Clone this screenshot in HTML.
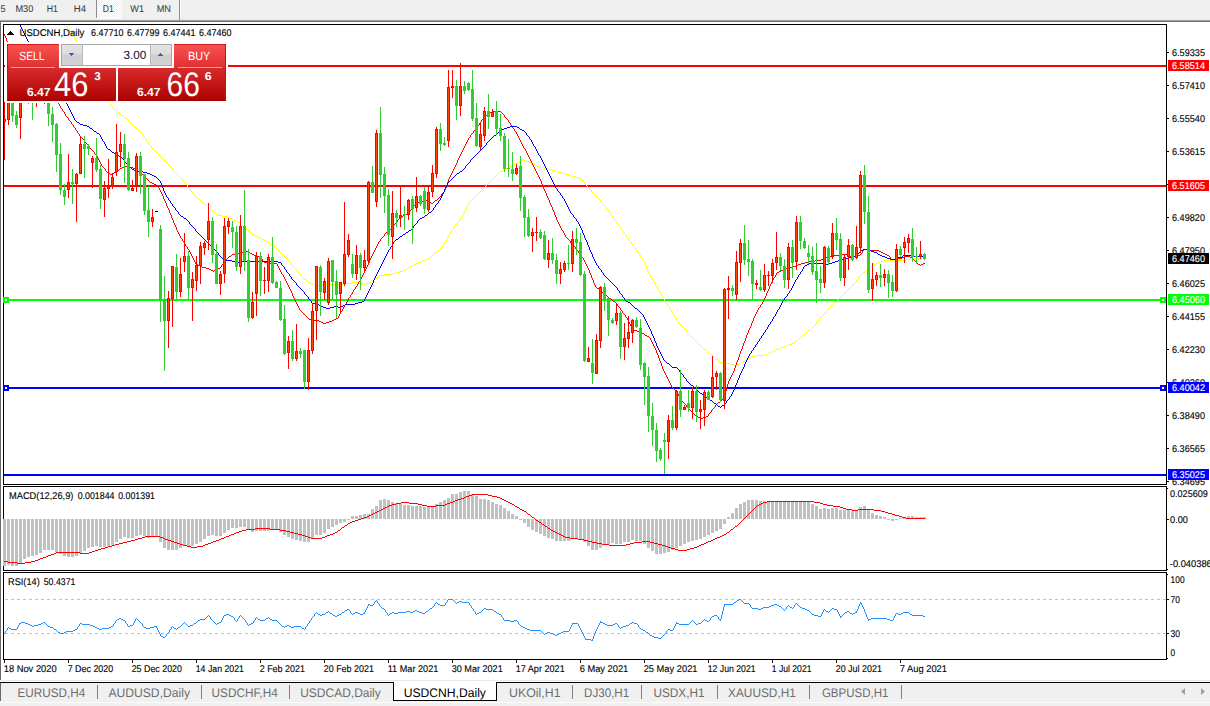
<!DOCTYPE html>
<html><head><meta charset="utf-8"><title>USDCNH,Daily</title>
<style>html,body{margin:0;padding:0;background:#fff;overflow:hidden}svg{display:block}text{font-family:"Liberation Sans",sans-serif}</style>
</head><body>
<svg width="1210" height="706" viewBox="0 0 1210 706">
<rect x="0" y="0" width="1210" height="706" fill="#ffffff"/>
<rect x="0" y="0" width="1210" height="19" fill="#f0f0f0"/>
<rect x="0" y="19" width="1210" height="1" fill="#e6e6e6"/>
<rect x="0" y="20" width="1210" height="1" fill="#a6a6a6"/>
<rect x="0" y="21" width="1210" height="1" fill="#6a6a6a"/>
<pattern id="ck" width="2" height="2" patternUnits="userSpaceOnUse"><rect width="2" height="2" fill="#f0f0f0"/><rect width="1" height="1" fill="#fff"/><rect x="1" y="1" width="1" height="1" fill="#fff"/></pattern>
<rect x="96" y="0" width="1" height="18" fill="#8c8c8c" shape-rendering="crispEdges"/>
<rect x="97" y="0" width="24" height="18" fill="url(#ck)" shape-rendering="crispEdges"/>
<rect x="96" y="18" width="26" height="1" fill="#fcfcfc"/>
<rect x="121" y="0" width="1" height="18" fill="#fcfcfc"/>
<rect x="179" y="0" width="1" height="20" fill="#8c8c8c"/>
<rect x="180" y="0" width="1" height="19" fill="#fcfcfc"/>
<text x="0.5" y="12" font-size="9.8" fill="#3a3a3a" textLength="5.0" lengthAdjust="spacingAndGlyphs" text-rendering="geometricPrecision" stroke="#3a3a3a" stroke-width="0.05">5</text>
<text x="15.4" y="12" font-size="9.8" fill="#3a3a3a" textLength="17.9" lengthAdjust="spacingAndGlyphs" text-rendering="geometricPrecision" stroke="#3a3a3a" stroke-width="0.05">M30</text>
<text x="46.8" y="12" font-size="9.8" fill="#3a3a3a" textLength="11.2" lengthAdjust="spacingAndGlyphs" text-rendering="geometricPrecision" stroke="#3a3a3a" stroke-width="0.05">H1</text>
<text x="73.8" y="12" font-size="9.8" fill="#3a3a3a" textLength="12.2" lengthAdjust="spacingAndGlyphs" text-rendering="geometricPrecision" stroke="#3a3a3a" stroke-width="0.05">H4</text>
<text x="102.8" y="12" font-size="9.8" fill="#3a3a3a" textLength="11.0" lengthAdjust="spacingAndGlyphs" text-rendering="geometricPrecision" stroke="#3a3a3a" stroke-width="0.05">D1</text>
<text x="130.3" y="12" font-size="9.8" fill="#3a3a3a" textLength="13.7" lengthAdjust="spacingAndGlyphs" text-rendering="geometricPrecision" stroke="#3a3a3a" stroke-width="0.05">W1</text>
<text x="156.7" y="12" font-size="9.8" fill="#3a3a3a" textLength="14.3" lengthAdjust="spacingAndGlyphs" text-rendering="geometricPrecision" stroke="#3a3a3a" stroke-width="0.05">MN</text>
<rect x="0" y="22" width="1" height="658" fill="#696969"/>
<clipPath id="cm"><rect x="4" y="25" width="1162" height="459"/></clipPath>
<g clip-path="url(#cm)" shape-rendering="crispEdges">
<rect x="4" y="65" width="1163" height="2" fill="#ff0000"/>
<rect x="4" y="185" width="1163" height="2" fill="#ff0000"/>
<rect x="4" y="299" width="1163" height="2" fill="#00ff00"/>
<rect x="4" y="387" width="1163" height="2" fill="#0000ff"/>
<rect x="4" y="474" width="1163" height="2" fill="#0000ff"/>
<path d="M66 25h1v1h-1zM67 26h1v2h-1zM68 28h1v1h-1zM69 29h1v2h-1zM70 31h1v1h-1zM71 32h1v2h-1zM72 34h1v2h-1zM73 36h1v1h-1zM74 37h1v2h-1zM75 39h1v1h-1zM76 40h1v2h-1zM77 42h1v2h-1zM78 44h1v2h-1zM79 46h1v2h-1zM80 48h1v2h-1zM81 50h1v2h-1zM82 52h1v2h-1zM83 54h1v2h-1zM84 56h1v3h-1zM85 59h1v2h-1zM86 61h1v2h-1zM87 63h1v2h-1zM88 65h1v2h-1zM89 67h1v2h-1zM90 69h1v2h-1zM91 71h1v2h-1zM92 73h1v2h-1zM93 75h1v2h-1zM94 77h1v2h-1zM95 79h1v1h-1zM96 80h1v2h-1zM97 82h1v2h-1zM98 84h1v2h-1zM99 86h1v2h-1zM100 88h1v1h-1zM101 89h1v2h-1zM102 91h1v2h-1zM103 93h1v1h-1zM104 94h1v2h-1zM105 96h1v2h-1zM106 98h1v1h-1zM107 99h1v2h-1zM108 101h1v2h-1zM109 103h1v1h-1zM110 104h1v1h-1zM111 105h1v1h-1zM112 106h1v1h-1zM113 107h1v2h-1zM114 109h1v1h-1zM115 110h1v1h-1zM116 111h1v1h-1zM117 112h1v1h-1zM118 112h1v1h-1zM119 113h1v1h-1zM120 114h1v1h-1zM121 115h1v1h-1zM122 115h1v1h-1zM123 116h1v1h-1zM124 117h1v1h-1zM125 118h1v1h-1zM126 118h1v1h-1zM127 119h1v1h-1zM128 120h1v1h-1zM129 121h1v1h-1zM130 122h1v1h-1zM131 123h1v1h-1zM132 124h1v1h-1zM133 125h1v1h-1zM134 126h1v1h-1zM135 127h1v1h-1zM136 128h1v1h-1zM137 129h1v1h-1zM138 130h1v1h-1zM139 131h1v1h-1zM140 132h1v1h-1zM141 133h1v1h-1zM142 134h1v2h-1zM143 136h1v1h-1zM144 137h1v1h-1zM145 138h1v2h-1zM146 140h1v1h-1zM147 141h1v1h-1zM148 142h1v2h-1zM149 144h1v1h-1zM150 145h1v1h-1zM151 146h1v2h-1zM152 148h1v1h-1zM153 149h1v1h-1zM154 150h1v1h-1zM155 151h1v1h-1zM156 152h1v1h-1zM157 153h1v1h-1zM158 154h1v1h-1zM159 155h1v1h-1zM160 156h1v1h-1zM161 157h1v1h-1zM162 158h1v1h-1zM163 159h1v1h-1zM164 160h1v1h-1zM165 161h1v1h-1zM166 162h1v1h-1zM167 163h1v1h-1zM168 164h1v1h-1zM169 165h1v1h-1zM170 166h1v1h-1zM171 167h1v1h-1zM172 168h1v2h-1zM173 170h1v1h-1zM174 171h1v1h-1zM175 172h1v1h-1zM176 173h1v1h-1zM177 174h1v1h-1zM178 175h1v1h-1zM179 176h1v1h-1zM180 177h1v1h-1zM181 178h1v1h-1zM182 179h1v2h-1zM183 181h1v1h-1zM184 182h1v1h-1zM185 183h1v1h-1zM186 184h1v1h-1zM187 185h1v2h-1zM188 187h1v1h-1zM189 188h1v1h-1zM190 189h1v1h-1zM191 190h1v2h-1zM192 192h1v1h-1zM193 193h1v2h-1zM194 195h1v1h-1zM195 196h1v1h-1zM196 197h1v1h-1zM197 198h1v1h-1zM198 198h1v1h-1zM199 199h1v1h-1zM200 200h1v1h-1zM201 201h1v1h-1zM202 202h1v1h-1zM203 203h1v1h-1zM204 203h1v1h-1zM205 204h1v1h-1zM206 205h1v1h-1zM207 206h1v1h-1zM208 207h1v1h-1zM209 208h1v1h-1zM210 209h1v1h-1zM211 210h1v1h-1zM212 210h1v1h-1zM213 211h1v1h-1zM214 212h1v1h-1zM215 213h1v1h-1zM216 214h1v1h-1zM217 215h1v1h-1zM218 215h1v1h-1zM219 215h1v1h-1zM220 215h1v1h-1zM221 215h1v1h-1zM222 216h1v1h-1zM223 216h1v1h-1zM224 216h1v1h-1zM225 216h1v1h-1zM226 216h1v1h-1zM227 216h1v1h-1zM228 217h1v1h-1zM229 217h1v1h-1zM230 218h1v1h-1zM231 218h1v1h-1zM232 219h1v1h-1zM233 219h1v1h-1zM234 220h1v1h-1zM235 220h1v1h-1zM236 221h1v1h-1zM237 221h1v1h-1zM238 222h1v1h-1zM239 222h1v1h-1zM240 223h1v1h-1zM241 224h1v1h-1zM242 225h1v1h-1zM243 226h1v1h-1zM244 227h1v1h-1zM245 228h1v1h-1zM246 228h1v1h-1zM247 229h1v1h-1zM248 230h1v1h-1zM249 231h1v1h-1zM250 232h1v1h-1zM251 233h1v1h-1zM252 234h1v1h-1zM253 234h1v1h-1zM254 235h1v1h-1zM255 235h1v1h-1zM256 236h1v1h-1zM257 236h1v1h-1zM258 237h1v1h-1zM259 237h1v1h-1zM260 238h1v1h-1zM261 238h1v1h-1zM262 239h1v1h-1zM263 239h1v1h-1zM264 240h1v1h-1zM265 240h1v1h-1zM266 241h1v1h-1zM267 241h1v1h-1zM268 242h1v1h-1zM269 243h1v1h-1zM270 244h1v1h-1zM271 244h1v1h-1zM272 245h1v1h-1zM273 246h1v1h-1zM274 246h1v1h-1zM275 247h1v1h-1zM276 248h1v1h-1zM277 249h1v1h-1zM278 250h1v1h-1zM279 251h1v1h-1zM280 252h1v1h-1zM281 253h1v1h-1zM282 254h1v1h-1zM283 255h1v1h-1zM284 256h1v1h-1zM285 257h1v1h-1zM286 258h1v1h-1zM287 259h1v1h-1zM288 260h1v1h-1zM289 261h1v1h-1zM290 262h1v1h-1zM291 263h1v2h-1zM292 265h1v1h-1zM293 266h1v1h-1zM294 267h1v1h-1zM295 268h1v1h-1zM296 269h1v2h-1zM297 271h1v1h-1zM298 272h1v1h-1zM299 273h1v1h-1zM300 274h1v2h-1zM301 276h1v1h-1zM302 277h1v1h-1zM303 278h1v1h-1zM304 279h1v1h-1zM305 279h1v1h-1zM306 280h1v1h-1zM307 281h1v1h-1zM308 282h1v1h-1zM309 282h1v1h-1zM310 283h1v1h-1zM311 283h1v1h-1zM312 284h1v1h-1zM313 284h1v1h-1zM314 285h1v1h-1zM315 285h1v1h-1zM316 285h1v1h-1zM317 285h1v1h-1zM318 285h1v1h-1zM319 285h1v1h-1zM320 285h1v1h-1zM321 285h1v1h-1zM322 285h1v1h-1zM323 285h1v1h-1zM324 285h1v1h-1zM325 285h1v1h-1zM326 284h1v1h-1zM327 284h1v1h-1zM328 284h1v1h-1zM329 284h1v1h-1zM330 284h1v1h-1zM331 284h1v1h-1zM332 284h1v1h-1zM333 284h1v1h-1zM334 284h1v1h-1zM335 284h1v1h-1zM336 284h1v1h-1zM337 284h1v1h-1zM338 284h1v1h-1zM339 284h1v1h-1zM340 284h1v1h-1zM341 284h1v1h-1zM342 284h1v1h-1zM343 284h1v1h-1zM344 283h1v1h-1zM345 283h1v1h-1zM346 283h1v1h-1zM347 283h1v1h-1zM348 283h1v1h-1zM349 283h1v1h-1zM350 283h1v1h-1zM351 283h1v1h-1zM352 282h1v1h-1zM353 282h1v1h-1zM354 282h1v1h-1zM355 282h1v1h-1zM356 282h1v1h-1zM357 282h1v1h-1zM358 283h1v1h-1zM359 283h1v1h-1zM360 283h1v1h-1zM361 283h1v1h-1zM362 284h1v1h-1zM363 284h1v1h-1zM364 284h1v1h-1zM365 283h1v1h-1zM366 283h1v1h-1zM367 283h1v1h-1zM368 283h1v1h-1zM369 282h1v1h-1zM370 282h1v1h-1zM371 282h1v1h-1zM372 281h1v1h-1zM373 280h1v1h-1zM374 279h1v1h-1zM375 278h1v1h-1zM376 278h1v1h-1zM377 277h1v1h-1zM378 276h1v1h-1zM379 275h1v1h-1zM380 275h1v1h-1zM381 275h1v1h-1zM382 275h1v1h-1zM383 275h1v1h-1zM384 274h1v1h-1zM385 274h1v1h-1zM386 274h1v1h-1zM387 274h1v1h-1zM388 274h1v1h-1zM389 274h1v1h-1zM390 274h1v1h-1zM391 274h1v1h-1zM392 273h1v1h-1zM393 273h1v1h-1zM394 273h1v1h-1zM395 273h1v1h-1zM396 272h1v1h-1zM397 272h1v1h-1zM398 272h1v1h-1zM399 272h1v1h-1zM400 271h1v1h-1zM401 271h1v1h-1zM402 271h1v1h-1zM403 270h1v1h-1zM404 270h1v1h-1zM405 269h1v1h-1zM406 269h1v1h-1zM407 268h1v1h-1zM408 267h1v1h-1zM409 267h1v1h-1zM410 266h1v1h-1zM411 266h1v1h-1zM412 265h1v1h-1zM413 265h1v1h-1zM414 264h1v1h-1zM415 264h1v1h-1zM416 263h1v1h-1zM417 263h1v1h-1zM418 262h1v1h-1zM419 262h1v1h-1zM420 262h1v1h-1zM421 261h1v1h-1zM422 261h1v1h-1zM423 260h1v1h-1zM424 260h1v1h-1zM425 260h1v1h-1zM426 259h1v1h-1zM427 259h1v1h-1zM428 258h1v1h-1zM429 258h1v1h-1zM430 257h1v1h-1zM431 256h1v1h-1zM432 255h1v1h-1zM433 254h1v1h-1zM434 253h1v1h-1zM435 252h1v1h-1zM436 252h1v1h-1zM437 251h1v1h-1zM438 250h1v1h-1zM439 249h1v1h-1zM440 248h1v1h-1zM441 247h1v1h-1zM442 246h1v1h-1zM443 244h1v2h-1zM444 242h1v2h-1zM445 241h1v1h-1zM446 239h1v2h-1zM447 237h1v2h-1zM448 235h1v2h-1zM449 234h1v1h-1zM450 232h1v2h-1zM451 230h1v2h-1zM452 229h1v1h-1zM453 228h1v1h-1zM454 226h1v2h-1zM455 225h1v1h-1zM456 224h1v1h-1zM457 222h1v2h-1zM458 221h1v1h-1zM459 220h1v1h-1zM460 218h1v2h-1zM461 217h1v1h-1zM462 215h1v2h-1zM463 213h1v2h-1zM464 211h1v2h-1zM465 209h1v2h-1zM466 207h1v2h-1zM467 205h1v2h-1zM468 203h1v2h-1zM469 202h1v1h-1zM470 201h1v1h-1zM471 200h1v1h-1zM472 199h1v1h-1zM473 198h1v1h-1zM474 197h1v1h-1zM475 196h1v1h-1zM476 195h1v1h-1zM477 194h1v1h-1zM478 193h1v1h-1zM479 192h1v1h-1zM480 191h1v1h-1zM481 190h1v1h-1zM482 189h1v1h-1zM483 188h1v1h-1zM484 187h1v1h-1zM485 186h1v1h-1zM486 185h1v1h-1zM487 184h1v1h-1zM488 183h1v1h-1zM489 182h1v1h-1zM490 181h1v1h-1zM491 180h1v1h-1zM492 179h1v1h-1zM493 178h1v1h-1zM494 177h1v1h-1zM495 176h1v1h-1zM496 175h1v1h-1zM497 174h1v1h-1zM498 173h1v1h-1zM499 172h1v1h-1zM500 171h1v1h-1zM501 171h1v1h-1zM502 170h1v1h-1zM503 170h1v1h-1zM504 169h1v1h-1zM505 169h1v1h-1zM506 168h1v1h-1zM507 168h1v1h-1zM508 167h1v1h-1zM509 167h1v1h-1zM510 166h1v1h-1zM511 166h1v1h-1zM512 165h1v1h-1zM513 165h1v1h-1zM514 164h1v1h-1zM515 163h1v1h-1zM516 163h1v1h-1zM517 162h1v1h-1zM518 162h1v1h-1zM519 161h1v1h-1zM520 161h1v1h-1zM521 161h1v1h-1zM522 160h1v1h-1zM523 160h1v1h-1zM524 160h1v1h-1zM525 160h1v1h-1zM526 161h1v1h-1zM527 161h1v1h-1zM528 161h1v1h-1zM529 162h1v1h-1zM530 162h1v1h-1zM531 163h1v1h-1zM532 163h1v1h-1zM533 164h1v1h-1zM534 164h1v1h-1zM535 165h1v1h-1zM536 165h1v1h-1zM537 166h1v1h-1zM538 166h1v1h-1zM539 166h1v1h-1zM540 167h1v1h-1zM541 167h1v1h-1zM542 167h1v1h-1zM543 167h1v1h-1zM544 168h1v1h-1zM545 168h1v1h-1zM546 168h1v1h-1zM547 168h1v1h-1zM548 169h1v1h-1zM549 169h1v1h-1zM550 169h1v1h-1zM551 169h1v1h-1zM552 170h1v1h-1zM553 170h1v1h-1zM554 170h1v1h-1zM555 171h1v1h-1zM556 171h1v1h-1zM557 171h1v1h-1zM558 172h1v1h-1zM559 172h1v1h-1zM560 172h1v1h-1zM561 172h1v1h-1zM562 173h1v1h-1zM563 173h1v1h-1zM564 173h1v1h-1zM565 174h1v1h-1zM566 174h1v1h-1zM567 174h1v1h-1zM568 174h1v1h-1zM569 175h1v1h-1zM570 175h1v1h-1zM571 175h1v1h-1zM572 176h1v1h-1zM573 176h1v1h-1zM574 176h1v1h-1zM575 176h1v1h-1zM576 177h1v1h-1zM577 177h1v1h-1zM578 177h1v1h-1zM579 178h1v1h-1zM580 178h1v1h-1zM581 179h1v1h-1zM582 180h1v1h-1zM583 181h1v1h-1zM584 182h1v2h-1zM585 184h1v1h-1zM586 185h1v1h-1zM587 186h1v1h-1zM588 187h1v1h-1zM589 188h1v1h-1zM590 189h1v1h-1zM591 190h1v2h-1zM592 192h1v1h-1zM593 193h1v1h-1zM594 194h1v1h-1zM595 195h1v1h-1zM596 196h1v1h-1zM597 197h1v1h-1zM598 198h1v1h-1zM599 199h1v1h-1zM600 200h1v2h-1zM601 202h1v1h-1zM602 203h1v1h-1zM603 204h1v1h-1zM604 205h1v1h-1zM605 206h1v1h-1zM606 207h1v2h-1zM607 209h1v1h-1zM608 210h1v1h-1zM609 211h1v2h-1zM610 213h1v1h-1zM611 214h1v2h-1zM612 216h1v1h-1zM613 217h1v2h-1zM614 219h1v1h-1zM615 220h1v1h-1zM616 221h1v2h-1zM617 223h1v1h-1zM618 224h1v2h-1zM619 226h1v1h-1zM620 227h1v2h-1zM621 229h1v1h-1zM622 230h1v1h-1zM623 231h1v2h-1zM624 233h1v1h-1zM625 234h1v1h-1zM626 235h1v2h-1zM627 237h1v1h-1zM628 238h1v2h-1zM629 240h1v1h-1zM630 241h1v1h-1zM631 242h1v2h-1zM632 244h1v1h-1zM633 245h1v2h-1zM634 247h1v1h-1zM635 248h1v1h-1zM636 249h1v2h-1zM637 251h1v1h-1zM638 252h1v2h-1zM639 254h1v1h-1zM640 255h1v2h-1zM641 257h1v1h-1zM642 258h1v1h-1zM643 259h1v2h-1zM644 261h1v2h-1zM645 263h1v3h-1zM646 266h1v3h-1zM647 269h1v2h-1zM648 271h1v2h-1zM649 273h1v2h-1zM650 275h1v2h-1zM651 277h1v1h-1zM652 278h1v2h-1zM653 280h1v2h-1zM654 282h1v2h-1zM655 284h1v2h-1zM656 286h1v1h-1zM657 287h1v2h-1zM658 289h1v2h-1zM659 291h1v1h-1zM660 292h1v2h-1zM661 294h1v2h-1zM662 296h1v2h-1zM663 298h1v1h-1zM664 299h1v2h-1zM665 301h1v2h-1zM666 303h1v1h-1zM667 304h1v2h-1zM668 306h1v1h-1zM669 307h1v2h-1zM670 309h1v1h-1zM671 310h1v2h-1zM672 312h1v1h-1zM673 313h1v2h-1zM674 315h1v2h-1zM675 317h1v1h-1zM676 318h1v2h-1zM677 320h1v1h-1zM678 321h1v2h-1zM679 323h1v1h-1zM680 324h1v1h-1zM681 325h1v1h-1zM682 326h1v1h-1zM683 327h1v1h-1zM684 328h1v1h-1zM685 329h1v1h-1zM686 330h1v2h-1zM687 332h1v1h-1zM688 333h1v1h-1zM689 334h1v1h-1zM690 335h1v1h-1zM691 336h1v1h-1zM692 337h1v1h-1zM693 338h1v1h-1zM694 339h1v1h-1zM695 340h1v1h-1zM696 341h1v1h-1zM697 342h1v1h-1zM698 343h1v1h-1zM699 344h1v1h-1zM700 345h1v1h-1zM701 346h1v1h-1zM702 347h1v1h-1zM703 348h1v1h-1zM704 349h1v1h-1zM705 349h1v1h-1zM706 350h1v1h-1zM707 351h1v1h-1zM708 352h1v1h-1zM709 353h1v1h-1zM710 353h1v1h-1zM711 354h1v1h-1zM712 355h1v1h-1zM713 356h1v1h-1zM714 357h1v1h-1zM715 358h1v1h-1zM716 359h1v1h-1zM717 359h1v1h-1zM718 360h1v1h-1zM719 361h1v1h-1zM720 362h1v1h-1zM721 362h1v1h-1zM722 362h1v1h-1zM723 362h1v1h-1zM724 362h1v1h-1zM725 363h1v1h-1zM726 363h1v1h-1zM727 363h1v1h-1zM728 363h1v1h-1zM729 363h1v1h-1zM730 363h1v1h-1zM731 364h1v1h-1zM732 364h1v1h-1zM733 364h1v1h-1zM734 365h1v1h-1zM735 365h1v1h-1zM736 365h1v1h-1zM737 364h1v1h-1zM738 364h1v1h-1zM739 363h1v1h-1zM740 363h1v1h-1zM741 362h1v1h-1zM742 362h1v1h-1zM743 361h1v1h-1zM744 361h1v1h-1zM745 360h1v1h-1zM746 359h1v1h-1zM747 359h1v1h-1zM748 358h1v1h-1zM749 358h1v1h-1zM750 357h1v1h-1zM751 357h1v1h-1zM752 356h1v1h-1zM753 356h1v1h-1zM754 356h1v1h-1zM755 355h1v1h-1zM756 355h1v1h-1zM757 355h1v1h-1zM758 355h1v1h-1zM759 355h1v1h-1zM760 355h1v1h-1zM761 355h1v1h-1zM762 355h1v1h-1zM763 355h1v1h-1zM764 355h1v1h-1zM765 355h1v1h-1zM766 354h1v1h-1zM767 354h1v1h-1zM768 353h1v1h-1zM769 353h1v1h-1zM770 352h1v1h-1zM771 352h1v1h-1zM772 351h1v1h-1zM773 351h1v1h-1zM774 350h1v1h-1zM775 350h1v1h-1zM776 349h1v1h-1zM777 349h1v1h-1zM778 349h1v1h-1zM779 348h1v1h-1zM780 348h1v1h-1zM781 347h1v1h-1zM782 347h1v1h-1zM783 347h1v1h-1zM784 346h1v1h-1zM785 346h1v1h-1zM786 345h1v1h-1zM787 345h1v1h-1zM788 345h1v1h-1zM789 344h1v1h-1zM790 344h1v1h-1zM791 344h1v1h-1zM792 343h1v1h-1zM793 343h1v1h-1zM794 342h1v1h-1zM795 341h1v1h-1zM796 341h1v1h-1zM797 340h1v1h-1zM798 339h1v1h-1zM799 338h1v1h-1zM800 337h1v1h-1zM801 337h1v1h-1zM802 336h1v1h-1zM803 335h1v1h-1zM804 334h1v1h-1zM805 333h1v1h-1zM806 332h1v1h-1zM807 331h1v1h-1zM808 330h1v1h-1zM809 330h1v1h-1zM810 329h1v1h-1zM811 328h1v1h-1zM812 327h1v1h-1zM813 326h1v1h-1zM814 325h1v1h-1zM815 324h1v1h-1zM816 322h1v2h-1zM817 321h1v1h-1zM818 320h1v1h-1zM819 319h1v1h-1zM820 317h1v2h-1zM821 316h1v1h-1zM822 315h1v1h-1zM823 314h1v1h-1zM824 313h1v1h-1zM825 312h1v1h-1zM826 311h1v1h-1zM827 310h1v1h-1zM828 308h1v2h-1zM829 307h1v1h-1zM830 306h1v1h-1zM831 305h1v1h-1zM832 304h1v1h-1zM833 303h1v1h-1zM834 302h1v1h-1zM835 301h1v1h-1zM836 301h1v1h-1zM837 300h1v1h-1zM838 299h1v1h-1zM839 298h1v1h-1zM840 297h1v1h-1zM841 296h1v1h-1zM842 295h1v1h-1zM843 294h1v1h-1zM844 293h1v1h-1zM845 292h1v1h-1zM846 291h1v1h-1zM847 290h1v1h-1zM848 289h1v1h-1zM849 288h1v1h-1zM850 287h1v1h-1zM851 286h1v1h-1zM852 285h1v1h-1zM853 284h1v1h-1zM854 283h1v1h-1zM855 282h1v1h-1zM856 280h1v2h-1zM857 279h1v1h-1zM858 278h1v1h-1zM859 276h1v2h-1zM860 275h1v1h-1zM861 274h1v1h-1zM862 273h1v1h-1zM863 272h1v1h-1zM864 272h1v1h-1zM865 271h1v1h-1zM866 270h1v1h-1zM867 269h1v1h-1zM868 269h1v1h-1zM869 268h1v1h-1zM870 267h1v1h-1zM871 266h1v1h-1zM872 266h1v1h-1zM873 265h1v1h-1zM874 264h1v1h-1zM875 264h1v1h-1zM876 263h1v1h-1zM877 262h1v1h-1zM878 262h1v1h-1zM879 261h1v1h-1zM880 261h1v1h-1zM881 261h1v1h-1zM882 261h1v1h-1zM883 260h1v1h-1zM884 260h1v1h-1zM885 260h1v1h-1zM886 260h1v1h-1zM887 260h1v1h-1zM888 260h1v1h-1zM889 260h1v1h-1zM890 260h1v1h-1zM891 260h1v1h-1zM892 260h1v1h-1zM893 260h1v1h-1zM894 260h1v1h-1zM895 260h1v1h-1zM896 260h1v1h-1zM897 260h1v1h-1zM898 260h1v1h-1zM899 260h1v1h-1zM900 260h1v1h-1zM901 260h1v1h-1zM902 260h1v1h-1zM903 260h1v1h-1zM904 260h1v1h-1zM905 260h1v1h-1zM906 259h1v1h-1zM907 259h1v1h-1zM908 259h1v1h-1zM909 259h1v1h-1zM910 259h1v1h-1zM911 259h1v1h-1zM912 258h1v1h-1zM913 258h1v1h-1zM914 258h1v1h-1zM915 258h1v1h-1zM916 258h1v1h-1zM917 258h1v1h-1zM918 258h1v1h-1zM919 258h1v1h-1zM920 257h1v1h-1zM921 257h1v1h-1zM922 257h1v1h-1zM923 257h1v1h-1z" fill="#ffff00"/>
<path d="M4 34h1v2h-1zM5 36h1v2h-1zM6 38h1v3h-1zM7 41h1v2h-1zM8 43h1v2h-1zM9 45h1v1h-1zM10 46h1v1h-1zM11 47h1v2h-1zM12 49h1v1h-1zM13 50h1v1h-1zM14 51h1v2h-1zM15 53h1v1h-1zM16 54h1v2h-1zM17 56h1v1h-1zM18 57h1v1h-1zM19 58h1v2h-1zM20 60h1v1h-1zM21 61h1v1h-1zM22 62h1v2h-1zM23 64h1v1h-1zM24 65h1v1h-1zM25 66h1v1h-1zM26 67h1v2h-1zM27 69h1v1h-1zM28 70h1v1h-1zM29 71h1v1h-1zM30 72h1v2h-1zM31 74h1v1h-1zM32 75h1v1h-1zM33 76h1v1h-1zM34 77h1v2h-1zM35 79h1v1h-1zM36 80h1v1h-1zM37 81h1v1h-1zM38 82h1v2h-1zM39 84h1v1h-1zM40 85h1v1h-1zM41 86h1v1h-1zM42 87h1v1h-1zM43 88h1v1h-1zM44 89h1v1h-1zM45 90h1v1h-1zM46 91h1v1h-1zM47 92h1v1h-1zM48 93h1v1h-1zM49 94h1v1h-1zM50 95h1v1h-1zM51 96h1v1h-1zM52 97h1v1h-1zM53 98h1v1h-1zM54 99h1v1h-1zM55 100h1v1h-1zM56 101h1v1h-1zM57 102h1v1h-1zM58 103h1v1h-1zM59 104h1v2h-1zM60 106h1v2h-1zM61 108h1v1h-1zM62 109h1v2h-1zM63 111h1v1h-1zM64 112h1v2h-1zM65 114h1v2h-1zM66 116h1v1h-1zM67 117h1v1h-1zM68 118h1v2h-1zM69 120h1v1h-1zM70 121h1v1h-1zM71 122h1v2h-1zM72 124h1v1h-1zM73 125h1v2h-1zM74 127h1v1h-1zM75 128h1v2h-1zM76 130h1v1h-1zM77 131h1v2h-1zM78 133h1v1h-1zM79 134h1v2h-1zM80 136h1v1h-1zM81 137h1v1h-1zM82 138h1v1h-1zM83 139h1v1h-1zM84 140h1v2h-1zM85 142h1v1h-1zM86 143h1v1h-1zM87 144h1v1h-1zM88 145h1v1h-1zM89 146h1v2h-1zM90 148h1v1h-1zM91 149h1v1h-1zM92 150h1v1h-1zM93 151h1v1h-1zM94 152h1v2h-1zM95 154h1v1h-1zM96 155h1v1h-1zM97 156h1v2h-1zM98 158h1v2h-1zM99 160h1v2h-1zM100 162h1v2h-1zM101 164h1v2h-1zM102 166h1v1h-1zM103 167h1v1h-1zM104 168h1v1h-1zM105 169h1v2h-1zM106 171h1v1h-1zM107 172h1v1h-1zM108 173h1v1h-1zM109 173h1v1h-1zM110 174h1v1h-1zM111 174h1v1h-1zM112 173h1v1h-1zM113 173h1v1h-1zM114 172h1v1h-1zM115 172h1v1h-1zM116 171h1v1h-1zM117 170h1v1h-1zM118 170h1v1h-1zM119 169h1v1h-1zM120 168h1v1h-1zM121 168h1v1h-1zM122 167h1v1h-1zM123 167h1v1h-1zM124 166h1v1h-1zM125 166h1v1h-1zM126 166h1v1h-1zM127 166h1v1h-1zM128 167h1v1h-1zM129 167h1v1h-1zM130 167h1v1h-1zM131 167h1v1h-1zM132 167h1v1h-1zM133 168h1v1h-1zM134 168h1v1h-1zM135 169h1v1h-1zM136 170h1v1h-1zM137 170h1v1h-1zM138 171h1v1h-1zM139 171h1v1h-1zM140 172h1v1h-1zM141 173h1v1h-1zM142 174h1v1h-1zM143 175h1v1h-1zM144 176h1v1h-1zM145 177h1v1h-1zM146 178h1v1h-1zM147 179h1v1h-1zM148 180h1v1h-1zM149 181h1v1h-1zM150 182h1v1h-1zM151 182h1v1h-1zM152 183h1v1h-1zM153 183h1v1h-1zM154 184h1v1h-1zM155 184h1v1h-1zM156 185h1v1h-1zM157 185h1v1h-1zM158 186h1v2h-1zM159 188h1v2h-1zM160 190h1v2h-1zM161 192h1v2h-1zM162 194h1v2h-1zM163 196h1v3h-1zM164 199h1v2h-1zM165 201h1v2h-1zM166 203h1v3h-1zM167 206h1v2h-1zM168 208h1v2h-1zM169 210h1v3h-1zM170 213h1v2h-1zM171 215h1v3h-1zM172 218h1v2h-1zM173 220h1v3h-1zM174 223h1v2h-1zM175 225h1v2h-1zM176 227h1v3h-1zM177 230h1v2h-1zM178 232h1v2h-1zM179 234h1v2h-1zM180 236h1v2h-1zM181 238h1v1h-1zM182 239h1v2h-1zM183 241h1v1h-1zM184 242h1v2h-1zM185 244h1v2h-1zM186 246h1v1h-1zM187 247h1v2h-1zM188 249h1v1h-1zM189 250h1v2h-1zM190 252h1v2h-1zM191 254h1v2h-1zM192 256h1v2h-1zM193 258h1v2h-1zM194 260h1v2h-1zM195 262h1v2h-1zM196 264h1v1h-1zM197 264h1v1h-1zM198 265h1v1h-1zM199 265h1v1h-1zM200 266h1v1h-1zM201 266h1v1h-1zM202 267h1v1h-1zM203 267h1v1h-1zM204 267h1v1h-1zM205 267h1v1h-1zM206 268h1v1h-1zM207 268h1v1h-1zM208 268h1v1h-1zM209 269h1v1h-1zM210 269h1v1h-1zM211 270h1v1h-1zM212 270h1v1h-1zM213 271h1v1h-1zM214 270h1v1h-1zM215 270h1v1h-1zM216 269h1v1h-1zM217 269h1v1h-1zM218 268h1v1h-1zM219 268h1v1h-1zM220 267h1v1h-1zM221 265h1v2h-1zM222 264h1v1h-1zM223 263h1v1h-1zM224 261h1v2h-1zM225 260h1v1h-1zM226 259h1v1h-1zM227 258h1v1h-1zM228 257h1v1h-1zM229 256h1v1h-1zM230 256h1v1h-1zM231 255h1v1h-1zM232 254h1v1h-1zM233 254h1v1h-1zM234 254h1v1h-1zM235 254h1v1h-1zM236 253h1v1h-1zM237 253h1v1h-1zM238 253h1v1h-1zM239 253h1v1h-1zM240 253h1v1h-1zM241 252h1v1h-1zM242 252h1v1h-1zM243 252h1v1h-1zM244 252h1v1h-1zM245 251h1v1h-1zM246 251h1v1h-1zM247 251h1v1h-1zM248 252h1v1h-1zM249 252h1v1h-1zM250 253h1v1h-1zM251 253h1v1h-1zM252 254h1v1h-1zM253 254h1v1h-1zM254 255h1v1h-1zM255 255h1v1h-1zM256 255h1v1h-1zM257 256h1v1h-1zM258 256h1v1h-1zM259 256h1v1h-1zM260 257h1v1h-1zM261 258h1v1h-1zM262 259h1v2h-1zM263 261h1v1h-1zM264 262h1v1h-1zM265 262h1v1h-1zM266 262h1v1h-1zM267 263h1v1h-1zM268 263h1v1h-1zM269 263h1v1h-1zM270 263h1v1h-1zM271 263h1v1h-1zM272 263h1v1h-1zM273 263h1v1h-1zM274 263h1v1h-1zM275 263h1v1h-1zM276 263h1v1h-1zM277 264h1v2h-1zM278 266h1v2h-1zM279 268h1v2h-1zM280 270h1v2h-1zM281 272h1v2h-1zM282 274h1v1h-1zM283 275h1v2h-1zM284 277h1v2h-1zM285 279h1v2h-1zM286 281h1v2h-1zM287 283h1v2h-1zM288 285h1v2h-1zM289 287h1v2h-1zM290 289h1v2h-1zM291 291h1v2h-1zM292 293h1v3h-1zM293 296h1v2h-1zM294 298h1v2h-1zM295 300h1v2h-1zM296 302h1v2h-1zM297 304h1v2h-1zM298 306h1v2h-1zM299 308h1v2h-1zM300 310h1v1h-1zM301 311h1v1h-1zM302 312h1v1h-1zM303 313h1v1h-1zM304 314h1v1h-1zM305 315h1v1h-1zM306 316h1v1h-1zM307 317h1v1h-1zM308 318h1v1h-1zM309 319h1v1h-1zM310 319h1v1h-1zM311 319h1v1h-1zM312 319h1v1h-1zM313 319h1v1h-1zM314 320h1v1h-1zM315 320h1v1h-1zM316 320h1v1h-1zM317 320h1v1h-1zM318 320h1v1h-1zM319 321h1v1h-1zM320 321h1v1h-1zM321 322h1v1h-1zM322 322h1v1h-1zM323 323h1v1h-1zM324 323h1v1h-1zM325 323h1v1h-1zM326 322h1v1h-1zM327 322h1v1h-1zM328 322h1v1h-1zM329 321h1v1h-1zM330 321h1v1h-1zM331 321h1v1h-1zM332 320h1v1h-1zM333 320h1v1h-1zM334 319h1v1h-1zM335 319h1v1h-1zM336 318h1v1h-1zM337 318h1v1h-1zM338 316h1v2h-1zM339 314h1v2h-1zM340 312h1v2h-1zM341 311h1v1h-1zM342 309h1v2h-1zM343 307h1v2h-1zM344 305h1v2h-1zM345 304h1v1h-1zM346 302h1v2h-1zM347 300h1v2h-1zM348 298h1v2h-1zM349 297h1v1h-1zM350 295h1v2h-1zM351 294h1v1h-1zM352 292h1v2h-1zM353 290h1v2h-1zM354 289h1v1h-1zM355 287h1v2h-1zM356 286h1v1h-1zM357 284h1v2h-1zM358 282h1v2h-1zM359 281h1v1h-1zM360 279h1v2h-1zM361 277h1v2h-1zM362 275h1v2h-1zM363 273h1v2h-1zM364 271h1v2h-1zM365 269h1v2h-1zM366 267h1v2h-1zM367 265h1v2h-1zM368 263h1v2h-1zM369 260h1v3h-1zM370 258h1v2h-1zM371 256h1v2h-1zM372 254h1v2h-1zM373 252h1v2h-1zM374 250h1v2h-1zM375 248h1v2h-1zM376 246h1v2h-1zM377 244h1v2h-1zM378 242h1v2h-1zM379 241h1v1h-1zM380 239h1v2h-1zM381 238h1v1h-1zM382 237h1v1h-1zM383 236h1v1h-1zM384 234h1v2h-1zM385 233h1v1h-1zM386 232h1v1h-1zM387 231h1v1h-1zM388 230h1v1h-1zM389 230h1v1h-1zM390 229h1v1h-1zM391 228h1v1h-1zM392 227h1v1h-1zM393 225h1v2h-1zM394 224h1v1h-1zM395 223h1v1h-1zM396 222h1v1h-1zM397 220h1v2h-1zM398 219h1v1h-1zM399 218h1v1h-1zM400 217h1v1h-1zM401 217h1v1h-1zM402 216h1v1h-1zM403 215h1v1h-1zM404 215h1v1h-1zM405 214h1v1h-1zM406 214h1v1h-1zM407 213h1v1h-1zM408 212h1v1h-1zM409 211h1v1h-1zM410 210h1v1h-1zM411 209h1v1h-1zM412 207h1v2h-1zM413 206h1v1h-1zM414 205h1v1h-1zM415 204h1v1h-1zM416 203h1v1h-1zM417 203h1v1h-1zM418 202h1v1h-1zM419 202h1v1h-1zM420 202h1v1h-1zM421 201h1v1h-1zM422 201h1v1h-1zM423 201h1v1h-1zM424 200h1v1h-1zM425 200h1v1h-1zM426 200h1v1h-1zM427 201h1v1h-1zM428 201h1v1h-1zM429 202h1v1h-1zM430 202h1v1h-1zM431 203h1v1h-1zM432 203h1v1h-1zM433 202h1v1h-1zM434 201h1v1h-1zM435 200h1v1h-1zM436 200h1v1h-1zM437 199h1v1h-1zM438 198h1v1h-1zM439 197h1v1h-1zM440 196h1v1h-1zM441 194h1v2h-1zM442 193h1v1h-1zM443 192h1v1h-1zM444 190h1v2h-1zM445 188h1v2h-1zM446 185h1v3h-1zM447 182h1v3h-1zM448 179h1v3h-1zM449 177h1v2h-1zM450 175h1v2h-1zM451 173h1v2h-1zM452 171h1v2h-1zM453 169h1v2h-1zM454 167h1v2h-1zM455 165h1v2h-1zM456 163h1v2h-1zM457 160h1v3h-1zM458 158h1v2h-1zM459 156h1v2h-1zM460 154h1v2h-1zM461 152h1v2h-1zM462 150h1v2h-1zM463 148h1v2h-1zM464 146h1v2h-1zM465 144h1v2h-1zM466 142h1v2h-1zM467 140h1v2h-1zM468 138h1v2h-1zM469 137h1v1h-1zM470 135h1v2h-1zM471 134h1v1h-1zM472 133h1v1h-1zM473 131h1v2h-1zM474 130h1v1h-1zM475 129h1v1h-1zM476 127h1v2h-1zM477 126h1v1h-1zM478 125h1v1h-1zM479 123h1v2h-1zM480 122h1v1h-1zM481 120h1v2h-1zM482 119h1v1h-1zM483 118h1v1h-1zM484 117h1v1h-1zM485 116h1v1h-1zM486 115h1v1h-1zM487 114h1v1h-1zM488 113h1v1h-1zM489 112h1v1h-1zM490 112h1v1h-1zM491 112h1v1h-1zM492 111h1v1h-1zM493 111h1v1h-1zM494 111h1v1h-1zM495 111h1v1h-1zM496 111h1v1h-1zM497 111h1v1h-1zM498 111h1v1h-1zM499 111h1v1h-1zM500 111h1v1h-1zM501 112h1v1h-1zM502 113h1v1h-1zM503 114h1v1h-1zM504 115h1v2h-1zM505 117h1v1h-1zM506 118h1v1h-1zM507 119h1v1h-1zM508 120h1v2h-1zM509 122h1v1h-1zM510 123h1v2h-1zM511 125h1v1h-1zM512 126h1v2h-1zM513 128h1v1h-1zM514 129h1v2h-1zM515 131h1v1h-1zM516 132h1v2h-1zM517 134h1v2h-1zM518 136h1v2h-1zM519 138h1v2h-1zM520 140h1v2h-1zM521 142h1v2h-1zM522 144h1v2h-1zM523 146h1v2h-1zM524 148h1v1h-1zM525 149h1v2h-1zM526 151h1v2h-1zM527 153h1v2h-1zM528 155h1v2h-1zM529 157h1v2h-1zM530 159h1v2h-1zM531 161h1v2h-1zM532 163h1v2h-1zM533 165h1v2h-1zM534 167h1v2h-1zM535 169h1v2h-1zM536 171h1v2h-1zM537 173h1v2h-1zM538 175h1v2h-1zM539 177h1v2h-1zM540 179h1v2h-1zM541 181h1v3h-1zM542 184h1v2h-1zM543 186h1v3h-1zM544 189h1v2h-1zM545 191h1v2h-1zM546 193h1v3h-1zM547 196h1v2h-1zM548 198h1v2h-1zM549 200h1v3h-1zM550 203h1v2h-1zM551 205h1v2h-1zM552 207h1v3h-1zM553 210h1v2h-1zM554 212h1v3h-1zM555 215h1v2h-1zM556 217h1v3h-1zM557 220h1v2h-1zM558 222h1v2h-1zM559 224h1v2h-1zM560 226h1v2h-1zM561 228h1v2h-1zM562 230h1v1h-1zM563 231h1v2h-1zM564 233h1v2h-1zM565 235h1v2h-1zM566 237h1v1h-1zM567 238h1v1h-1zM568 239h1v1h-1zM569 240h1v1h-1zM570 241h1v2h-1zM571 243h1v1h-1zM572 244h1v1h-1zM573 245h1v1h-1zM574 246h1v1h-1zM575 247h1v2h-1zM576 249h1v1h-1zM577 250h1v1h-1zM578 251h1v2h-1zM579 253h1v1h-1zM580 254h1v1h-1zM581 255h1v2h-1zM582 257h1v1h-1zM583 258h1v2h-1zM584 260h1v2h-1zM585 262h1v2h-1zM586 264h1v2h-1zM587 266h1v2h-1zM588 268h1v2h-1zM589 270h1v3h-1zM590 273h1v2h-1zM591 275h1v3h-1zM592 278h1v2h-1zM593 280h1v3h-1zM594 283h1v2h-1zM595 285h1v2h-1zM596 287h1v1h-1zM597 288h1v1h-1zM598 288h1v1h-1zM599 289h1v1h-1zM600 290h1v1h-1zM601 291h1v1h-1zM602 292h1v1h-1zM603 293h1v1h-1zM604 293h1v1h-1zM605 294h1v1h-1zM606 295h1v1h-1zM607 296h1v1h-1zM608 297h1v1h-1zM609 298h1v1h-1zM610 298h1v1h-1zM611 299h1v1h-1zM612 300h1v1h-1zM613 301h1v1h-1zM614 301h1v1h-1zM615 302h1v1h-1zM616 303h1v1h-1zM617 304h1v2h-1zM618 306h1v1h-1zM619 307h1v1h-1zM620 308h1v2h-1zM621 310h1v1h-1zM622 311h1v2h-1zM623 313h1v1h-1zM624 314h1v1h-1zM625 315h1v2h-1zM626 317h1v1h-1zM627 318h1v2h-1zM628 320h1v2h-1zM629 322h1v2h-1zM630 324h1v2h-1zM631 326h1v2h-1zM632 328h1v2h-1zM633 329h1v1h-1zM634 330h1v1h-1zM635 330h1v1h-1zM636 330h1v1h-1zM637 331h1v1h-1zM638 331h1v1h-1zM639 331h1v1h-1zM640 332h1v1h-1zM641 332h1v1h-1zM642 333h1v1h-1zM643 333h1v1h-1zM644 334h1v1h-1zM645 335h1v1h-1zM646 335h1v1h-1zM647 336h1v1h-1zM648 336h1v1h-1zM649 337h1v1h-1zM650 338h1v2h-1zM651 340h1v2h-1zM652 342h1v2h-1zM653 344h1v2h-1zM654 346h1v2h-1zM655 348h1v2h-1zM656 350h1v3h-1zM657 353h1v2h-1zM658 355h1v3h-1zM659 358h1v3h-1zM660 361h1v2h-1zM661 363h1v3h-1zM662 366h1v3h-1zM663 369h1v2h-1zM664 371h1v2h-1zM665 373h1v2h-1zM666 375h1v2h-1zM667 377h1v2h-1zM668 379h1v2h-1zM669 381h1v2h-1zM670 383h1v2h-1zM671 385h1v2h-1zM672 387h1v1h-1zM673 388h1v1h-1zM674 389h1v1h-1zM675 390h1v1h-1zM676 391h1v1h-1zM677 392h1v2h-1zM678 394h1v2h-1zM679 396h1v1h-1zM680 397h1v2h-1zM681 399h1v2h-1zM682 401h1v1h-1zM683 402h1v1h-1zM684 403h1v1h-1zM685 404h1v1h-1zM686 405h1v2h-1zM687 407h1v1h-1zM688 408h1v1h-1zM689 409h1v1h-1zM690 410h1v1h-1zM691 411h1v1h-1zM692 412h1v1h-1zM693 413h1v1h-1zM694 414h1v1h-1zM695 415h1v1h-1zM696 416h1v1h-1zM697 416h1v1h-1zM698 417h1v1h-1zM699 417h1v1h-1zM700 418h1v1h-1zM701 418h1v1h-1zM702 418h1v1h-1zM703 417h1v1h-1zM704 417h1v1h-1zM705 417h1v1h-1zM706 416h1v1h-1zM707 416h1v1h-1zM708 414h1v2h-1zM709 413h1v1h-1zM710 412h1v1h-1zM711 410h1v2h-1zM712 409h1v1h-1zM713 408h1v1h-1zM714 407h1v1h-1zM715 405h1v2h-1zM716 404h1v1h-1zM717 403h1v1h-1zM718 402h1v1h-1zM719 402h1v1h-1zM720 401h1v1h-1zM721 400h1v1h-1zM722 399h1v1h-1zM723 399h1v1h-1zM724 396h1v3h-1zM725 391h1v5h-1zM726 387h1v4h-1zM727 384h1v3h-1zM728 381h1v3h-1zM729 379h1v2h-1zM730 377h1v2h-1zM731 375h1v2h-1zM732 373h1v2h-1zM733 371h1v2h-1zM734 368h1v3h-1zM735 365h1v3h-1zM736 362h1v3h-1zM737 360h1v2h-1zM738 357h1v3h-1zM739 354h1v3h-1zM740 351h1v3h-1zM741 349h1v2h-1zM742 346h1v3h-1zM743 343h1v3h-1zM744 341h1v2h-1zM745 338h1v3h-1zM746 335h1v3h-1zM747 333h1v2h-1zM748 330h1v3h-1zM749 328h1v2h-1zM750 326h1v2h-1zM751 323h1v3h-1zM752 321h1v2h-1zM753 318h1v3h-1zM754 316h1v2h-1zM755 314h1v2h-1zM756 312h1v2h-1zM757 310h1v2h-1zM758 308h1v2h-1zM759 307h1v1h-1zM760 305h1v2h-1zM761 304h1v1h-1zM762 302h1v2h-1zM763 300h1v2h-1zM764 298h1v2h-1zM765 296h1v2h-1zM766 293h1v3h-1zM767 291h1v2h-1zM768 289h1v2h-1zM769 286h1v3h-1zM770 284h1v2h-1zM771 282h1v2h-1zM772 280h1v2h-1zM773 278h1v2h-1zM774 277h1v1h-1zM775 275h1v2h-1zM776 273h1v2h-1zM777 272h1v1h-1zM778 272h1v1h-1zM779 271h1v1h-1zM780 271h1v1h-1zM781 270h1v1h-1zM782 270h1v1h-1zM783 269h1v1h-1zM784 269h1v1h-1zM785 268h1v1h-1zM786 268h1v1h-1zM787 268h1v1h-1zM788 267h1v1h-1zM789 267h1v1h-1zM790 267h1v1h-1zM791 267h1v1h-1zM792 266h1v1h-1zM793 266h1v1h-1zM794 266h1v1h-1zM795 266h1v1h-1zM796 265h1v1h-1zM797 265h1v1h-1zM798 264h1v1h-1zM799 264h1v1h-1zM800 264h1v1h-1zM801 263h1v1h-1zM802 263h1v1h-1zM803 263h1v1h-1zM804 263h1v1h-1zM805 262h1v1h-1zM806 262h1v1h-1zM807 262h1v1h-1zM808 262h1v1h-1zM809 261h1v1h-1zM810 261h1v1h-1zM811 261h1v1h-1zM812 261h1v1h-1zM813 261h1v1h-1zM814 261h1v1h-1zM815 260h1v1h-1zM816 260h1v1h-1zM817 260h1v1h-1zM818 260h1v1h-1zM819 260h1v1h-1zM820 260h1v1h-1zM821 259h1v1h-1zM822 259h1v1h-1zM823 258h1v1h-1zM824 258h1v1h-1zM825 258h1v1h-1zM826 257h1v1h-1zM827 257h1v1h-1zM828 257h1v1h-1zM829 257h1v1h-1zM830 256h1v1h-1zM831 256h1v1h-1zM832 256h1v1h-1zM833 256h1v1h-1zM834 255h1v1h-1zM835 255h1v1h-1zM836 255h1v1h-1zM837 255h1v1h-1zM838 255h1v1h-1zM839 255h1v1h-1zM840 255h1v1h-1zM841 254h1v1h-1zM842 254h1v1h-1zM843 254h1v1h-1zM844 254h1v1h-1zM845 254h1v1h-1zM846 254h1v1h-1zM847 255h1v1h-1zM848 255h1v1h-1zM849 256h1v1h-1zM850 256h1v1h-1zM851 257h1v1h-1zM852 257h1v1h-1zM853 257h1v1h-1zM854 256h1v1h-1zM855 256h1v1h-1zM856 256h1v1h-1zM857 256h1v1h-1zM858 255h1v1h-1zM859 255h1v1h-1zM860 254h1v1h-1zM861 253h1v1h-1zM862 251h1v2h-1zM863 250h1v1h-1zM864 249h1v1h-1zM865 249h1v1h-1zM866 249h1v1h-1zM867 250h1v1h-1zM868 250h1v1h-1zM869 250h1v1h-1zM870 250h1v1h-1zM871 250h1v1h-1zM872 250h1v1h-1zM873 250h1v1h-1zM874 250h1v1h-1zM875 250h1v1h-1zM876 250h1v1h-1zM877 250h1v1h-1zM878 250h1v1h-1zM879 251h1v1h-1zM880 251h1v1h-1zM881 252h1v1h-1zM882 252h1v1h-1zM883 253h1v1h-1zM884 253h1v1h-1zM885 254h1v1h-1zM886 254h1v1h-1zM887 255h1v1h-1zM888 255h1v1h-1zM889 256h1v1h-1zM890 257h1v2h-1zM891 259h1v1h-1zM892 259h1v1h-1zM893 259h1v1h-1zM894 259h1v1h-1zM895 258h1v1h-1zM896 258h1v1h-1zM897 258h1v1h-1zM898 258h1v1h-1zM899 258h1v1h-1zM900 258h1v1h-1zM901 258h1v1h-1zM902 257h1v1h-1zM903 257h1v1h-1zM904 256h1v1h-1zM905 256h1v1h-1zM906 256h1v1h-1zM907 256h1v1h-1zM908 256h1v1h-1zM909 256h1v1h-1zM910 257h1v1h-1zM911 257h1v1h-1zM912 258h1v1h-1zM913 259h1v1h-1zM914 260h1v1h-1zM915 261h1v1h-1zM916 262h1v1h-1zM917 263h1v1h-1zM918 264h1v1h-1zM919 264h1v1h-1zM920 265h1v1h-1zM921 264h1v1h-1zM922 264h1v1h-1zM923 263h1v1h-1zM924 263h1v1h-1z" fill="#ff0000"/>
<path d="M20 25h1v2h-1zM21 27h1v2h-1zM22 29h1v2h-1zM23 31h1v2h-1zM24 33h1v2h-1zM25 35h1v2h-1zM26 37h1v2h-1zM27 39h1v2h-1zM28 41h1v2h-1zM29 43h1v2h-1zM30 45h1v2h-1zM31 47h1v2h-1zM32 49h1v2h-1zM33 51h1v2h-1zM34 53h1v2h-1zM35 55h1v2h-1zM36 57h1v2h-1zM37 59h1v2h-1zM38 61h1v2h-1zM39 63h1v2h-1zM40 65h1v1h-1zM41 66h1v2h-1zM42 68h1v1h-1zM43 69h1v2h-1zM44 71h1v1h-1zM45 72h1v2h-1zM46 74h1v1h-1zM47 75h1v2h-1zM48 77h1v2h-1zM49 79h1v1h-1zM50 80h1v2h-1zM51 82h1v1h-1zM52 83h1v2h-1zM53 85h1v1h-1zM54 86h1v2h-1zM55 88h1v1h-1zM56 89h1v2h-1zM57 91h1v1h-1zM58 92h1v1h-1zM59 93h1v2h-1zM60 95h1v1h-1zM61 96h1v1h-1zM62 97h1v2h-1zM63 99h1v1h-1zM64 100h1v1h-1zM65 101h1v2h-1zM66 103h1v1h-1zM67 104h1v2h-1zM68 106h1v2h-1zM69 108h1v2h-1zM70 110h1v2h-1zM71 112h1v2h-1zM72 114h1v2h-1zM73 116h1v2h-1zM74 118h1v2h-1zM75 120h1v1h-1zM76 121h1v1h-1zM77 122h1v1h-1zM78 122h1v1h-1zM79 123h1v1h-1zM80 124h1v1h-1zM81 124h1v1h-1zM82 124h1v1h-1zM83 125h1v1h-1zM84 125h1v1h-1zM85 125h1v1h-1zM86 125h1v1h-1zM87 126h1v1h-1zM88 126h1v1h-1zM89 127h1v1h-1zM90 128h1v1h-1zM91 128h1v1h-1zM92 129h1v1h-1zM93 130h1v1h-1zM94 131h1v1h-1zM95 131h1v1h-1zM96 132h1v1h-1zM97 133h1v1h-1zM98 133h1v1h-1zM99 134h1v1h-1zM100 135h1v2h-1zM101 137h1v2h-1zM102 139h1v2h-1zM103 141h1v1h-1zM104 142h1v2h-1zM105 144h1v2h-1zM106 146h1v2h-1zM107 148h1v1h-1zM108 149h1v1h-1zM109 149h1v1h-1zM110 150h1v1h-1zM111 151h1v1h-1zM112 152h1v1h-1zM113 152h1v1h-1zM114 153h1v1h-1zM115 154h1v1h-1zM116 154h1v1h-1zM117 155h1v1h-1zM118 155h1v1h-1zM119 156h1v1h-1zM120 156h1v1h-1zM121 157h1v1h-1zM122 158h1v1h-1zM123 159h1v1h-1zM124 160h1v2h-1zM125 162h1v1h-1zM126 163h1v1h-1zM127 164h1v1h-1zM128 165h1v1h-1zM129 166h1v1h-1zM130 167h1v1h-1zM131 168h1v1h-1zM132 169h1v1h-1zM133 169h1v1h-1zM134 170h1v1h-1zM135 170h1v1h-1zM136 170h1v1h-1zM137 170h1v1h-1zM138 171h1v1h-1zM139 171h1v1h-1zM140 171h1v1h-1zM141 171h1v1h-1zM142 171h1v1h-1zM143 172h1v1h-1zM144 172h1v1h-1zM145 172h1v1h-1zM146 172h1v1h-1zM147 173h1v1h-1zM148 173h1v1h-1zM149 173h1v1h-1zM150 174h1v1h-1zM151 174h1v1h-1zM152 175h1v1h-1zM153 175h1v1h-1zM154 176h1v1h-1zM155 176h1v1h-1zM156 177h1v1h-1zM157 178h1v1h-1zM158 179h1v1h-1zM159 180h1v1h-1zM160 181h1v2h-1zM161 183h1v2h-1zM162 185h1v3h-1zM163 188h1v3h-1zM164 191h1v2h-1zM165 193h1v2h-1zM166 195h1v2h-1zM167 197h1v1h-1zM168 198h1v2h-1zM169 200h1v1h-1zM170 201h1v2h-1zM171 203h1v1h-1zM172 204h1v2h-1zM173 206h1v1h-1zM174 207h1v1h-1zM175 208h1v2h-1zM176 210h1v1h-1zM177 211h1v1h-1zM178 212h1v2h-1zM179 214h1v1h-1zM180 215h1v1h-1zM181 216h1v1h-1zM182 216h1v1h-1zM183 217h1v1h-1zM184 218h1v1h-1zM185 218h1v1h-1zM186 219h1v1h-1zM187 220h1v1h-1zM188 221h1v1h-1zM189 222h1v2h-1zM190 224h1v1h-1zM191 225h1v1h-1zM192 226h1v1h-1zM193 227h1v1h-1zM194 228h1v1h-1zM195 229h1v2h-1zM196 231h1v1h-1zM197 232h1v1h-1zM198 233h1v1h-1zM199 234h1v1h-1zM200 235h1v1h-1zM201 236h1v1h-1zM202 237h1v1h-1zM203 238h1v1h-1zM204 239h1v1h-1zM205 240h1v1h-1zM206 241h1v1h-1zM207 242h1v1h-1zM208 243h1v1h-1zM209 244h1v1h-1zM210 245h1v1h-1zM211 246h1v1h-1zM212 247h1v1h-1zM213 248h1v1h-1zM214 249h1v1h-1zM215 250h1v1h-1zM216 251h1v1h-1zM217 252h1v1h-1zM218 253h1v2h-1zM219 255h1v1h-1zM220 256h1v1h-1zM221 257h1v1h-1zM222 258h1v1h-1zM223 258h1v1h-1zM224 259h1v1h-1zM225 259h1v1h-1zM226 260h1v1h-1zM227 260h1v1h-1zM228 260h1v1h-1zM229 260h1v1h-1zM230 260h1v1h-1zM231 260h1v1h-1zM232 261h1v1h-1zM233 261h1v1h-1zM234 261h1v1h-1zM235 261h1v1h-1zM236 261h1v1h-1zM237 261h1v1h-1zM238 262h1v1h-1zM239 262h1v1h-1zM240 262h1v1h-1zM241 262h1v1h-1zM242 261h1v1h-1zM243 261h1v1h-1zM244 261h1v1h-1zM245 261h1v1h-1zM246 261h1v1h-1zM247 261h1v1h-1zM248 261h1v1h-1zM249 261h1v1h-1zM250 261h1v1h-1zM251 261h1v1h-1zM252 261h1v1h-1zM253 261h1v1h-1zM254 261h1v1h-1zM255 261h1v1h-1zM256 261h1v1h-1zM257 261h1v1h-1zM258 261h1v1h-1zM259 261h1v1h-1zM260 261h1v1h-1zM261 261h1v1h-1zM262 261h1v1h-1zM263 261h1v1h-1zM264 261h1v1h-1zM265 261h1v1h-1zM266 261h1v1h-1zM267 261h1v1h-1zM268 261h1v1h-1zM269 261h1v1h-1zM270 261h1v1h-1zM271 261h1v1h-1zM272 261h1v1h-1zM273 261h1v1h-1zM274 261h1v1h-1zM275 261h1v1h-1zM276 261h1v1h-1zM277 261h1v1h-1zM278 262h1v1h-1zM279 262h1v1h-1zM280 262h1v1h-1zM281 263h1v2h-1zM282 265h1v1h-1zM283 266h1v1h-1zM284 267h1v2h-1zM285 269h1v1h-1zM286 270h1v2h-1zM287 272h1v1h-1zM288 273h1v1h-1zM289 274h1v2h-1zM290 276h1v1h-1zM291 277h1v2h-1zM292 279h1v1h-1zM293 280h1v1h-1zM294 281h1v1h-1zM295 282h1v1h-1zM296 283h1v2h-1zM297 285h1v1h-1zM298 286h1v1h-1zM299 287h1v1h-1zM300 288h1v1h-1zM301 289h1v1h-1zM302 290h1v1h-1zM303 291h1v1h-1zM304 292h1v2h-1zM305 294h1v1h-1zM306 295h1v1h-1zM307 296h1v1h-1zM308 297h1v2h-1zM309 299h1v1h-1zM310 300h1v1h-1zM311 301h1v2h-1zM312 303h1v1h-1zM313 303h1v1h-1zM314 303h1v1h-1zM315 304h1v1h-1zM316 304h1v1h-1zM317 304h1v1h-1zM318 304h1v1h-1zM319 305h1v1h-1zM320 305h1v1h-1zM321 306h1v1h-1zM322 306h1v1h-1zM323 307h1v1h-1zM324 307h1v1h-1zM325 307h1v1h-1zM326 308h1v1h-1zM327 308h1v1h-1zM328 308h1v1h-1zM329 308h1v1h-1zM330 307h1v1h-1zM331 307h1v1h-1zM332 307h1v1h-1zM333 307h1v1h-1zM334 306h1v1h-1zM335 306h1v1h-1zM336 306h1v1h-1zM337 306h1v1h-1zM338 307h1v1h-1zM339 307h1v1h-1zM340 307h1v1h-1zM341 306h1v1h-1zM342 306h1v1h-1zM343 305h1v1h-1zM344 305h1v1h-1zM345 304h1v1h-1zM346 304h1v1h-1zM347 304h1v1h-1zM348 304h1v1h-1zM349 304h1v1h-1zM350 304h1v1h-1zM351 304h1v1h-1zM352 304h1v1h-1zM353 304h1v1h-1zM354 304h1v1h-1zM355 303h1v1h-1zM356 303h1v1h-1zM357 303h1v1h-1zM358 302h1v1h-1zM359 302h1v1h-1zM360 302h1v1h-1zM361 302h1v1h-1zM362 301h1v1h-1zM363 301h1v1h-1zM364 299h1v2h-1zM365 297h1v2h-1zM366 295h1v2h-1zM367 293h1v2h-1zM368 291h1v2h-1zM369 289h1v2h-1zM370 287h1v2h-1zM371 285h1v2h-1zM372 283h1v2h-1zM373 280h1v3h-1zM374 278h1v2h-1zM375 276h1v2h-1zM376 274h1v2h-1zM377 272h1v2h-1zM378 270h1v2h-1zM379 268h1v2h-1zM380 266h1v2h-1zM381 264h1v2h-1zM382 262h1v2h-1zM383 260h1v2h-1zM384 258h1v2h-1zM385 256h1v2h-1zM386 254h1v2h-1zM387 252h1v2h-1zM388 250h1v2h-1zM389 249h1v1h-1zM390 247h1v2h-1zM391 246h1v1h-1zM392 244h1v2h-1zM393 242h1v2h-1zM394 241h1v1h-1zM395 240h1v1h-1zM396 239h1v1h-1zM397 239h1v1h-1zM398 238h1v1h-1zM399 237h1v1h-1zM400 236h1v1h-1zM401 236h1v1h-1zM402 235h1v1h-1zM403 234h1v1h-1zM404 234h1v1h-1zM405 233h1v1h-1zM406 232h1v1h-1zM407 232h1v1h-1zM408 231h1v1h-1zM409 230h1v1h-1zM410 230h1v1h-1zM411 229h1v1h-1zM412 228h1v1h-1zM413 226h1v2h-1zM414 225h1v1h-1zM415 224h1v1h-1zM416 223h1v1h-1zM417 221h1v2h-1zM418 220h1v1h-1zM419 219h1v1h-1zM420 218h1v1h-1zM421 218h1v1h-1zM422 217h1v1h-1zM423 217h1v1h-1zM424 216h1v1h-1zM425 215h1v1h-1zM426 215h1v1h-1zM427 214h1v1h-1zM428 213h1v1h-1zM429 212h1v1h-1zM430 212h1v1h-1zM431 211h1v1h-1zM432 210h1v1h-1zM433 208h1v2h-1zM434 207h1v1h-1zM435 205h1v2h-1zM436 204h1v1h-1zM437 203h1v1h-1zM438 201h1v2h-1zM439 200h1v1h-1zM440 198h1v2h-1zM441 196h1v2h-1zM442 194h1v2h-1zM443 192h1v2h-1zM444 189h1v3h-1zM445 187h1v2h-1zM446 185h1v2h-1zM447 183h1v2h-1zM448 182h1v1h-1zM449 181h1v1h-1zM450 180h1v1h-1zM451 179h1v1h-1zM452 178h1v1h-1zM453 177h1v1h-1zM454 176h1v1h-1zM455 175h1v1h-1zM456 174h1v1h-1zM457 173h1v1h-1zM458 173h1v1h-1zM459 172h1v1h-1zM460 171h1v1h-1zM461 171h1v1h-1zM462 170h1v1h-1zM463 169h1v1h-1zM464 168h1v1h-1zM465 166h1v2h-1zM466 165h1v1h-1zM467 164h1v1h-1zM468 163h1v1h-1zM469 162h1v1h-1zM470 160h1v2h-1zM471 159h1v1h-1zM472 158h1v1h-1zM473 157h1v1h-1zM474 156h1v1h-1zM475 155h1v1h-1zM476 154h1v1h-1zM477 153h1v1h-1zM478 152h1v1h-1zM479 151h1v1h-1zM480 150h1v1h-1zM481 149h1v1h-1zM482 148h1v1h-1zM483 147h1v1h-1zM484 146h1v1h-1zM485 145h1v1h-1zM486 143h1v2h-1zM487 142h1v1h-1zM488 141h1v1h-1zM489 140h1v1h-1zM490 139h1v1h-1zM491 138h1v1h-1zM492 137h1v1h-1zM493 136h1v1h-1zM494 135h1v1h-1zM495 135h1v1h-1zM496 134h1v1h-1zM497 133h1v1h-1zM498 132h1v1h-1zM499 131h1v1h-1zM500 130h1v1h-1zM501 130h1v1h-1zM502 129h1v1h-1zM503 129h1v1h-1zM504 128h1v1h-1zM505 128h1v1h-1zM506 128h1v1h-1zM507 127h1v1h-1zM508 127h1v1h-1zM509 127h1v1h-1zM510 126h1v1h-1zM511 126h1v1h-1zM512 126h1v1h-1zM513 126h1v1h-1zM514 126h1v1h-1zM515 126h1v1h-1zM516 126h1v1h-1zM517 127h1v1h-1zM518 127h1v1h-1zM519 128h1v1h-1zM520 129h1v1h-1zM521 129h1v1h-1zM522 130h1v1h-1zM523 130h1v1h-1zM524 131h1v1h-1zM525 132h1v1h-1zM526 133h1v2h-1zM527 135h1v1h-1zM528 136h1v1h-1zM529 137h1v2h-1zM530 139h1v1h-1zM531 140h1v2h-1zM532 142h1v2h-1zM533 144h1v2h-1zM534 146h1v1h-1zM535 147h1v2h-1zM536 149h1v2h-1zM537 151h1v2h-1zM538 153h1v2h-1zM539 155h1v1h-1zM540 156h1v2h-1zM541 158h1v2h-1zM542 160h1v2h-1zM543 162h1v2h-1zM544 164h1v2h-1zM545 166h1v2h-1zM546 168h1v2h-1zM547 170h1v2h-1zM548 172h1v2h-1zM549 174h1v2h-1zM550 176h1v2h-1zM551 178h1v2h-1zM552 180h1v2h-1zM553 182h1v2h-1zM554 184h1v2h-1zM555 186h1v2h-1zM556 188h1v1h-1zM557 189h1v2h-1zM558 191h1v1h-1zM559 192h1v1h-1zM560 193h1v2h-1zM561 195h1v1h-1zM562 196h1v2h-1zM563 198h1v1h-1zM564 199h1v2h-1zM565 201h1v2h-1zM566 203h1v2h-1zM567 205h1v2h-1zM568 207h1v2h-1zM569 209h1v2h-1zM570 211h1v2h-1zM571 213h1v1h-1zM572 214h1v1h-1zM573 215h1v2h-1zM574 217h1v1h-1zM575 218h1v1h-1zM576 219h1v2h-1zM577 221h1v1h-1zM578 222h1v2h-1zM579 224h1v2h-1zM580 226h1v2h-1zM581 228h1v2h-1zM582 230h1v3h-1zM583 233h1v2h-1zM584 235h1v3h-1zM585 238h1v2h-1zM586 240h1v2h-1zM587 242h1v3h-1zM588 245h1v2h-1zM589 247h1v3h-1zM590 250h1v2h-1zM591 252h1v2h-1zM592 254h1v3h-1zM593 257h1v2h-1zM594 259h1v2h-1zM595 261h1v2h-1zM596 263h1v2h-1zM597 265h1v1h-1zM598 266h1v2h-1zM599 268h1v1h-1zM600 269h1v1h-1zM601 270h1v2h-1zM602 272h1v1h-1zM603 273h1v2h-1zM604 275h1v1h-1zM605 276h1v1h-1zM606 277h1v1h-1zM607 278h1v1h-1zM608 279h1v1h-1zM609 280h1v1h-1zM610 281h1v1h-1zM611 282h1v1h-1zM612 283h1v1h-1zM613 284h1v1h-1zM614 285h1v1h-1zM615 286h1v1h-1zM616 287h1v1h-1zM617 288h1v2h-1zM618 290h1v1h-1zM619 291h1v2h-1zM620 293h1v1h-1zM621 294h1v1h-1zM622 295h1v2h-1zM623 297h1v1h-1zM624 298h1v2h-1zM625 300h1v1h-1zM626 301h1v1h-1zM627 301h1v1h-1zM628 302h1v1h-1zM629 302h1v1h-1zM630 303h1v1h-1zM631 304h1v1h-1zM632 305h1v1h-1zM633 306h1v1h-1zM634 307h1v1h-1zM635 308h1v1h-1zM636 308h1v1h-1zM637 309h1v1h-1zM638 310h1v1h-1zM639 311h1v1h-1zM640 312h1v1h-1zM641 313h1v1h-1zM642 314h1v1h-1zM643 315h1v2h-1zM644 317h1v2h-1zM645 319h1v2h-1zM646 321h1v2h-1zM647 323h1v2h-1zM648 325h1v2h-1zM649 327h1v2h-1zM650 329h1v2h-1zM651 331h1v3h-1zM652 334h1v2h-1zM653 336h1v2h-1zM654 338h1v3h-1zM655 341h1v2h-1zM656 343h1v3h-1zM657 346h1v2h-1zM658 348h1v2h-1zM659 350h1v2h-1zM660 352h1v2h-1zM661 354h1v2h-1zM662 356h1v2h-1zM663 358h1v2h-1zM664 360h1v1h-1zM665 361h1v1h-1zM666 362h1v1h-1zM667 363h1v1h-1zM668 363h1v1h-1zM669 364h1v1h-1zM670 365h1v1h-1zM671 366h1v1h-1zM672 367h1v1h-1zM673 367h1v1h-1zM674 367h1v1h-1zM675 367h1v1h-1zM676 367h1v1h-1zM677 368h1v1h-1zM678 369h1v1h-1zM679 370h1v2h-1zM680 372h1v1h-1zM681 373h1v1h-1zM682 374h1v1h-1zM683 375h1v2h-1zM684 377h1v1h-1zM685 378h1v1h-1zM686 379h1v2h-1zM687 381h1v1h-1zM688 382h1v1h-1zM689 383h1v1h-1zM690 384h1v1h-1zM691 385h1v1h-1zM692 385h1v1h-1zM693 386h1v1h-1zM694 387h1v1h-1zM695 388h1v1h-1zM696 389h1v1h-1zM697 390h1v1h-1zM698 391h1v1h-1zM699 392h1v1h-1zM700 393h1v1h-1zM701 393h1v1h-1zM702 394h1v1h-1zM703 395h1v1h-1zM704 396h1v1h-1zM705 397h1v1h-1zM706 397h1v1h-1zM707 398h1v1h-1zM708 399h1v1h-1zM709 399h1v1h-1zM710 400h1v1h-1zM711 400h1v1h-1zM712 401h1v1h-1zM713 402h1v1h-1zM714 403h1v1h-1zM715 403h1v1h-1zM716 404h1v1h-1zM717 405h1v1h-1zM718 406h1v1h-1zM719 406h1v1h-1zM720 407h1v1h-1zM721 406h1v1h-1zM722 405h1v1h-1zM723 405h1v1h-1zM724 404h1v1h-1zM725 403h1v1h-1zM726 401h1v2h-1zM727 400h1v1h-1zM728 399h1v1h-1zM729 397h1v2h-1zM730 396h1v1h-1zM731 394h1v2h-1zM732 392h1v2h-1zM733 390h1v2h-1zM734 387h1v3h-1zM735 385h1v2h-1zM736 383h1v2h-1zM737 380h1v3h-1zM738 378h1v2h-1zM739 375h1v3h-1zM740 373h1v2h-1zM741 371h1v2h-1zM742 369h1v2h-1zM743 367h1v2h-1zM744 364h1v3h-1zM745 362h1v2h-1zM746 360h1v2h-1zM747 358h1v2h-1zM748 356h1v2h-1zM749 354h1v2h-1zM750 353h1v1h-1zM751 351h1v2h-1zM752 350h1v1h-1zM753 348h1v2h-1zM754 347h1v1h-1zM755 345h1v2h-1zM756 344h1v1h-1zM757 342h1v2h-1zM758 341h1v1h-1zM759 339h1v2h-1zM760 338h1v1h-1zM761 336h1v2h-1zM762 335h1v1h-1zM763 333h1v2h-1zM764 332h1v1h-1zM765 330h1v2h-1zM766 329h1v1h-1zM767 327h1v2h-1zM768 325h1v2h-1zM769 324h1v1h-1zM770 322h1v2h-1zM771 321h1v1h-1zM772 319h1v2h-1zM773 317h1v2h-1zM774 316h1v1h-1zM775 314h1v2h-1zM776 312h1v2h-1zM777 310h1v2h-1zM778 309h1v1h-1zM779 307h1v2h-1zM780 305h1v2h-1zM781 303h1v2h-1zM782 301h1v2h-1zM783 300h1v1h-1zM784 298h1v2h-1zM785 297h1v1h-1zM786 296h1v1h-1zM787 294h1v2h-1zM788 293h1v1h-1zM789 291h1v2h-1zM790 290h1v1h-1zM791 288h1v2h-1zM792 286h1v2h-1zM793 284h1v2h-1zM794 282h1v2h-1zM795 280h1v2h-1zM796 279h1v1h-1zM797 277h1v2h-1zM798 275h1v2h-1zM799 274h1v1h-1zM800 272h1v2h-1zM801 271h1v1h-1zM802 269h1v2h-1zM803 267h1v2h-1zM804 266h1v1h-1zM805 265h1v1h-1zM806 265h1v1h-1zM807 264h1v1h-1zM808 264h1v1h-1zM809 263h1v1h-1zM810 263h1v1h-1zM811 263h1v1h-1zM812 263h1v1h-1zM813 263h1v1h-1zM814 263h1v1h-1zM815 263h1v1h-1zM816 263h1v1h-1zM817 263h1v1h-1zM818 263h1v1h-1zM819 263h1v1h-1zM820 263h1v1h-1zM821 263h1v1h-1zM822 263h1v1h-1zM823 264h1v1h-1zM824 264h1v1h-1zM825 264h1v1h-1zM826 264h1v1h-1zM827 264h1v1h-1zM828 264h1v1h-1zM829 263h1v1h-1zM830 263h1v1h-1zM831 263h1v1h-1zM832 262h1v1h-1zM833 262h1v1h-1zM834 262h1v1h-1zM835 261h1v1h-1zM836 261h1v1h-1zM837 261h1v1h-1zM838 260h1v1h-1zM839 260h1v1h-1zM840 260h1v1h-1zM841 259h1v1h-1zM842 259h1v1h-1zM843 259h1v1h-1zM844 258h1v1h-1zM845 258h1v1h-1zM846 258h1v1h-1zM847 258h1v1h-1zM848 257h1v1h-1zM849 257h1v1h-1zM850 257h1v1h-1zM851 257h1v1h-1zM852 257h1v1h-1zM853 256h1v1h-1zM854 256h1v1h-1zM855 256h1v1h-1zM856 255h1v1h-1zM857 254h1v1h-1zM858 253h1v1h-1zM859 252h1v1h-1zM860 251h1v1h-1zM861 250h1v1h-1zM862 250h1v1h-1zM863 249h1v1h-1zM864 249h1v1h-1zM865 249h1v1h-1zM866 249h1v1h-1zM867 249h1v1h-1zM868 249h1v1h-1zM869 250h1v1h-1zM870 250h1v1h-1zM871 251h1v1h-1zM872 251h1v1h-1zM873 251h1v1h-1zM874 252h1v1h-1zM875 252h1v1h-1zM876 252h1v1h-1zM877 253h1v1h-1zM878 254h1v1h-1zM879 254h1v1h-1zM880 255h1v1h-1zM881 255h1v1h-1zM882 256h1v1h-1zM883 256h1v1h-1zM884 256h1v1h-1zM885 257h1v1h-1zM886 257h1v1h-1zM887 258h1v1h-1zM888 258h1v1h-1zM889 258h1v1h-1zM890 259h1v1h-1zM891 259h1v1h-1zM892 259h1v1h-1zM893 259h1v1h-1zM894 259h1v1h-1zM895 258h1v1h-1zM896 258h1v1h-1zM897 257h1v1h-1zM898 257h1v1h-1zM899 257h1v1h-1zM900 257h1v1h-1zM901 257h1v1h-1zM902 256h1v1h-1zM903 255h1v1h-1zM904 255h1v1h-1zM905 255h1v1h-1zM906 255h1v1h-1zM907 255h1v1h-1zM908 255h1v1h-1zM909 255h1v1h-1zM910 255h1v1h-1zM911 255h1v1h-1zM912 255h1v1h-1zM913 256h1v1h-1zM914 256h1v1h-1zM915 256h1v1h-1zM916 256h1v1h-1zM917 256h1v1h-1zM918 256h1v1h-1zM919 256h1v1h-1zM920 256h1v1h-1zM921 256h1v1h-1zM922 256h1v1h-1z" fill="#0000ff"/>
<rect x="4" y="102" width="1" height="58" fill="#ff0000"/>
<rect x="3" y="119" width="3" height="3" fill="#ff0000"/>
<rect x="4" y="120" width="1" height="1" fill="#ff4500"/>
<rect x="8" y="95" width="1" height="30" fill="#ff0000"/>
<rect x="7" y="100" width="3" height="20" fill="#ff0000"/>
<rect x="8" y="101" width="1" height="18" fill="#ff4500"/>
<rect x="12" y="95" width="1" height="27" fill="#32cd32"/>
<rect x="11" y="100" width="3" height="16" fill="#32cd32"/>
<rect x="16" y="111" width="1" height="17" fill="#32cd32"/>
<rect x="15" y="115" width="3" height="10" fill="#32cd32"/>
<rect x="20" y="95" width="1" height="44" fill="#ff0000"/>
<rect x="19" y="100" width="3" height="18" fill="#ff0000"/>
<rect x="20" y="101" width="1" height="16" fill="#ff4500"/>
<rect x="24" y="85" width="1" height="15" fill="#32cd32"/>
<rect x="23" y="90" width="3" height="8" fill="#32cd32"/>
<rect x="28" y="90" width="1" height="14" fill="#32cd32"/>
<rect x="27" y="92" width="3" height="6" fill="#32cd32"/>
<rect x="32" y="90" width="1" height="30" fill="#32cd32"/>
<rect x="31" y="95" width="3" height="5" fill="#32cd32"/>
<rect x="36" y="90" width="1" height="17" fill="#ff0000"/>
<rect x="35" y="92" width="3" height="8" fill="#ff0000"/>
<rect x="36" y="93" width="1" height="6" fill="#ff4500"/>
<rect x="40" y="85" width="1" height="14" fill="#ff0000"/>
<rect x="39" y="88" width="3" height="8" fill="#ff0000"/>
<rect x="40" y="89" width="1" height="6" fill="#ff4500"/>
<rect x="44" y="88" width="1" height="16" fill="#ff0000"/>
<rect x="43" y="90" width="3" height="8" fill="#ff0000"/>
<rect x="44" y="91" width="1" height="6" fill="#ff4500"/>
<rect x="48" y="92" width="1" height="34" fill="#32cd32"/>
<rect x="47" y="96" width="3" height="18" fill="#32cd32"/>
<rect x="52" y="107" width="1" height="35" fill="#32cd32"/>
<rect x="51" y="114" width="3" height="11" fill="#32cd32"/>
<rect x="56" y="123" width="1" height="49" fill="#32cd32"/>
<rect x="55" y="124" width="3" height="31" fill="#32cd32"/>
<rect x="60" y="143" width="1" height="52" fill="#32cd32"/>
<rect x="59" y="154" width="3" height="36" fill="#32cd32"/>
<rect x="64" y="184" width="1" height="21" fill="#32cd32"/>
<rect x="63" y="190" width="3" height="7" fill="#32cd32"/>
<rect x="68" y="154" width="1" height="44" fill="#ff0000"/>
<rect x="67" y="182" width="3" height="8" fill="#ff0000"/>
<rect x="68" y="183" width="1" height="6" fill="#ff4500"/>
<rect x="72" y="169" width="1" height="35" fill="#32cd32"/>
<rect x="71" y="182" width="3" height="2" fill="#32cd32"/>
<rect x="76" y="173" width="1" height="49" fill="#ff0000"/>
<rect x="75" y="174" width="3" height="10" fill="#ff0000"/>
<rect x="76" y="175" width="1" height="8" fill="#ff4500"/>
<rect x="80" y="136" width="1" height="38" fill="#ff0000"/>
<rect x="79" y="144" width="3" height="30" fill="#ff0000"/>
<rect x="80" y="145" width="1" height="28" fill="#ff4500"/>
<rect x="84" y="136" width="1" height="42" fill="#32cd32"/>
<rect x="83" y="144" width="3" height="5" fill="#32cd32"/>
<rect x="88" y="144" width="1" height="11" fill="#32cd32"/>
<rect x="87" y="146" width="3" height="3" fill="#32cd32"/>
<rect x="92" y="156" width="1" height="32" fill="#ff0000"/>
<rect x="91" y="158" width="3" height="5" fill="#ff0000"/>
<rect x="92" y="159" width="1" height="3" fill="#ff4500"/>
<rect x="96" y="138" width="1" height="34" fill="#32cd32"/>
<rect x="95" y="158" width="3" height="12" fill="#32cd32"/>
<rect x="100" y="165" width="1" height="44" fill="#32cd32"/>
<rect x="99" y="169" width="3" height="30" fill="#32cd32"/>
<rect x="104" y="181" width="1" height="36" fill="#ff0000"/>
<rect x="103" y="188" width="3" height="12" fill="#ff0000"/>
<rect x="104" y="189" width="1" height="10" fill="#ff4500"/>
<rect x="108" y="159" width="1" height="39" fill="#ff0000"/>
<rect x="107" y="186" width="3" height="3" fill="#ff0000"/>
<rect x="108" y="187" width="1" height="1" fill="#ff4500"/>
<rect x="112" y="174" width="1" height="15" fill="#ff0000"/>
<rect x="111" y="177" width="3" height="9" fill="#ff0000"/>
<rect x="112" y="178" width="1" height="7" fill="#ff4500"/>
<rect x="116" y="124" width="1" height="52" fill="#ff0000"/>
<rect x="115" y="152" width="3" height="20" fill="#ff0000"/>
<rect x="116" y="153" width="1" height="18" fill="#ff4500"/>
<rect x="120" y="132" width="1" height="35" fill="#ff0000"/>
<rect x="119" y="144" width="3" height="8" fill="#ff0000"/>
<rect x="120" y="145" width="1" height="6" fill="#ff4500"/>
<rect x="124" y="134" width="1" height="49" fill="#32cd32"/>
<rect x="123" y="144" width="3" height="15" fill="#32cd32"/>
<rect x="128" y="152" width="1" height="39" fill="#32cd32"/>
<rect x="127" y="158" width="3" height="32" fill="#32cd32"/>
<rect x="132" y="180" width="1" height="11" fill="#ff0000"/>
<rect x="131" y="188" width="3" height="3" fill="#ff0000"/>
<rect x="132" y="189" width="1" height="1" fill="#ff4500"/>
<rect x="136" y="153" width="1" height="39" fill="#ff0000"/>
<rect x="135" y="156" width="3" height="30" fill="#ff0000"/>
<rect x="136" y="157" width="1" height="28" fill="#ff4500"/>
<rect x="140" y="152" width="1" height="42" fill="#32cd32"/>
<rect x="139" y="156" width="3" height="20" fill="#32cd32"/>
<rect x="144" y="174" width="1" height="41" fill="#32cd32"/>
<rect x="143" y="174" width="3" height="37" fill="#32cd32"/>
<rect x="148" y="186" width="1" height="51" fill="#32cd32"/>
<rect x="147" y="210" width="3" height="12" fill="#32cd32"/>
<rect x="152" y="209" width="1" height="18" fill="#ff0000"/>
<rect x="151" y="217" width="3" height="5" fill="#ff0000"/>
<rect x="152" y="218" width="1" height="3" fill="#ff4500"/>
<rect x="160" y="225" width="1" height="97" fill="#32cd32"/>
<rect x="159" y="229" width="3" height="72" fill="#32cd32"/>
<rect x="164" y="276" width="1" height="95" fill="#32cd32"/>
<rect x="163" y="299" width="3" height="22" fill="#32cd32"/>
<rect x="168" y="291" width="1" height="57" fill="#ff0000"/>
<rect x="167" y="298" width="3" height="23" fill="#ff0000"/>
<rect x="168" y="299" width="1" height="21" fill="#ff4500"/>
<rect x="172" y="266" width="1" height="61" fill="#ff0000"/>
<rect x="171" y="266" width="3" height="33" fill="#ff0000"/>
<rect x="172" y="267" width="1" height="31" fill="#ff4500"/>
<rect x="176" y="254" width="1" height="45" fill="#32cd32"/>
<rect x="175" y="267" width="3" height="25" fill="#32cd32"/>
<rect x="180" y="258" width="1" height="39" fill="#ff0000"/>
<rect x="179" y="274" width="3" height="18" fill="#ff0000"/>
<rect x="180" y="275" width="1" height="16" fill="#ff4500"/>
<rect x="184" y="233" width="1" height="39" fill="#ff0000"/>
<rect x="183" y="256" width="3" height="6" fill="#ff0000"/>
<rect x="184" y="257" width="1" height="4" fill="#ff4500"/>
<rect x="188" y="251" width="1" height="49" fill="#32cd32"/>
<rect x="187" y="256" width="3" height="32" fill="#32cd32"/>
<rect x="192" y="272" width="1" height="49" fill="#ff0000"/>
<rect x="191" y="279" width="3" height="9" fill="#ff0000"/>
<rect x="192" y="280" width="1" height="7" fill="#ff4500"/>
<rect x="196" y="256" width="1" height="35" fill="#ff0000"/>
<rect x="195" y="265" width="3" height="16" fill="#ff0000"/>
<rect x="196" y="266" width="1" height="14" fill="#ff4500"/>
<rect x="200" y="242" width="1" height="42" fill="#ff0000"/>
<rect x="199" y="246" width="3" height="20" fill="#ff0000"/>
<rect x="200" y="247" width="1" height="18" fill="#ff4500"/>
<rect x="204" y="241" width="1" height="14" fill="#ff0000"/>
<rect x="203" y="243" width="3" height="5" fill="#ff0000"/>
<rect x="204" y="244" width="1" height="3" fill="#ff4500"/>
<rect x="208" y="203" width="1" height="47" fill="#ff0000"/>
<rect x="207" y="221" width="3" height="19" fill="#ff0000"/>
<rect x="208" y="222" width="1" height="17" fill="#ff4500"/>
<rect x="212" y="217" width="1" height="46" fill="#32cd32"/>
<rect x="211" y="221" width="3" height="34" fill="#32cd32"/>
<rect x="216" y="244" width="1" height="40" fill="#32cd32"/>
<rect x="215" y="254" width="3" height="30" fill="#32cd32"/>
<rect x="220" y="271" width="1" height="24" fill="#ff0000"/>
<rect x="219" y="274" width="3" height="10" fill="#ff0000"/>
<rect x="220" y="275" width="1" height="8" fill="#ff4500"/>
<rect x="224" y="218" width="1" height="65" fill="#ff0000"/>
<rect x="223" y="226" width="3" height="48" fill="#ff0000"/>
<rect x="224" y="227" width="1" height="46" fill="#ff4500"/>
<rect x="228" y="218" width="1" height="16" fill="#ff0000"/>
<rect x="227" y="221" width="3" height="6" fill="#ff0000"/>
<rect x="228" y="222" width="1" height="4" fill="#ff4500"/>
<rect x="232" y="221" width="1" height="27" fill="#32cd32"/>
<rect x="231" y="227" width="3" height="5" fill="#32cd32"/>
<rect x="236" y="226" width="1" height="45" fill="#32cd32"/>
<rect x="235" y="232" width="3" height="35" fill="#32cd32"/>
<rect x="240" y="215" width="1" height="59" fill="#ff0000"/>
<rect x="239" y="226" width="3" height="41" fill="#ff0000"/>
<rect x="240" y="227" width="1" height="39" fill="#ff4500"/>
<rect x="244" y="190" width="1" height="81" fill="#32cd32"/>
<rect x="243" y="226" width="3" height="35" fill="#32cd32"/>
<rect x="248" y="249" width="1" height="73" fill="#32cd32"/>
<rect x="247" y="260" width="3" height="58" fill="#32cd32"/>
<rect x="252" y="292" width="1" height="27" fill="#ff0000"/>
<rect x="251" y="302" width="3" height="16" fill="#ff0000"/>
<rect x="252" y="303" width="1" height="14" fill="#ff4500"/>
<rect x="256" y="252" width="1" height="64" fill="#ff0000"/>
<rect x="255" y="256" width="3" height="38" fill="#ff0000"/>
<rect x="256" y="257" width="1" height="36" fill="#ff4500"/>
<rect x="260" y="252" width="1" height="44" fill="#32cd32"/>
<rect x="259" y="256" width="3" height="25" fill="#32cd32"/>
<rect x="264" y="267" width="1" height="27" fill="#ff0000"/>
<rect x="263" y="280" width="3" height="1" fill="#ff0000"/>
<rect x="268" y="254" width="1" height="38" fill="#ff0000"/>
<rect x="267" y="257" width="3" height="24" fill="#ff0000"/>
<rect x="268" y="258" width="1" height="22" fill="#ff4500"/>
<rect x="272" y="237" width="1" height="47" fill="#32cd32"/>
<rect x="271" y="257" width="3" height="26" fill="#32cd32"/>
<rect x="276" y="281" width="1" height="7" fill="#32cd32"/>
<rect x="275" y="282" width="3" height="6" fill="#32cd32"/>
<rect x="280" y="281" width="1" height="40" fill="#32cd32"/>
<rect x="279" y="288" width="3" height="32" fill="#32cd32"/>
<rect x="284" y="305" width="1" height="50" fill="#32cd32"/>
<rect x="283" y="319" width="3" height="35" fill="#32cd32"/>
<rect x="288" y="336" width="1" height="33" fill="#ff0000"/>
<rect x="287" y="341" width="3" height="12" fill="#ff0000"/>
<rect x="288" y="342" width="1" height="10" fill="#ff4500"/>
<rect x="292" y="330" width="1" height="31" fill="#32cd32"/>
<rect x="291" y="341" width="3" height="18" fill="#32cd32"/>
<rect x="296" y="324" width="1" height="37" fill="#ff0000"/>
<rect x="295" y="351" width="3" height="8" fill="#ff0000"/>
<rect x="296" y="352" width="1" height="6" fill="#ff4500"/>
<rect x="300" y="348" width="1" height="10" fill="#32cd32"/>
<rect x="299" y="351" width="3" height="3" fill="#32cd32"/>
<rect x="304" y="350" width="1" height="39" fill="#32cd32"/>
<rect x="303" y="350" width="3" height="32" fill="#32cd32"/>
<rect x="308" y="338" width="1" height="52" fill="#ff0000"/>
<rect x="307" y="350" width="3" height="32" fill="#ff0000"/>
<rect x="308" y="351" width="1" height="30" fill="#ff4500"/>
<rect x="312" y="303" width="1" height="51" fill="#ff0000"/>
<rect x="311" y="311" width="3" height="40" fill="#ff0000"/>
<rect x="312" y="312" width="1" height="38" fill="#ff4500"/>
<rect x="316" y="266" width="1" height="74" fill="#ff0000"/>
<rect x="315" y="266" width="3" height="45" fill="#ff0000"/>
<rect x="316" y="267" width="1" height="43" fill="#ff4500"/>
<rect x="320" y="265" width="1" height="51" fill="#32cd32"/>
<rect x="319" y="267" width="3" height="25" fill="#32cd32"/>
<rect x="324" y="278" width="1" height="22" fill="#ff0000"/>
<rect x="323" y="281" width="3" height="12" fill="#ff0000"/>
<rect x="324" y="282" width="1" height="10" fill="#ff4500"/>
<rect x="328" y="258" width="1" height="47" fill="#ff0000"/>
<rect x="327" y="261" width="3" height="42" fill="#ff0000"/>
<rect x="328" y="262" width="1" height="40" fill="#ff4500"/>
<rect x="332" y="260" width="1" height="41" fill="#32cd32"/>
<rect x="331" y="260" width="3" height="22" fill="#32cd32"/>
<rect x="336" y="270" width="1" height="48" fill="#32cd32"/>
<rect x="335" y="281" width="3" height="14" fill="#32cd32"/>
<rect x="340" y="282" width="1" height="32" fill="#ff0000"/>
<rect x="339" y="282" width="3" height="12" fill="#ff0000"/>
<rect x="340" y="283" width="1" height="10" fill="#ff4500"/>
<rect x="344" y="202" width="1" height="84" fill="#ff0000"/>
<rect x="343" y="254" width="3" height="30" fill="#ff0000"/>
<rect x="344" y="255" width="1" height="28" fill="#ff4500"/>
<rect x="348" y="234" width="1" height="23" fill="#ff0000"/>
<rect x="347" y="240" width="3" height="15" fill="#ff0000"/>
<rect x="348" y="241" width="1" height="13" fill="#ff4500"/>
<rect x="352" y="254" width="1" height="24" fill="#32cd32"/>
<rect x="351" y="264" width="3" height="10" fill="#32cd32"/>
<rect x="356" y="245" width="1" height="35" fill="#ff0000"/>
<rect x="355" y="255" width="3" height="19" fill="#ff0000"/>
<rect x="356" y="256" width="1" height="17" fill="#ff4500"/>
<rect x="360" y="253" width="1" height="37" fill="#32cd32"/>
<rect x="359" y="255" width="3" height="13" fill="#32cd32"/>
<rect x="364" y="250" width="1" height="22" fill="#ff0000"/>
<rect x="363" y="260" width="3" height="8" fill="#ff0000"/>
<rect x="364" y="261" width="1" height="6" fill="#ff4500"/>
<rect x="368" y="181" width="1" height="82" fill="#ff0000"/>
<rect x="367" y="182" width="3" height="79" fill="#ff0000"/>
<rect x="368" y="183" width="1" height="77" fill="#ff4500"/>
<rect x="372" y="166" width="1" height="27" fill="#32cd32"/>
<rect x="371" y="182" width="3" height="11" fill="#32cd32"/>
<rect x="376" y="130" width="1" height="77" fill="#ff0000"/>
<rect x="375" y="133" width="3" height="69" fill="#ff0000"/>
<rect x="376" y="134" width="1" height="67" fill="#ff4500"/>
<rect x="380" y="107" width="1" height="91" fill="#32cd32"/>
<rect x="379" y="133" width="3" height="42" fill="#32cd32"/>
<rect x="384" y="167" width="1" height="46" fill="#32cd32"/>
<rect x="383" y="174" width="3" height="22" fill="#32cd32"/>
<rect x="388" y="189" width="1" height="57" fill="#32cd32"/>
<rect x="387" y="195" width="3" height="40" fill="#32cd32"/>
<rect x="392" y="191" width="1" height="68" fill="#ff0000"/>
<rect x="391" y="213" width="3" height="24" fill="#ff0000"/>
<rect x="392" y="214" width="1" height="22" fill="#ff4500"/>
<rect x="396" y="210" width="1" height="17" fill="#32cd32"/>
<rect x="395" y="213" width="3" height="5" fill="#32cd32"/>
<rect x="400" y="187" width="1" height="40" fill="#ff0000"/>
<rect x="399" y="215" width="3" height="3" fill="#ff0000"/>
<rect x="400" y="216" width="1" height="1" fill="#ff4500"/>
<rect x="404" y="206" width="1" height="24" fill="#32cd32"/>
<rect x="403" y="214" width="3" height="1" fill="#32cd32"/>
<rect x="408" y="199" width="1" height="21" fill="#ff0000"/>
<rect x="407" y="200" width="3" height="15" fill="#ff0000"/>
<rect x="408" y="201" width="1" height="13" fill="#ff4500"/>
<rect x="412" y="196" width="1" height="48" fill="#32cd32"/>
<rect x="411" y="199" width="3" height="10" fill="#32cd32"/>
<rect x="416" y="177" width="1" height="35" fill="#ff0000"/>
<rect x="415" y="196" width="3" height="12" fill="#ff0000"/>
<rect x="416" y="197" width="1" height="10" fill="#ff4500"/>
<rect x="420" y="195" width="1" height="11" fill="#32cd32"/>
<rect x="419" y="196" width="3" height="8" fill="#32cd32"/>
<rect x="424" y="187" width="1" height="27" fill="#32cd32"/>
<rect x="423" y="191" width="3" height="18" fill="#32cd32"/>
<rect x="428" y="187" width="1" height="25" fill="#ff0000"/>
<rect x="427" y="192" width="3" height="18" fill="#ff0000"/>
<rect x="428" y="193" width="1" height="16" fill="#ff4500"/>
<rect x="432" y="165" width="1" height="32" fill="#ff0000"/>
<rect x="431" y="173" width="3" height="19" fill="#ff0000"/>
<rect x="432" y="174" width="1" height="17" fill="#ff4500"/>
<rect x="436" y="127" width="1" height="51" fill="#ff0000"/>
<rect x="435" y="129" width="3" height="45" fill="#ff0000"/>
<rect x="436" y="130" width="1" height="43" fill="#ff4500"/>
<rect x="440" y="123" width="1" height="28" fill="#32cd32"/>
<rect x="439" y="129" width="3" height="15" fill="#32cd32"/>
<rect x="444" y="137" width="1" height="9" fill="#32cd32"/>
<rect x="443" y="143" width="3" height="2" fill="#32cd32"/>
<rect x="448" y="70" width="1" height="77" fill="#ff0000"/>
<rect x="447" y="87" width="3" height="54" fill="#ff0000"/>
<rect x="448" y="88" width="1" height="52" fill="#ff4500"/>
<rect x="452" y="70" width="1" height="28" fill="#ff0000"/>
<rect x="451" y="86" width="3" height="2" fill="#ff0000"/>
<rect x="456" y="80" width="1" height="40" fill="#32cd32"/>
<rect x="455" y="86" width="3" height="20" fill="#32cd32"/>
<rect x="460" y="63" width="1" height="53" fill="#ff0000"/>
<rect x="459" y="86" width="3" height="20" fill="#ff0000"/>
<rect x="460" y="87" width="1" height="18" fill="#ff4500"/>
<rect x="464" y="81" width="1" height="13" fill="#32cd32"/>
<rect x="463" y="86" width="3" height="5" fill="#32cd32"/>
<rect x="468" y="82" width="1" height="9" fill="#32cd32"/>
<rect x="467" y="83" width="3" height="7" fill="#32cd32"/>
<rect x="472" y="70" width="1" height="51" fill="#32cd32"/>
<rect x="471" y="89" width="3" height="30" fill="#32cd32"/>
<rect x="476" y="103" width="1" height="44" fill="#32cd32"/>
<rect x="475" y="118" width="3" height="28" fill="#32cd32"/>
<rect x="480" y="123" width="1" height="27" fill="#ff0000"/>
<rect x="479" y="134" width="3" height="13" fill="#ff0000"/>
<rect x="480" y="135" width="1" height="11" fill="#ff4500"/>
<rect x="484" y="107" width="1" height="34" fill="#ff0000"/>
<rect x="483" y="111" width="3" height="25" fill="#ff0000"/>
<rect x="484" y="112" width="1" height="23" fill="#ff4500"/>
<rect x="488" y="94" width="1" height="35" fill="#32cd32"/>
<rect x="487" y="111" width="3" height="6" fill="#32cd32"/>
<rect x="492" y="109" width="1" height="8" fill="#ff0000"/>
<rect x="491" y="112" width="3" height="5" fill="#ff0000"/>
<rect x="492" y="113" width="1" height="3" fill="#ff4500"/>
<rect x="496" y="101" width="1" height="34" fill="#32cd32"/>
<rect x="495" y="111" width="3" height="18" fill="#32cd32"/>
<rect x="500" y="114" width="1" height="27" fill="#32cd32"/>
<rect x="499" y="128" width="3" height="8" fill="#32cd32"/>
<rect x="504" y="133" width="1" height="39" fill="#32cd32"/>
<rect x="503" y="136" width="3" height="33" fill="#32cd32"/>
<rect x="508" y="139" width="1" height="38" fill="#32cd32"/>
<rect x="507" y="168" width="3" height="1" fill="#32cd32"/>
<rect x="512" y="152" width="1" height="29" fill="#32cd32"/>
<rect x="511" y="169" width="3" height="5" fill="#32cd32"/>
<rect x="516" y="164" width="1" height="11" fill="#ff0000"/>
<rect x="515" y="168" width="3" height="6" fill="#ff0000"/>
<rect x="516" y="169" width="1" height="4" fill="#ff4500"/>
<rect x="520" y="156" width="1" height="55" fill="#32cd32"/>
<rect x="519" y="166" width="3" height="32" fill="#32cd32"/>
<rect x="524" y="195" width="1" height="42" fill="#32cd32"/>
<rect x="523" y="197" width="3" height="21" fill="#32cd32"/>
<rect x="528" y="209" width="1" height="28" fill="#32cd32"/>
<rect x="527" y="217" width="3" height="19" fill="#32cd32"/>
<rect x="532" y="228" width="1" height="24" fill="#ff0000"/>
<rect x="531" y="232" width="3" height="4" fill="#ff0000"/>
<rect x="532" y="233" width="1" height="2" fill="#ff4500"/>
<rect x="536" y="217" width="1" height="24" fill="#ff0000"/>
<rect x="535" y="232" width="3" height="1" fill="#ff0000"/>
<rect x="540" y="229" width="1" height="10" fill="#32cd32"/>
<rect x="539" y="232" width="3" height="6" fill="#32cd32"/>
<rect x="544" y="231" width="1" height="29" fill="#32cd32"/>
<rect x="543" y="235" width="3" height="24" fill="#32cd32"/>
<rect x="548" y="240" width="1" height="28" fill="#ff0000"/>
<rect x="547" y="253" width="3" height="7" fill="#ff0000"/>
<rect x="548" y="254" width="1" height="5" fill="#ff4500"/>
<rect x="552" y="238" width="1" height="26" fill="#32cd32"/>
<rect x="551" y="253" width="3" height="7" fill="#32cd32"/>
<rect x="556" y="254" width="1" height="30" fill="#32cd32"/>
<rect x="555" y="260" width="3" height="14" fill="#32cd32"/>
<rect x="560" y="262" width="1" height="22" fill="#ff0000"/>
<rect x="559" y="269" width="3" height="5" fill="#ff0000"/>
<rect x="560" y="270" width="1" height="3" fill="#ff4500"/>
<rect x="564" y="261" width="1" height="11" fill="#ff0000"/>
<rect x="563" y="263" width="3" height="7" fill="#ff0000"/>
<rect x="564" y="264" width="1" height="5" fill="#ff4500"/>
<rect x="568" y="245" width="1" height="25" fill="#32cd32"/>
<rect x="567" y="263" width="3" height="1" fill="#32cd32"/>
<rect x="572" y="231" width="1" height="41" fill="#ff0000"/>
<rect x="571" y="239" width="3" height="25" fill="#ff0000"/>
<rect x="572" y="240" width="1" height="23" fill="#ff4500"/>
<rect x="576" y="228" width="1" height="27" fill="#32cd32"/>
<rect x="575" y="239" width="3" height="4" fill="#32cd32"/>
<rect x="580" y="233" width="1" height="43" fill="#32cd32"/>
<rect x="579" y="242" width="3" height="33" fill="#32cd32"/>
<rect x="584" y="271" width="1" height="91" fill="#32cd32"/>
<rect x="583" y="274" width="3" height="87" fill="#32cd32"/>
<rect x="588" y="347" width="1" height="15" fill="#ff0000"/>
<rect x="587" y="358" width="3" height="4" fill="#ff0000"/>
<rect x="588" y="359" width="1" height="2" fill="#ff4500"/>
<rect x="592" y="339" width="1" height="45" fill="#32cd32"/>
<rect x="591" y="363" width="3" height="10" fill="#32cd32"/>
<rect x="596" y="334" width="1" height="40" fill="#ff0000"/>
<rect x="595" y="340" width="3" height="34" fill="#ff0000"/>
<rect x="596" y="341" width="1" height="32" fill="#ff4500"/>
<rect x="600" y="286" width="1" height="62" fill="#ff0000"/>
<rect x="599" y="287" width="3" height="54" fill="#ff0000"/>
<rect x="600" y="288" width="1" height="52" fill="#ff4500"/>
<rect x="604" y="283" width="1" height="28" fill="#32cd32"/>
<rect x="603" y="287" width="3" height="13" fill="#32cd32"/>
<rect x="608" y="298" width="1" height="38" fill="#32cd32"/>
<rect x="607" y="298" width="3" height="22" fill="#32cd32"/>
<rect x="612" y="318" width="1" height="6" fill="#32cd32"/>
<rect x="611" y="320" width="3" height="3" fill="#32cd32"/>
<rect x="616" y="303" width="1" height="22" fill="#ff0000"/>
<rect x="615" y="313" width="3" height="8" fill="#ff0000"/>
<rect x="616" y="314" width="1" height="6" fill="#ff4500"/>
<rect x="620" y="311" width="1" height="48" fill="#32cd32"/>
<rect x="619" y="313" width="3" height="34" fill="#32cd32"/>
<rect x="624" y="323" width="1" height="37" fill="#ff0000"/>
<rect x="623" y="338" width="3" height="9" fill="#ff0000"/>
<rect x="624" y="339" width="1" height="7" fill="#ff4500"/>
<rect x="628" y="316" width="1" height="32" fill="#ff0000"/>
<rect x="627" y="332" width="3" height="7" fill="#ff0000"/>
<rect x="628" y="333" width="1" height="5" fill="#ff4500"/>
<rect x="632" y="319" width="1" height="24" fill="#ff0000"/>
<rect x="631" y="320" width="3" height="13" fill="#ff0000"/>
<rect x="632" y="321" width="1" height="11" fill="#ff4500"/>
<rect x="636" y="317" width="1" height="11" fill="#32cd32"/>
<rect x="635" y="320" width="3" height="7" fill="#32cd32"/>
<rect x="640" y="319" width="1" height="51" fill="#32cd32"/>
<rect x="639" y="328" width="3" height="37" fill="#32cd32"/>
<rect x="644" y="362" width="1" height="43" fill="#32cd32"/>
<rect x="643" y="363" width="3" height="14" fill="#32cd32"/>
<rect x="648" y="367" width="1" height="65" fill="#32cd32"/>
<rect x="647" y="376" width="3" height="40" fill="#32cd32"/>
<rect x="652" y="403" width="1" height="43" fill="#32cd32"/>
<rect x="651" y="416" width="3" height="14" fill="#32cd32"/>
<rect x="656" y="423" width="1" height="39" fill="#32cd32"/>
<rect x="655" y="430" width="3" height="21" fill="#32cd32"/>
<rect x="660" y="448" width="1" height="13" fill="#32cd32"/>
<rect x="659" y="450" width="3" height="9" fill="#32cd32"/>
<rect x="664" y="433" width="1" height="41" fill="#32cd32"/>
<rect x="663" y="440" width="3" height="2" fill="#32cd32"/>
<rect x="668" y="415" width="1" height="44" fill="#ff0000"/>
<rect x="667" y="420" width="3" height="22" fill="#ff0000"/>
<rect x="668" y="421" width="1" height="20" fill="#ff4500"/>
<rect x="672" y="406" width="1" height="24" fill="#32cd32"/>
<rect x="671" y="420" width="3" height="8" fill="#32cd32"/>
<rect x="676" y="390" width="1" height="40" fill="#ff0000"/>
<rect x="675" y="391" width="3" height="37" fill="#ff0000"/>
<rect x="676" y="392" width="1" height="35" fill="#ff4500"/>
<rect x="680" y="370" width="1" height="47" fill="#32cd32"/>
<rect x="679" y="391" width="3" height="19" fill="#32cd32"/>
<rect x="684" y="405" width="1" height="5" fill="#ff0000"/>
<rect x="683" y="407" width="3" height="3" fill="#ff0000"/>
<rect x="684" y="408" width="1" height="1" fill="#ff4500"/>
<rect x="688" y="390" width="1" height="22" fill="#32cd32"/>
<rect x="687" y="403" width="3" height="5" fill="#32cd32"/>
<rect x="692" y="387" width="1" height="32" fill="#ff0000"/>
<rect x="691" y="391" width="3" height="17" fill="#ff0000"/>
<rect x="692" y="392" width="1" height="15" fill="#ff4500"/>
<rect x="696" y="385" width="1" height="37" fill="#32cd32"/>
<rect x="695" y="391" width="3" height="21" fill="#32cd32"/>
<rect x="700" y="400" width="1" height="29" fill="#ff0000"/>
<rect x="699" y="409" width="3" height="3" fill="#ff0000"/>
<rect x="700" y="410" width="1" height="1" fill="#ff4500"/>
<rect x="704" y="390" width="1" height="36" fill="#ff0000"/>
<rect x="703" y="392" width="3" height="18" fill="#ff0000"/>
<rect x="704" y="393" width="1" height="16" fill="#ff4500"/>
<rect x="708" y="390" width="1" height="10" fill="#32cd32"/>
<rect x="707" y="392" width="3" height="8" fill="#32cd32"/>
<rect x="712" y="356" width="1" height="42" fill="#ff0000"/>
<rect x="711" y="377" width="3" height="20" fill="#ff0000"/>
<rect x="712" y="378" width="1" height="18" fill="#ff4500"/>
<rect x="716" y="371" width="1" height="19" fill="#ff0000"/>
<rect x="715" y="373" width="3" height="4" fill="#ff0000"/>
<rect x="716" y="374" width="1" height="2" fill="#ff4500"/>
<rect x="720" y="372" width="1" height="30" fill="#32cd32"/>
<rect x="719" y="373" width="3" height="27" fill="#32cd32"/>
<rect x="724" y="288" width="1" height="121" fill="#ff0000"/>
<rect x="723" y="289" width="3" height="112" fill="#ff0000"/>
<rect x="724" y="290" width="1" height="110" fill="#ff4500"/>
<rect x="728" y="276" width="1" height="43" fill="#ff0000"/>
<rect x="727" y="288" width="3" height="2" fill="#ff0000"/>
<rect x="732" y="285" width="1" height="11" fill="#32cd32"/>
<rect x="731" y="288" width="3" height="3" fill="#32cd32"/>
<rect x="736" y="251" width="1" height="49" fill="#ff0000"/>
<rect x="735" y="262" width="3" height="33" fill="#ff0000"/>
<rect x="736" y="263" width="1" height="31" fill="#ff4500"/>
<rect x="740" y="239" width="1" height="43" fill="#ff0000"/>
<rect x="739" y="243" width="3" height="20" fill="#ff0000"/>
<rect x="740" y="244" width="1" height="18" fill="#ff4500"/>
<rect x="744" y="225" width="1" height="40" fill="#32cd32"/>
<rect x="743" y="243" width="3" height="17" fill="#32cd32"/>
<rect x="748" y="240" width="1" height="36" fill="#32cd32"/>
<rect x="747" y="259" width="3" height="3" fill="#32cd32"/>
<rect x="752" y="259" width="1" height="41" fill="#32cd32"/>
<rect x="751" y="261" width="3" height="23" fill="#32cd32"/>
<rect x="756" y="280" width="1" height="9" fill="#ff0000"/>
<rect x="755" y="283" width="3" height="2" fill="#ff0000"/>
<rect x="760" y="270" width="1" height="21" fill="#32cd32"/>
<rect x="759" y="287" width="3" height="3" fill="#32cd32"/>
<rect x="764" y="264" width="1" height="28" fill="#ff0000"/>
<rect x="763" y="275" width="3" height="15" fill="#ff0000"/>
<rect x="764" y="276" width="1" height="13" fill="#ff4500"/>
<rect x="768" y="271" width="1" height="15" fill="#ff0000"/>
<rect x="767" y="275" width="3" height="1" fill="#ff0000"/>
<rect x="772" y="259" width="1" height="24" fill="#ff0000"/>
<rect x="771" y="263" width="3" height="13" fill="#ff0000"/>
<rect x="772" y="264" width="1" height="11" fill="#ff4500"/>
<rect x="776" y="232" width="1" height="38" fill="#ff0000"/>
<rect x="775" y="257" width="3" height="6" fill="#ff0000"/>
<rect x="776" y="258" width="1" height="4" fill="#ff4500"/>
<rect x="780" y="253" width="1" height="18" fill="#32cd32"/>
<rect x="779" y="257" width="3" height="9" fill="#32cd32"/>
<rect x="784" y="259" width="1" height="29" fill="#32cd32"/>
<rect x="783" y="266" width="3" height="14" fill="#32cd32"/>
<rect x="788" y="243" width="1" height="46" fill="#ff0000"/>
<rect x="787" y="247" width="3" height="33" fill="#ff0000"/>
<rect x="788" y="248" width="1" height="31" fill="#ff4500"/>
<rect x="792" y="240" width="1" height="38" fill="#32cd32"/>
<rect x="791" y="247" width="3" height="16" fill="#32cd32"/>
<rect x="796" y="216" width="1" height="54" fill="#ff0000"/>
<rect x="795" y="222" width="3" height="40" fill="#ff0000"/>
<rect x="796" y="223" width="1" height="38" fill="#ff4500"/>
<rect x="800" y="216" width="1" height="33" fill="#32cd32"/>
<rect x="799" y="222" width="3" height="19" fill="#32cd32"/>
<rect x="804" y="238" width="1" height="11" fill="#32cd32"/>
<rect x="803" y="241" width="3" height="7" fill="#32cd32"/>
<rect x="808" y="245" width="1" height="19" fill="#32cd32"/>
<rect x="807" y="253" width="3" height="4" fill="#32cd32"/>
<rect x="812" y="247" width="1" height="28" fill="#32cd32"/>
<rect x="811" y="256" width="3" height="16" fill="#32cd32"/>
<rect x="816" y="243" width="1" height="60" fill="#32cd32"/>
<rect x="815" y="271" width="3" height="9" fill="#32cd32"/>
<rect x="820" y="266" width="1" height="27" fill="#32cd32"/>
<rect x="819" y="279" width="3" height="4" fill="#32cd32"/>
<rect x="824" y="246" width="1" height="42" fill="#ff0000"/>
<rect x="823" y="247" width="3" height="36" fill="#ff0000"/>
<rect x="824" y="248" width="1" height="34" fill="#ff4500"/>
<rect x="828" y="246" width="1" height="19" fill="#32cd32"/>
<rect x="827" y="248" width="3" height="14" fill="#32cd32"/>
<rect x="832" y="223" width="1" height="36" fill="#ff0000"/>
<rect x="831" y="233" width="3" height="23" fill="#ff0000"/>
<rect x="832" y="234" width="1" height="21" fill="#ff4500"/>
<rect x="836" y="218" width="1" height="32" fill="#32cd32"/>
<rect x="835" y="233" width="3" height="7" fill="#32cd32"/>
<rect x="840" y="233" width="1" height="48" fill="#32cd32"/>
<rect x="839" y="239" width="3" height="39" fill="#32cd32"/>
<rect x="844" y="254" width="1" height="32" fill="#ff0000"/>
<rect x="843" y="257" width="3" height="21" fill="#ff0000"/>
<rect x="844" y="258" width="1" height="19" fill="#ff4500"/>
<rect x="848" y="239" width="1" height="31" fill="#ff0000"/>
<rect x="847" y="245" width="3" height="12" fill="#ff0000"/>
<rect x="848" y="246" width="1" height="10" fill="#ff4500"/>
<rect x="852" y="244" width="1" height="17" fill="#32cd32"/>
<rect x="851" y="245" width="3" height="15" fill="#32cd32"/>
<rect x="856" y="226" width="1" height="33" fill="#ff0000"/>
<rect x="855" y="247" width="3" height="11" fill="#ff0000"/>
<rect x="856" y="248" width="1" height="9" fill="#ff4500"/>
<rect x="860" y="171" width="1" height="82" fill="#ff0000"/>
<rect x="859" y="175" width="3" height="73" fill="#ff0000"/>
<rect x="860" y="176" width="1" height="71" fill="#ff4500"/>
<rect x="864" y="165" width="1" height="59" fill="#32cd32"/>
<rect x="863" y="175" width="3" height="37" fill="#32cd32"/>
<rect x="868" y="196" width="1" height="97" fill="#32cd32"/>
<rect x="867" y="212" width="3" height="78" fill="#32cd32"/>
<rect x="872" y="263" width="1" height="38" fill="#ff0000"/>
<rect x="871" y="279" width="3" height="10" fill="#ff0000"/>
<rect x="872" y="280" width="1" height="8" fill="#ff4500"/>
<rect x="876" y="272" width="1" height="14" fill="#ff0000"/>
<rect x="875" y="275" width="3" height="5" fill="#ff0000"/>
<rect x="876" y="276" width="1" height="3" fill="#ff4500"/>
<rect x="880" y="264" width="1" height="23" fill="#32cd32"/>
<rect x="879" y="275" width="3" height="3" fill="#32cd32"/>
<rect x="884" y="269" width="1" height="17" fill="#ff0000"/>
<rect x="883" y="274" width="3" height="4" fill="#ff0000"/>
<rect x="884" y="275" width="1" height="2" fill="#ff4500"/>
<rect x="888" y="270" width="1" height="28" fill="#32cd32"/>
<rect x="887" y="274" width="3" height="9" fill="#32cd32"/>
<rect x="892" y="275" width="1" height="22" fill="#32cd32"/>
<rect x="891" y="282" width="3" height="9" fill="#32cd32"/>
<rect x="896" y="244" width="1" height="48" fill="#ff0000"/>
<rect x="895" y="249" width="3" height="42" fill="#ff0000"/>
<rect x="896" y="250" width="1" height="40" fill="#ff4500"/>
<rect x="900" y="246" width="1" height="11" fill="#32cd32"/>
<rect x="899" y="249" width="3" height="6" fill="#32cd32"/>
<rect x="904" y="237" width="1" height="26" fill="#ff0000"/>
<rect x="903" y="242" width="3" height="6" fill="#ff0000"/>
<rect x="904" y="243" width="1" height="4" fill="#ff4500"/>
<rect x="908" y="234" width="1" height="19" fill="#ff0000"/>
<rect x="907" y="238" width="3" height="5" fill="#ff0000"/>
<rect x="908" y="239" width="1" height="3" fill="#ff4500"/>
<rect x="912" y="228" width="1" height="34" fill="#32cd32"/>
<rect x="911" y="239" width="3" height="18" fill="#32cd32"/>
<rect x="916" y="247" width="1" height="17" fill="#32cd32"/>
<rect x="915" y="256" width="3" height="1" fill="#32cd32"/>
<rect x="920" y="241" width="1" height="18" fill="#ff0000"/>
<rect x="919" y="254" width="3" height="3" fill="#ff0000"/>
<rect x="920" y="255" width="1" height="1" fill="#ff4500"/>
<rect x="924" y="253" width="1" height="7" fill="#32cd32"/>
<rect x="923" y="254" width="3" height="5" fill="#32cd32"/>
<rect x="155" y="211" width="3" height="1" fill="#000"/>
</g>
<g shape-rendering="crispEdges">
<rect x="3" y="24" width="1164" height="1" fill="#000"/>
<rect x="3" y="24" width="1" height="636" fill="#000"/>
<rect x="1166" y="24" width="1" height="636" fill="#000"/>
<rect x="3" y="484" width="1164" height="1" fill="#000"/>
<rect x="3" y="485" width="1164" height="1" fill="#fff"/>
<rect x="3" y="486" width="1164" height="1" fill="#000"/>
<rect x="3" y="570" width="1164" height="1" fill="#000"/>
<rect x="3" y="571" width="1164" height="1" fill="#fff"/>
<rect x="3" y="572" width="1164" height="1" fill="#000"/>
<rect x="3" y="659" width="1164" height="1" fill="#000"/>
</g>
<g shape-rendering="crispEdges">
<rect x="3" y="297" width="6" height="6" fill="#00ff00"/>
<rect x="5" y="299" width="2" height="2" fill="#fff"/>
<rect x="1160" y="297" width="6" height="6" fill="#00ff00"/>
<rect x="1162" y="299" width="2" height="2" fill="#fff"/>
<rect x="3" y="385" width="6" height="6" fill="#0000ff"/>
<rect x="5" y="387" width="2" height="2" fill="#fff"/>
<rect x="1160" y="385" width="6" height="6" fill="#0000ff"/>
<rect x="1162" y="387" width="2" height="2" fill="#fff"/>
</g>
<g shape-rendering="crispEdges">
<rect x="3" y="519" width="3" height="47" fill="#c0c0c0"/>
<rect x="7" y="519" width="3" height="46" fill="#c0c0c0"/>
<rect x="11" y="519" width="3" height="47" fill="#c0c0c0"/>
<rect x="15" y="519" width="3" height="47" fill="#c0c0c0"/>
<rect x="19" y="519" width="3" height="44" fill="#c0c0c0"/>
<rect x="23" y="519" width="3" height="40" fill="#c0c0c0"/>
<rect x="27" y="519" width="3" height="38" fill="#c0c0c0"/>
<rect x="31" y="519" width="3" height="37" fill="#c0c0c0"/>
<rect x="35" y="519" width="3" height="36" fill="#c0c0c0"/>
<rect x="39" y="519" width="3" height="34" fill="#c0c0c0"/>
<rect x="43" y="519" width="3" height="31" fill="#c0c0c0"/>
<rect x="47" y="519" width="3" height="31" fill="#c0c0c0"/>
<rect x="51" y="519" width="3" height="31" fill="#c0c0c0"/>
<rect x="55" y="519" width="3" height="33" fill="#c0c0c0"/>
<rect x="59" y="519" width="3" height="35" fill="#c0c0c0"/>
<rect x="63" y="519" width="3" height="37" fill="#c0c0c0"/>
<rect x="67" y="519" width="3" height="38" fill="#c0c0c0"/>
<rect x="71" y="519" width="3" height="38" fill="#c0c0c0"/>
<rect x="75" y="519" width="3" height="37" fill="#c0c0c0"/>
<rect x="79" y="519" width="3" height="34" fill="#c0c0c0"/>
<rect x="83" y="519" width="3" height="32" fill="#c0c0c0"/>
<rect x="87" y="519" width="3" height="29" fill="#c0c0c0"/>
<rect x="91" y="519" width="3" height="28" fill="#c0c0c0"/>
<rect x="95" y="519" width="3" height="27" fill="#c0c0c0"/>
<rect x="99" y="519" width="3" height="28" fill="#c0c0c0"/>
<rect x="103" y="519" width="3" height="28" fill="#c0c0c0"/>
<rect x="107" y="519" width="3" height="27" fill="#c0c0c0"/>
<rect x="111" y="519" width="3" height="26" fill="#c0c0c0"/>
<rect x="115" y="519" width="3" height="23" fill="#c0c0c0"/>
<rect x="119" y="519" width="3" height="20" fill="#c0c0c0"/>
<rect x="123" y="519" width="3" height="18" fill="#c0c0c0"/>
<rect x="127" y="519" width="3" height="19" fill="#c0c0c0"/>
<rect x="131" y="519" width="3" height="19" fill="#c0c0c0"/>
<rect x="135" y="519" width="3" height="17" fill="#c0c0c0"/>
<rect x="139" y="519" width="3" height="16" fill="#c0c0c0"/>
<rect x="143" y="519" width="3" height="17" fill="#c0c0c0"/>
<rect x="147" y="519" width="3" height="19" fill="#c0c0c0"/>
<rect x="151" y="519" width="3" height="18" fill="#c0c0c0"/>
<rect x="155" y="519" width="3" height="18" fill="#c0c0c0"/>
<rect x="159" y="519" width="3" height="23" fill="#c0c0c0"/>
<rect x="163" y="519" width="3" height="29" fill="#c0c0c0"/>
<rect x="167" y="519" width="3" height="31" fill="#c0c0c0"/>
<rect x="171" y="519" width="3" height="31" fill="#c0c0c0"/>
<rect x="175" y="519" width="3" height="31" fill="#c0c0c0"/>
<rect x="179" y="519" width="3" height="29" fill="#c0c0c0"/>
<rect x="183" y="519" width="3" height="27" fill="#c0c0c0"/>
<rect x="187" y="519" width="3" height="27" fill="#c0c0c0"/>
<rect x="191" y="519" width="3" height="27" fill="#c0c0c0"/>
<rect x="195" y="519" width="3" height="25" fill="#c0c0c0"/>
<rect x="199" y="519" width="3" height="23" fill="#c0c0c0"/>
<rect x="203" y="519" width="3" height="20" fill="#c0c0c0"/>
<rect x="207" y="519" width="3" height="17" fill="#c0c0c0"/>
<rect x="211" y="519" width="3" height="16" fill="#c0c0c0"/>
<rect x="215" y="519" width="3" height="17" fill="#c0c0c0"/>
<rect x="219" y="519" width="3" height="17" fill="#c0c0c0"/>
<rect x="223" y="519" width="3" height="14" fill="#c0c0c0"/>
<rect x="227" y="519" width="3" height="11" fill="#c0c0c0"/>
<rect x="231" y="519" width="3" height="9" fill="#c0c0c0"/>
<rect x="235" y="519" width="3" height="9" fill="#c0c0c0"/>
<rect x="239" y="519" width="3" height="8" fill="#c0c0c0"/>
<rect x="243" y="519" width="3" height="8" fill="#c0c0c0"/>
<rect x="247" y="519" width="3" height="10" fill="#c0c0c0"/>
<rect x="251" y="519" width="3" height="13" fill="#c0c0c0"/>
<rect x="255" y="519" width="3" height="12" fill="#c0c0c0"/>
<rect x="259" y="519" width="3" height="12" fill="#c0c0c0"/>
<rect x="263" y="519" width="3" height="12" fill="#c0c0c0"/>
<rect x="267" y="519" width="3" height="12" fill="#c0c0c0"/>
<rect x="271" y="519" width="3" height="11" fill="#c0c0c0"/>
<rect x="275" y="519" width="3" height="11" fill="#c0c0c0"/>
<rect x="279" y="519" width="3" height="13" fill="#c0c0c0"/>
<rect x="283" y="519" width="3" height="16" fill="#c0c0c0"/>
<rect x="287" y="519" width="3" height="18" fill="#c0c0c0"/>
<rect x="291" y="519" width="3" height="20" fill="#c0c0c0"/>
<rect x="295" y="519" width="3" height="21" fill="#c0c0c0"/>
<rect x="299" y="519" width="3" height="22" fill="#c0c0c0"/>
<rect x="303" y="519" width="3" height="23" fill="#c0c0c0"/>
<rect x="307" y="519" width="3" height="23" fill="#c0c0c0"/>
<rect x="311" y="519" width="3" height="20" fill="#c0c0c0"/>
<rect x="315" y="519" width="3" height="16" fill="#c0c0c0"/>
<rect x="319" y="519" width="3" height="16" fill="#c0c0c0"/>
<rect x="323" y="519" width="3" height="14" fill="#c0c0c0"/>
<rect x="327" y="519" width="3" height="10" fill="#c0c0c0"/>
<rect x="331" y="519" width="3" height="8" fill="#c0c0c0"/>
<rect x="335" y="519" width="3" height="6" fill="#c0c0c0"/>
<rect x="339" y="519" width="3" height="4" fill="#c0c0c0"/>
<rect x="343" y="519" width="3" height="3" fill="#c0c0c0"/>
<rect x="347" y="519" width="3" height="1" fill="#c0c0c0"/>
<rect x="351" y="516" width="3" height="3" fill="#c0c0c0"/>
<rect x="355" y="516" width="3" height="3" fill="#c0c0c0"/>
<rect x="359" y="515" width="3" height="4" fill="#c0c0c0"/>
<rect x="363" y="514" width="3" height="5" fill="#c0c0c0"/>
<rect x="367" y="514" width="3" height="5" fill="#c0c0c0"/>
<rect x="371" y="509" width="3" height="10" fill="#c0c0c0"/>
<rect x="375" y="506" width="3" height="13" fill="#c0c0c0"/>
<rect x="379" y="500" width="3" height="19" fill="#c0c0c0"/>
<rect x="383" y="499" width="3" height="20" fill="#c0c0c0"/>
<rect x="387" y="500" width="3" height="19" fill="#c0c0c0"/>
<rect x="391" y="502" width="3" height="17" fill="#c0c0c0"/>
<rect x="395" y="503" width="3" height="16" fill="#c0c0c0"/>
<rect x="399" y="504" width="3" height="15" fill="#c0c0c0"/>
<rect x="403" y="505" width="3" height="14" fill="#c0c0c0"/>
<rect x="407" y="505" width="3" height="14" fill="#c0c0c0"/>
<rect x="411" y="506" width="3" height="13" fill="#c0c0c0"/>
<rect x="415" y="506" width="3" height="13" fill="#c0c0c0"/>
<rect x="419" y="506" width="3" height="13" fill="#c0c0c0"/>
<rect x="423" y="507" width="3" height="12" fill="#c0c0c0"/>
<rect x="427" y="507" width="3" height="12" fill="#c0c0c0"/>
<rect x="431" y="506" width="3" height="13" fill="#c0c0c0"/>
<rect x="435" y="504" width="3" height="15" fill="#c0c0c0"/>
<rect x="439" y="502" width="3" height="17" fill="#c0c0c0"/>
<rect x="443" y="500" width="3" height="19" fill="#c0c0c0"/>
<rect x="447" y="498" width="3" height="21" fill="#c0c0c0"/>
<rect x="451" y="494" width="3" height="25" fill="#c0c0c0"/>
<rect x="455" y="494" width="3" height="25" fill="#c0c0c0"/>
<rect x="459" y="492" width="3" height="27" fill="#c0c0c0"/>
<rect x="463" y="491" width="3" height="28" fill="#c0c0c0"/>
<rect x="467" y="491" width="3" height="28" fill="#c0c0c0"/>
<rect x="471" y="494" width="3" height="25" fill="#c0c0c0"/>
<rect x="475" y="496" width="3" height="23" fill="#c0c0c0"/>
<rect x="479" y="499" width="3" height="20" fill="#c0c0c0"/>
<rect x="483" y="499" width="3" height="20" fill="#c0c0c0"/>
<rect x="487" y="500" width="3" height="19" fill="#c0c0c0"/>
<rect x="491" y="502" width="3" height="17" fill="#c0c0c0"/>
<rect x="495" y="504" width="3" height="15" fill="#c0c0c0"/>
<rect x="499" y="505" width="3" height="14" fill="#c0c0c0"/>
<rect x="503" y="508" width="3" height="11" fill="#c0c0c0"/>
<rect x="507" y="511" width="3" height="8" fill="#c0c0c0"/>
<rect x="511" y="514" width="3" height="5" fill="#c0c0c0"/>
<rect x="515" y="516" width="3" height="3" fill="#c0c0c0"/>
<rect x="519" y="519" width="3" height="1" fill="#c0c0c0"/>
<rect x="523" y="519" width="3" height="4" fill="#c0c0c0"/>
<rect x="527" y="519" width="3" height="8" fill="#c0c0c0"/>
<rect x="531" y="519" width="3" height="11" fill="#c0c0c0"/>
<rect x="535" y="519" width="3" height="13" fill="#c0c0c0"/>
<rect x="539" y="519" width="3" height="15" fill="#c0c0c0"/>
<rect x="543" y="519" width="3" height="17" fill="#c0c0c0"/>
<rect x="547" y="519" width="3" height="19" fill="#c0c0c0"/>
<rect x="551" y="519" width="3" height="20" fill="#c0c0c0"/>
<rect x="555" y="519" width="3" height="22" fill="#c0c0c0"/>
<rect x="559" y="519" width="3" height="22" fill="#c0c0c0"/>
<rect x="563" y="519" width="3" height="22" fill="#c0c0c0"/>
<rect x="567" y="519" width="3" height="22" fill="#c0c0c0"/>
<rect x="571" y="519" width="3" height="19" fill="#c0c0c0"/>
<rect x="575" y="519" width="3" height="20" fill="#c0c0c0"/>
<rect x="579" y="519" width="3" height="21" fill="#c0c0c0"/>
<rect x="583" y="519" width="3" height="23" fill="#c0c0c0"/>
<rect x="587" y="519" width="3" height="27" fill="#c0c0c0"/>
<rect x="591" y="519" width="3" height="31" fill="#c0c0c0"/>
<rect x="595" y="519" width="3" height="31" fill="#c0c0c0"/>
<rect x="599" y="519" width="3" height="29" fill="#c0c0c0"/>
<rect x="603" y="519" width="3" height="26" fill="#c0c0c0"/>
<rect x="607" y="519" width="3" height="25" fill="#c0c0c0"/>
<rect x="611" y="519" width="3" height="24" fill="#c0c0c0"/>
<rect x="615" y="519" width="3" height="25" fill="#c0c0c0"/>
<rect x="619" y="519" width="3" height="25" fill="#c0c0c0"/>
<rect x="623" y="519" width="3" height="23" fill="#c0c0c0"/>
<rect x="627" y="519" width="3" height="23" fill="#c0c0c0"/>
<rect x="631" y="519" width="3" height="21" fill="#c0c0c0"/>
<rect x="635" y="519" width="3" height="22" fill="#c0c0c0"/>
<rect x="639" y="519" width="3" height="22" fill="#c0c0c0"/>
<rect x="643" y="519" width="3" height="25" fill="#c0c0c0"/>
<rect x="647" y="519" width="3" height="29" fill="#c0c0c0"/>
<rect x="651" y="519" width="3" height="32" fill="#c0c0c0"/>
<rect x="655" y="519" width="3" height="35" fill="#c0c0c0"/>
<rect x="659" y="519" width="3" height="35" fill="#c0c0c0"/>
<rect x="663" y="519" width="3" height="34" fill="#c0c0c0"/>
<rect x="667" y="519" width="3" height="33" fill="#c0c0c0"/>
<rect x="671" y="519" width="3" height="31" fill="#c0c0c0"/>
<rect x="675" y="519" width="3" height="29" fill="#c0c0c0"/>
<rect x="679" y="519" width="3" height="27" fill="#c0c0c0"/>
<rect x="683" y="519" width="3" height="25" fill="#c0c0c0"/>
<rect x="687" y="519" width="3" height="23" fill="#c0c0c0"/>
<rect x="691" y="519" width="3" height="22" fill="#c0c0c0"/>
<rect x="695" y="519" width="3" height="21" fill="#c0c0c0"/>
<rect x="699" y="519" width="3" height="20" fill="#c0c0c0"/>
<rect x="703" y="519" width="3" height="18" fill="#c0c0c0"/>
<rect x="707" y="519" width="3" height="16" fill="#c0c0c0"/>
<rect x="711" y="519" width="3" height="14" fill="#c0c0c0"/>
<rect x="715" y="519" width="3" height="12" fill="#c0c0c0"/>
<rect x="719" y="519" width="3" height="10" fill="#c0c0c0"/>
<rect x="723" y="519" width="3" height="5" fill="#c0c0c0"/>
<rect x="727" y="517" width="3" height="2" fill="#c0c0c0"/>
<rect x="731" y="513" width="3" height="6" fill="#c0c0c0"/>
<rect x="735" y="508" width="3" height="11" fill="#c0c0c0"/>
<rect x="739" y="504" width="3" height="15" fill="#c0c0c0"/>
<rect x="743" y="502" width="3" height="17" fill="#c0c0c0"/>
<rect x="747" y="500" width="3" height="19" fill="#c0c0c0"/>
<rect x="751" y="500" width="3" height="19" fill="#c0c0c0"/>
<rect x="755" y="500" width="3" height="19" fill="#c0c0c0"/>
<rect x="759" y="501" width="3" height="18" fill="#c0c0c0"/>
<rect x="763" y="501" width="3" height="18" fill="#c0c0c0"/>
<rect x="767" y="502" width="3" height="17" fill="#c0c0c0"/>
<rect x="771" y="502" width="3" height="17" fill="#c0c0c0"/>
<rect x="775" y="502" width="3" height="17" fill="#c0c0c0"/>
<rect x="779" y="502" width="3" height="17" fill="#c0c0c0"/>
<rect x="783" y="502" width="3" height="17" fill="#c0c0c0"/>
<rect x="787" y="502" width="3" height="17" fill="#c0c0c0"/>
<rect x="791" y="502" width="3" height="17" fill="#c0c0c0"/>
<rect x="795" y="502" width="3" height="17" fill="#c0c0c0"/>
<rect x="799" y="502" width="3" height="17" fill="#c0c0c0"/>
<rect x="803" y="502" width="3" height="17" fill="#c0c0c0"/>
<rect x="807" y="502" width="3" height="17" fill="#c0c0c0"/>
<rect x="811" y="504" width="3" height="15" fill="#c0c0c0"/>
<rect x="815" y="506" width="3" height="13" fill="#c0c0c0"/>
<rect x="819" y="509" width="3" height="10" fill="#c0c0c0"/>
<rect x="823" y="508" width="3" height="11" fill="#c0c0c0"/>
<rect x="827" y="509" width="3" height="10" fill="#c0c0c0"/>
<rect x="831" y="508" width="3" height="11" fill="#c0c0c0"/>
<rect x="835" y="508" width="3" height="11" fill="#c0c0c0"/>
<rect x="839" y="510" width="3" height="9" fill="#c0c0c0"/>
<rect x="843" y="510" width="3" height="9" fill="#c0c0c0"/>
<rect x="847" y="509" width="3" height="10" fill="#c0c0c0"/>
<rect x="851" y="511" width="3" height="8" fill="#c0c0c0"/>
<rect x="855" y="510" width="3" height="9" fill="#c0c0c0"/>
<rect x="859" y="507" width="3" height="12" fill="#c0c0c0"/>
<rect x="863" y="506" width="3" height="13" fill="#c0c0c0"/>
<rect x="867" y="509" width="3" height="10" fill="#c0c0c0"/>
<rect x="871" y="513" width="3" height="6" fill="#c0c0c0"/>
<rect x="875" y="515" width="3" height="4" fill="#c0c0c0"/>
<rect x="879" y="516" width="3" height="3" fill="#c0c0c0"/>
<rect x="883" y="517" width="3" height="2" fill="#c0c0c0"/>
<rect x="887" y="519" width="3" height="1" fill="#c0c0c0"/>
<rect x="891" y="519" width="3" height="2" fill="#c0c0c0"/>
<rect x="895" y="519" width="3" height="1" fill="#c0c0c0"/>
<rect x="899" y="518" width="3" height="1" fill="#c0c0c0"/>
<rect x="903" y="517" width="3" height="2" fill="#c0c0c0"/>
<rect x="907" y="516" width="3" height="3" fill="#c0c0c0"/>
<rect x="911" y="516" width="3" height="3" fill="#c0c0c0"/>
<rect x="915" y="517" width="3" height="2" fill="#c0c0c0"/>
<rect x="919" y="517" width="3" height="2" fill="#c0c0c0"/>
<rect x="923" y="517" width="3" height="2" fill="#c0c0c0"/>
<path d="M4 561h1v1h-1zM5 561h1v1h-1zM6 561h1v1h-1zM7 561h1v1h-1zM8 562h1v1h-1zM9 562h1v1h-1zM10 562h1v1h-1zM11 562h1v1h-1zM12 562h1v1h-1zM13 562h1v1h-1zM14 562h1v1h-1zM15 562h1v1h-1zM16 562h1v1h-1zM17 563h1v1h-1zM18 563h1v1h-1zM19 563h1v1h-1zM20 563h1v1h-1zM21 563h1v1h-1zM22 563h1v1h-1zM23 563h1v1h-1zM24 563h1v1h-1zM25 562h1v1h-1zM26 562h1v1h-1zM27 562h1v1h-1zM28 562h1v1h-1zM29 562h1v1h-1zM30 562h1v1h-1zM31 561h1v1h-1zM32 561h1v1h-1zM33 561h1v1h-1zM34 561h1v1h-1zM35 560h1v1h-1zM36 560h1v1h-1zM37 560h1v1h-1zM38 559h1v1h-1zM39 559h1v1h-1zM40 558h1v1h-1zM41 558h1v1h-1zM42 558h1v1h-1zM43 557h1v1h-1zM44 557h1v1h-1zM45 557h1v1h-1zM46 556h1v1h-1zM47 556h1v1h-1zM48 555h1v1h-1zM49 555h1v1h-1zM50 555h1v1h-1zM51 554h1v1h-1zM52 554h1v1h-1zM53 554h1v1h-1zM54 553h1v1h-1zM55 553h1v1h-1zM56 552h1v1h-1zM57 552h1v1h-1zM58 552h1v1h-1zM59 552h1v1h-1zM60 552h1v1h-1zM61 552h1v1h-1zM62 552h1v1h-1zM63 552h1v1h-1zM64 552h1v1h-1zM65 552h1v1h-1zM66 552h1v1h-1zM67 552h1v1h-1zM68 552h1v1h-1zM69 552h1v1h-1zM70 552h1v1h-1zM71 552h1v1h-1zM72 552h1v1h-1zM73 552h1v1h-1zM74 552h1v1h-1zM75 552h1v1h-1zM76 552h1v1h-1zM77 552h1v1h-1zM78 552h1v1h-1zM79 552h1v1h-1zM80 553h1v1h-1zM81 553h1v1h-1zM82 553h1v1h-1zM83 553h1v1h-1zM84 553h1v1h-1zM85 553h1v1h-1zM86 553h1v1h-1zM87 553h1v1h-1zM88 553h1v1h-1zM89 552h1v1h-1zM90 552h1v1h-1zM91 552h1v1h-1zM92 551h1v1h-1zM93 551h1v1h-1zM94 551h1v1h-1zM95 550h1v1h-1zM96 550h1v1h-1zM97 550h1v1h-1zM98 549h1v1h-1zM99 549h1v1h-1zM100 549h1v1h-1zM101 548h1v1h-1zM102 548h1v1h-1zM103 548h1v1h-1zM104 548h1v1h-1zM105 547h1v1h-1zM106 547h1v1h-1zM107 547h1v1h-1zM108 546h1v1h-1zM109 546h1v1h-1zM110 546h1v1h-1zM111 546h1v1h-1zM112 545h1v1h-1zM113 545h1v1h-1zM114 545h1v1h-1zM115 544h1v1h-1zM116 544h1v1h-1zM117 544h1v1h-1zM118 544h1v1h-1zM119 543h1v1h-1zM120 543h1v1h-1zM121 543h1v1h-1zM122 543h1v1h-1zM123 542h1v1h-1zM124 542h1v1h-1zM125 542h1v1h-1zM126 542h1v1h-1zM127 541h1v1h-1zM128 541h1v1h-1zM129 541h1v1h-1zM130 541h1v1h-1zM131 540h1v1h-1zM132 540h1v1h-1zM133 540h1v1h-1zM134 540h1v1h-1zM135 539h1v1h-1zM136 539h1v1h-1zM137 539h1v1h-1zM138 538h1v1h-1zM139 538h1v1h-1zM140 538h1v1h-1zM141 538h1v1h-1zM142 537h1v1h-1zM143 537h1v1h-1zM144 537h1v1h-1zM145 536h1v1h-1zM146 536h1v1h-1zM147 536h1v1h-1zM148 536h1v1h-1zM149 536h1v1h-1zM150 536h1v1h-1zM151 536h1v1h-1zM152 536h1v1h-1zM153 536h1v1h-1zM154 536h1v1h-1zM155 536h1v1h-1zM156 536h1v1h-1zM157 536h1v1h-1zM158 536h1v1h-1zM159 536h1v1h-1zM160 537h1v1h-1zM161 537h1v1h-1zM162 537h1v1h-1zM163 538h1v1h-1zM164 538h1v1h-1zM165 539h1v1h-1zM166 539h1v1h-1zM167 539h1v1h-1zM168 540h1v1h-1zM169 540h1v1h-1zM170 540h1v1h-1zM171 541h1v1h-1zM172 541h1v1h-1zM173 541h1v1h-1zM174 542h1v1h-1zM175 542h1v1h-1zM176 542h1v1h-1zM177 543h1v1h-1zM178 543h1v1h-1zM179 543h1v1h-1zM180 544h1v1h-1zM181 544h1v1h-1zM182 544h1v1h-1zM183 545h1v1h-1zM184 545h1v1h-1zM185 545h1v1h-1zM186 545h1v1h-1zM187 546h1v1h-1zM188 546h1v1h-1zM189 546h1v1h-1zM190 546h1v1h-1zM191 547h1v1h-1zM192 547h1v1h-1zM193 547h1v1h-1zM194 547h1v1h-1zM195 547h1v1h-1zM196 547h1v1h-1zM197 546h1v1h-1zM198 546h1v1h-1zM199 546h1v1h-1zM200 546h1v1h-1zM201 546h1v1h-1zM202 546h1v1h-1zM203 545h1v1h-1zM204 545h1v1h-1zM205 544h1v1h-1zM206 544h1v1h-1zM207 544h1v1h-1zM208 543h1v1h-1zM209 543h1v1h-1zM210 543h1v1h-1zM211 542h1v1h-1zM212 542h1v1h-1zM213 541h1v1h-1zM214 541h1v1h-1zM215 541h1v1h-1zM216 540h1v1h-1zM217 540h1v1h-1zM218 540h1v1h-1zM219 539h1v1h-1zM220 539h1v1h-1zM221 538h1v1h-1zM222 538h1v1h-1zM223 538h1v1h-1zM224 537h1v1h-1zM225 537h1v1h-1zM226 536h1v1h-1zM227 536h1v1h-1zM228 536h1v1h-1zM229 535h1v1h-1zM230 535h1v1h-1zM231 534h1v1h-1zM232 534h1v1h-1zM233 534h1v1h-1zM234 533h1v1h-1zM235 533h1v1h-1zM236 532h1v1h-1zM237 532h1v1h-1zM238 532h1v1h-1zM239 531h1v1h-1zM240 531h1v1h-1zM241 531h1v1h-1zM242 530h1v1h-1zM243 530h1v1h-1zM244 530h1v1h-1zM245 530h1v1h-1zM246 529h1v1h-1zM247 529h1v1h-1zM248 529h1v1h-1zM249 529h1v1h-1zM250 529h1v1h-1zM251 529h1v1h-1zM252 529h1v1h-1zM253 529h1v1h-1zM254 529h1v1h-1zM255 528h1v1h-1zM256 528h1v1h-1zM257 528h1v1h-1zM258 528h1v1h-1zM259 528h1v1h-1zM260 528h1v1h-1zM261 528h1v1h-1zM262 528h1v1h-1zM263 528h1v1h-1zM264 528h1v1h-1zM265 528h1v1h-1zM266 528h1v1h-1zM267 528h1v1h-1zM268 528h1v1h-1zM269 528h1v1h-1zM270 529h1v1h-1zM271 529h1v1h-1zM272 529h1v1h-1zM273 529h1v1h-1zM274 529h1v1h-1zM275 529h1v1h-1zM276 529h1v1h-1zM277 529h1v1h-1zM278 529h1v1h-1zM279 529h1v1h-1zM280 530h1v1h-1zM281 530h1v1h-1zM282 530h1v1h-1zM283 530h1v1h-1zM284 530h1v1h-1zM285 530h1v1h-1zM286 531h1v1h-1zM287 531h1v1h-1zM288 531h1v1h-1zM289 531h1v1h-1zM290 532h1v1h-1zM291 532h1v1h-1zM292 532h1v1h-1zM293 532h1v1h-1zM294 533h1v1h-1zM295 533h1v1h-1zM296 533h1v1h-1zM297 533h1v1h-1zM298 534h1v1h-1zM299 534h1v1h-1zM300 534h1v1h-1zM301 534h1v1h-1zM302 535h1v1h-1zM303 535h1v1h-1zM304 535h1v1h-1zM305 536h1v1h-1zM306 536h1v1h-1zM307 536h1v1h-1zM308 537h1v1h-1zM309 537h1v1h-1zM310 537h1v1h-1zM311 538h1v1h-1zM312 538h1v1h-1zM313 538h1v1h-1zM314 538h1v1h-1zM315 538h1v1h-1zM316 538h1v1h-1zM317 538h1v1h-1zM318 538h1v1h-1zM319 538h1v1h-1zM320 538h1v1h-1zM321 538h1v1h-1zM322 537h1v1h-1zM323 537h1v1h-1zM324 537h1v1h-1zM325 536h1v1h-1zM326 536h1v1h-1zM327 535h1v1h-1zM328 535h1v1h-1zM329 535h1v1h-1zM330 534h1v1h-1zM331 534h1v1h-1zM332 534h1v1h-1zM333 533h1v1h-1zM334 533h1v1h-1zM335 532h1v1h-1zM336 532h1v1h-1zM337 531h1v1h-1zM338 530h1v1h-1zM339 530h1v1h-1zM340 529h1v1h-1zM341 528h1v1h-1zM342 527h1v1h-1zM343 527h1v1h-1zM344 526h1v1h-1zM345 525h1v1h-1zM346 525h1v1h-1zM347 524h1v1h-1zM348 523h1v1h-1zM349 523h1v1h-1zM350 522h1v1h-1zM351 522h1v1h-1zM352 521h1v1h-1zM353 521h1v1h-1zM354 521h1v1h-1zM355 520h1v1h-1zM356 520h1v1h-1zM357 520h1v1h-1zM358 519h1v1h-1zM359 519h1v1h-1zM360 519h1v1h-1zM361 518h1v1h-1zM362 518h1v1h-1zM363 518h1v1h-1zM364 517h1v1h-1zM365 517h1v1h-1zM366 517h1v1h-1zM367 516h1v1h-1zM368 516h1v1h-1zM369 515h1v1h-1zM370 515h1v1h-1zM371 514h1v1h-1zM372 514h1v1h-1zM373 513h1v1h-1zM374 513h1v1h-1zM375 512h1v1h-1zM376 512h1v1h-1zM377 511h1v1h-1zM378 511h1v1h-1zM379 510h1v1h-1zM380 510h1v1h-1zM381 509h1v1h-1zM382 509h1v1h-1zM383 508h1v1h-1zM384 508h1v1h-1zM385 507h1v1h-1zM386 507h1v1h-1zM387 506h1v1h-1zM388 506h1v1h-1zM389 505h1v1h-1zM390 505h1v1h-1zM391 505h1v1h-1zM392 504h1v1h-1zM393 504h1v1h-1zM394 504h1v1h-1zM395 504h1v1h-1zM396 503h1v1h-1zM397 503h1v1h-1zM398 503h1v1h-1zM399 503h1v1h-1zM400 503h1v1h-1zM401 502h1v1h-1zM402 502h1v1h-1zM403 502h1v1h-1zM404 502h1v1h-1zM405 502h1v1h-1zM406 502h1v1h-1zM407 502h1v1h-1zM408 502h1v1h-1zM409 503h1v1h-1zM410 503h1v1h-1zM411 503h1v1h-1zM412 503h1v1h-1zM413 503h1v1h-1zM414 503h1v1h-1zM415 503h1v1h-1zM416 503h1v1h-1zM417 503h1v1h-1zM418 504h1v1h-1zM419 504h1v1h-1zM420 504h1v1h-1zM421 504h1v1h-1zM422 505h1v1h-1zM423 505h1v1h-1zM424 505h1v1h-1zM425 505h1v1h-1zM426 505h1v1h-1zM427 506h1v1h-1zM428 506h1v1h-1zM429 506h1v1h-1zM430 506h1v1h-1zM431 506h1v1h-1zM432 506h1v1h-1zM433 506h1v1h-1zM434 506h1v1h-1zM435 506h1v1h-1zM436 505h1v1h-1zM437 505h1v1h-1zM438 505h1v1h-1zM439 505h1v1h-1zM440 505h1v1h-1zM441 505h1v1h-1zM442 505h1v1h-1zM443 505h1v1h-1zM444 505h1v1h-1zM445 504h1v1h-1zM446 504h1v1h-1zM447 503h1v1h-1zM448 503h1v1h-1zM449 503h1v1h-1zM450 502h1v1h-1zM451 502h1v1h-1zM452 502h1v1h-1zM453 501h1v1h-1zM454 501h1v1h-1zM455 500h1v1h-1zM456 500h1v1h-1zM457 500h1v1h-1zM458 499h1v1h-1zM459 499h1v1h-1zM460 499h1v1h-1zM461 498h1v1h-1zM462 498h1v1h-1zM463 498h1v1h-1zM464 497h1v1h-1zM465 497h1v1h-1zM466 496h1v1h-1zM467 496h1v1h-1zM468 496h1v1h-1zM469 495h1v1h-1zM470 495h1v1h-1zM471 495h1v1h-1zM472 494h1v1h-1zM473 494h1v1h-1zM474 494h1v1h-1zM475 494h1v1h-1zM476 494h1v1h-1zM477 494h1v1h-1zM478 494h1v1h-1zM479 494h1v1h-1zM480 494h1v1h-1zM481 494h1v1h-1zM482 494h1v1h-1zM483 494h1v1h-1zM484 494h1v1h-1zM485 494h1v1h-1zM486 494h1v1h-1zM487 494h1v1h-1zM488 495h1v1h-1zM489 495h1v1h-1zM490 495h1v1h-1zM491 495h1v1h-1zM492 496h1v1h-1zM493 496h1v1h-1zM494 496h1v1h-1zM495 496h1v1h-1zM496 496h1v1h-1zM497 497h1v1h-1zM498 497h1v1h-1zM499 497h1v1h-1zM500 498h1v1h-1zM501 498h1v1h-1zM502 499h1v1h-1zM503 499h1v1h-1zM504 500h1v1h-1zM505 500h1v1h-1zM506 501h1v1h-1zM507 501h1v1h-1zM508 502h1v1h-1zM509 502h1v1h-1zM510 503h1v1h-1zM511 503h1v1h-1zM512 504h1v1h-1zM513 504h1v1h-1zM514 505h1v1h-1zM515 506h1v1h-1zM516 506h1v1h-1zM517 507h1v1h-1zM518 507h1v1h-1zM519 508h1v1h-1zM520 509h1v1h-1zM521 509h1v1h-1zM522 510h1v1h-1zM523 510h1v1h-1zM524 511h1v1h-1zM525 511h1v1h-1zM526 512h1v1h-1zM527 513h1v1h-1zM528 514h1v1h-1zM529 514h1v1h-1zM530 515h1v1h-1zM531 516h1v1h-1zM532 517h1v1h-1zM533 517h1v1h-1zM534 518h1v1h-1zM535 519h1v1h-1zM536 520h1v1h-1zM537 520h1v1h-1zM538 521h1v1h-1zM539 522h1v1h-1zM540 522h1v1h-1zM541 523h1v1h-1zM542 524h1v1h-1zM543 524h1v1h-1zM544 525h1v1h-1zM545 526h1v1h-1zM546 526h1v1h-1zM547 527h1v1h-1zM548 528h1v1h-1zM549 528h1v1h-1zM550 529h1v1h-1zM551 530h1v1h-1zM552 530h1v1h-1zM553 531h1v1h-1zM554 531h1v1h-1zM555 532h1v1h-1zM556 532h1v1h-1zM557 533h1v1h-1zM558 533h1v1h-1zM559 534h1v1h-1zM560 534h1v1h-1zM561 535h1v1h-1zM562 535h1v1h-1zM563 536h1v1h-1zM564 536h1v1h-1zM565 537h1v1h-1zM566 537h1v1h-1zM567 537h1v1h-1zM568 537h1v1h-1zM569 537h1v1h-1zM570 538h1v1h-1zM571 538h1v1h-1zM572 538h1v1h-1zM573 538h1v1h-1zM574 538h1v1h-1zM575 538h1v1h-1zM576 538h1v1h-1zM577 538h1v1h-1zM578 539h1v1h-1zM579 539h1v1h-1zM580 539h1v1h-1zM581 539h1v1h-1zM582 539h1v1h-1zM583 539h1v1h-1zM584 540h1v1h-1zM585 540h1v1h-1zM586 540h1v1h-1zM587 540h1v1h-1zM588 541h1v1h-1zM589 541h1v1h-1zM590 541h1v1h-1zM591 541h1v1h-1zM592 542h1v1h-1zM593 542h1v1h-1zM594 542h1v1h-1zM595 542h1v1h-1zM596 542h1v1h-1zM597 543h1v1h-1zM598 543h1v1h-1zM599 543h1v1h-1zM600 543h1v1h-1zM601 543h1v1h-1zM602 544h1v1h-1zM603 544h1v1h-1zM604 544h1v1h-1zM605 544h1v1h-1zM606 544h1v1h-1zM607 544h1v1h-1zM608 544h1v1h-1zM609 545h1v1h-1zM610 545h1v1h-1zM611 545h1v1h-1zM612 545h1v1h-1zM613 545h1v1h-1zM614 545h1v1h-1zM615 545h1v1h-1zM616 545h1v1h-1zM617 545h1v1h-1zM618 545h1v1h-1zM619 545h1v1h-1zM620 545h1v1h-1zM621 545h1v1h-1zM622 545h1v1h-1zM623 545h1v1h-1zM624 545h1v1h-1zM625 545h1v1h-1zM626 544h1v1h-1zM627 544h1v1h-1zM628 544h1v1h-1zM629 544h1v1h-1zM630 543h1v1h-1zM631 543h1v1h-1zM632 543h1v1h-1zM633 543h1v1h-1zM634 542h1v1h-1zM635 542h1v1h-1zM636 542h1v1h-1zM637 542h1v1h-1zM638 542h1v1h-1zM639 542h1v1h-1zM640 542h1v1h-1zM641 542h1v1h-1zM642 541h1v1h-1zM643 541h1v1h-1zM644 541h1v1h-1zM645 541h1v1h-1zM646 541h1v1h-1zM647 541h1v1h-1zM648 541h1v1h-1zM649 541h1v1h-1zM650 542h1v1h-1zM651 542h1v1h-1zM652 542h1v1h-1zM653 542h1v1h-1zM654 543h1v1h-1zM655 543h1v1h-1zM656 543h1v1h-1zM657 543h1v1h-1zM658 544h1v1h-1zM659 544h1v1h-1zM660 544h1v1h-1zM661 544h1v1h-1zM662 545h1v1h-1zM663 545h1v1h-1zM664 545h1v1h-1zM665 546h1v1h-1zM666 546h1v1h-1zM667 546h1v1h-1zM668 547h1v1h-1zM669 547h1v1h-1zM670 547h1v1h-1zM671 548h1v1h-1zM672 548h1v1h-1zM673 548h1v1h-1zM674 548h1v1h-1zM675 549h1v1h-1zM676 549h1v1h-1zM677 549h1v1h-1zM678 550h1v1h-1zM679 550h1v1h-1zM680 550h1v1h-1zM681 550h1v1h-1zM682 550h1v1h-1zM683 550h1v1h-1zM684 550h1v1h-1zM685 550h1v1h-1zM686 550h1v1h-1zM687 549h1v1h-1zM688 549h1v1h-1zM689 549h1v1h-1zM690 548h1v1h-1zM691 548h1v1h-1zM692 548h1v1h-1zM693 548h1v1h-1zM694 547h1v1h-1zM695 547h1v1h-1zM696 547h1v1h-1zM697 546h1v1h-1zM698 546h1v1h-1zM699 545h1v1h-1zM700 545h1v1h-1zM701 544h1v1h-1zM702 544h1v1h-1zM703 544h1v1h-1zM704 543h1v1h-1zM705 543h1v1h-1zM706 542h1v1h-1zM707 542h1v1h-1zM708 541h1v1h-1zM709 541h1v1h-1zM710 541h1v1h-1zM711 540h1v1h-1zM712 540h1v1h-1zM713 539h1v1h-1zM714 539h1v1h-1zM715 538h1v1h-1zM716 538h1v1h-1zM717 537h1v1h-1zM718 537h1v1h-1zM719 537h1v1h-1zM720 536h1v1h-1zM721 536h1v1h-1zM722 535h1v1h-1zM723 535h1v1h-1zM724 534h1v1h-1zM725 534h1v1h-1zM726 533h1v1h-1zM727 532h1v1h-1zM728 532h1v1h-1zM729 531h1v1h-1zM730 530h1v1h-1zM731 529h1v1h-1zM732 529h1v1h-1zM733 528h1v1h-1zM734 527h1v1h-1zM735 526h1v1h-1zM736 526h1v1h-1zM737 525h1v1h-1zM738 524h1v1h-1zM739 523h1v1h-1zM740 522h1v1h-1zM741 521h1v1h-1zM742 520h1v1h-1zM743 519h1v1h-1zM744 518h1v1h-1zM745 517h1v1h-1zM746 516h1v1h-1zM747 515h1v1h-1zM748 514h1v1h-1zM749 513h1v1h-1zM750 512h1v1h-1zM751 511h1v1h-1zM752 510h1v1h-1zM753 509h1v1h-1zM754 508h1v1h-1zM755 507h1v1h-1zM756 506h1v1h-1zM757 505h1v1h-1zM758 505h1v1h-1zM759 504h1v1h-1zM760 504h1v1h-1zM761 503h1v1h-1zM762 503h1v1h-1zM763 502h1v1h-1zM764 502h1v1h-1zM765 502h1v1h-1zM766 502h1v1h-1zM767 501h1v1h-1zM768 501h1v1h-1zM769 501h1v1h-1zM770 501h1v1h-1zM771 501h1v1h-1zM772 501h1v1h-1zM773 501h1v1h-1zM774 501h1v1h-1zM775 501h1v1h-1zM776 501h1v1h-1zM777 501h1v1h-1zM778 501h1v1h-1zM779 501h1v1h-1zM780 501h1v1h-1zM781 501h1v1h-1zM782 501h1v1h-1zM783 501h1v1h-1zM784 501h1v1h-1zM785 501h1v1h-1zM786 501h1v1h-1zM787 501h1v1h-1zM788 501h1v1h-1zM789 501h1v1h-1zM790 501h1v1h-1zM791 501h1v1h-1zM792 501h1v1h-1zM793 501h1v1h-1zM794 501h1v1h-1zM795 501h1v1h-1zM796 501h1v1h-1zM797 501h1v1h-1zM798 501h1v1h-1zM799 501h1v1h-1zM800 501h1v1h-1zM801 501h1v1h-1zM802 501h1v1h-1zM803 501h1v1h-1zM804 501h1v1h-1zM805 501h1v1h-1zM806 501h1v1h-1zM807 501h1v1h-1zM808 501h1v1h-1zM809 501h1v1h-1zM810 501h1v1h-1zM811 501h1v1h-1zM812 501h1v1h-1zM813 501h1v1h-1zM814 502h1v1h-1zM815 502h1v1h-1zM816 502h1v1h-1zM817 502h1v1h-1zM818 502h1v1h-1zM819 502h1v1h-1zM820 503h1v1h-1zM821 503h1v1h-1zM822 503h1v1h-1zM823 504h1v1h-1zM824 504h1v1h-1zM825 504h1v1h-1zM826 504h1v1h-1zM827 505h1v1h-1zM828 505h1v1h-1zM829 505h1v1h-1zM830 505h1v1h-1zM831 505h1v1h-1zM832 505h1v1h-1zM833 506h1v1h-1zM834 506h1v1h-1zM835 506h1v1h-1zM836 506h1v1h-1zM837 506h1v1h-1zM838 506h1v1h-1zM839 506h1v1h-1zM840 507h1v1h-1zM841 507h1v1h-1zM842 507h1v1h-1zM843 508h1v1h-1zM844 508h1v1h-1zM845 508h1v1h-1zM846 509h1v1h-1zM847 509h1v1h-1zM848 509h1v1h-1zM849 509h1v1h-1zM850 509h1v1h-1zM851 509h1v1h-1zM852 510h1v1h-1zM853 510h1v1h-1zM854 510h1v1h-1zM855 510h1v1h-1zM856 510h1v1h-1zM857 510h1v1h-1zM858 509h1v1h-1zM859 509h1v1h-1zM860 509h1v1h-1zM861 509h1v1h-1zM862 509h1v1h-1zM863 509h1v1h-1zM864 509h1v1h-1zM865 509h1v1h-1zM866 509h1v1h-1zM867 509h1v1h-1zM868 509h1v1h-1zM869 509h1v1h-1zM870 509h1v1h-1zM871 509h1v1h-1zM872 509h1v1h-1zM873 509h1v1h-1zM874 510h1v1h-1zM875 510h1v1h-1zM876 510h1v1h-1zM877 510h1v1h-1zM878 510h1v1h-1zM879 510h1v1h-1zM880 510h1v1h-1zM881 511h1v1h-1zM882 511h1v1h-1zM883 511h1v1h-1zM884 511h1v1h-1zM885 512h1v1h-1zM886 512h1v1h-1zM887 512h1v1h-1zM888 513h1v1h-1zM889 513h1v1h-1zM890 513h1v1h-1zM891 513h1v1h-1zM892 514h1v1h-1zM893 514h1v1h-1zM894 514h1v1h-1zM895 515h1v1h-1zM896 515h1v1h-1zM897 515h1v1h-1zM898 515h1v1h-1zM899 516h1v1h-1zM900 516h1v1h-1zM901 516h1v1h-1zM902 517h1v1h-1zM903 517h1v1h-1zM904 517h1v1h-1zM905 517h1v1h-1zM906 518h1v1h-1zM907 518h1v1h-1zM908 518h1v1h-1zM909 518h1v1h-1zM910 518h1v1h-1zM911 518h1v1h-1zM912 518h1v1h-1zM913 518h1v1h-1zM914 518h1v1h-1zM915 518h1v1h-1zM916 518h1v1h-1zM917 518h1v1h-1zM918 518h1v1h-1zM919 518h1v1h-1zM920 518h1v1h-1zM921 518h1v1h-1zM922 518h1v1h-1zM923 518h1v1h-1zM924 518h1v1h-1z" fill="#ff0000"/>
<line x1="5" x2="1166" y1="599.5" y2="599.5" stroke="#c0c0c0" stroke-width="1" stroke-dasharray="3,3"/>
<line x1="5" x2="1166" y1="633.5" y2="633.5" stroke="#c0c0c0" stroke-width="1" stroke-dasharray="3,3"/>
<path d="M4 633h1v1h-1zM5 631h1v2h-1zM6 630h1v1h-1zM7 628h1v2h-1zM8 627h1v1h-1zM9 628h1v1h-1zM10 628h1v1h-1zM11 629h1v1h-1zM12 629h1v1h-1zM13 629h1v1h-1zM14 629h1v1h-1zM15 629h1v1h-1zM16 629h1v1h-1zM17 627h1v2h-1zM18 625h1v2h-1zM19 623h1v2h-1zM20 623h1v1h-1zM21 622h1v1h-1zM22 622h1v1h-1zM23 622h1v1h-1zM24 622h1v1h-1zM25 623h1v1h-1zM26 623h1v1h-1zM27 623h1v1h-1zM28 624h1v1h-1zM29 624h1v1h-1zM30 625h1v1h-1zM31 625h1v1h-1zM32 626h1v1h-1zM33 626h1v1h-1zM34 625h1v1h-1zM35 625h1v1h-1zM36 625h1v1h-1zM37 625h1v1h-1zM38 624h1v1h-1zM39 624h1v1h-1zM40 624h1v1h-1zM41 623h1v1h-1zM42 623h1v1h-1zM43 622h1v1h-1zM44 622h1v1h-1zM45 623h1v1h-1zM46 624h1v1h-1zM47 625h1v1h-1zM48 626h1v1h-1zM49 626h1v1h-1zM50 627h1v1h-1zM51 627h1v1h-1zM52 627h1v1h-1zM53 628h1v1h-1zM54 629h1v1h-1zM55 629h1v1h-1zM56 630h1v1h-1zM57 631h1v1h-1zM58 632h1v1h-1zM59 632h1v1h-1zM60 633h1v1h-1zM61 633h1v1h-1zM62 633h1v1h-1zM63 633h1v1h-1zM64 632h1v1h-1zM65 632h1v1h-1zM66 631h1v1h-1zM67 631h1v1h-1zM68 631h1v1h-1zM69 631h1v1h-1zM70 631h1v1h-1zM71 631h1v1h-1zM72 631h1v1h-1zM73 630h1v1h-1zM74 630h1v1h-1zM75 629h1v1h-1zM76 629h1v1h-1zM77 627h1v2h-1zM78 626h1v1h-1zM79 624h1v2h-1zM80 623h1v1h-1zM81 623h1v1h-1zM82 624h1v1h-1zM83 624h1v1h-1zM84 624h1v1h-1zM85 624h1v1h-1zM86 624h1v1h-1zM87 624h1v1h-1zM88 624h1v1h-1zM89 624h1v1h-1zM90 625h1v1h-1zM91 625h1v1h-1zM92 625h1v1h-1zM93 626h1v1h-1zM94 626h1v1h-1zM95 627h1v1h-1zM96 627h1v1h-1zM97 628h1v1h-1zM98 628h1v1h-1zM99 629h1v1h-1zM100 629h1v1h-1zM101 629h1v1h-1zM102 628h1v1h-1zM103 628h1v1h-1zM104 628h1v1h-1zM105 628h1v1h-1zM106 628h1v1h-1zM107 628h1v1h-1zM108 628h1v1h-1zM109 627h1v1h-1zM110 627h1v1h-1zM111 626h1v1h-1zM112 626h1v1h-1zM113 624h1v2h-1zM114 623h1v1h-1zM115 621h1v2h-1zM116 620h1v1h-1zM117 619h1v1h-1zM118 619h1v1h-1zM119 618h1v1h-1zM120 618h1v1h-1zM121 619h1v1h-1zM122 619h1v1h-1zM123 620h1v1h-1zM124 620h1v1h-1zM125 621h1v2h-1zM126 623h1v1h-1zM127 624h1v2h-1zM128 626h1v1h-1zM129 626h1v1h-1zM130 625h1v1h-1zM131 625h1v1h-1zM132 625h1v1h-1zM133 623h1v2h-1zM134 621h1v2h-1zM135 619h1v2h-1zM136 618h1v1h-1zM137 619h1v1h-1zM138 620h1v1h-1zM139 621h1v1h-1zM140 622h1v1h-1zM141 623h1v1h-1zM142 624h1v2h-1zM143 626h1v1h-1zM144 627h1v1h-1zM145 627h1v1h-1zM146 628h1v1h-1zM147 628h1v1h-1zM148 628h1v1h-1zM149 628h1v1h-1zM150 627h1v1h-1zM151 627h1v1h-1zM152 627h1v1h-1zM153 627h1v1h-1zM154 626h1v1h-1zM155 626h1v1h-1zM156 626h1v2h-1zM157 628h1v2h-1zM158 630h1v2h-1zM159 632h1v2h-1zM160 634h1v2h-1zM161 636h1v1h-1zM162 636h1v1h-1zM163 637h1v1h-1zM164 637h1v1h-1zM165 636h1v1h-1zM166 634h1v2h-1zM167 633h1v1h-1zM168 632h1v1h-1zM169 630h1v2h-1zM170 629h1v1h-1zM171 627h1v2h-1zM172 626h1v1h-1zM173 627h1v1h-1zM174 628h1v1h-1zM175 628h1v1h-1zM176 629h1v1h-1zM177 628h1v1h-1zM178 627h1v1h-1zM179 627h1v1h-1zM180 626h1v1h-1zM181 625h1v1h-1zM182 624h1v1h-1zM183 623h1v1h-1zM184 622h1v1h-1zM185 623h1v1h-1zM186 624h1v1h-1zM187 625h1v1h-1zM188 626h1v1h-1zM189 626h1v1h-1zM190 625h1v1h-1zM191 625h1v1h-1zM192 625h1v1h-1zM193 624h1v1h-1zM194 623h1v1h-1zM195 623h1v1h-1zM196 622h1v1h-1zM197 621h1v1h-1zM198 620h1v1h-1zM199 620h1v1h-1zM200 619h1v1h-1zM201 619h1v1h-1zM202 619h1v1h-1zM203 619h1v1h-1zM204 619h1v1h-1zM205 618h1v1h-1zM206 617h1v1h-1zM207 616h1v1h-1zM208 615h1v1h-1zM209 616h1v1h-1zM210 617h1v2h-1zM211 619h1v1h-1zM212 620h1v1h-1zM213 621h1v1h-1zM214 622h1v1h-1zM215 623h1v1h-1zM216 624h1v1h-1zM217 623h1v1h-1zM218 623h1v1h-1zM219 622h1v1h-1zM220 622h1v1h-1zM221 620h1v2h-1zM222 618h1v2h-1zM223 616h1v2h-1zM224 615h1v1h-1zM225 615h1v1h-1zM226 614h1v1h-1zM227 614h1v1h-1zM228 614h1v1h-1zM229 615h1v1h-1zM230 615h1v1h-1zM231 616h1v1h-1zM232 616h1v1h-1zM233 617h1v1h-1zM234 618h1v2h-1zM235 620h1v1h-1zM236 621h1v1h-1zM237 619h1v2h-1zM238 618h1v1h-1zM239 616h1v2h-1zM240 615h1v1h-1zM241 616h1v1h-1zM242 617h1v1h-1zM243 618h1v1h-1zM244 619h1v1h-1zM245 620h1v2h-1zM246 622h1v1h-1zM247 623h1v2h-1zM248 625h1v1h-1zM249 624h1v1h-1zM250 624h1v1h-1zM251 623h1v1h-1zM252 623h1v1h-1zM253 621h1v2h-1zM254 620h1v1h-1zM255 618h1v2h-1zM256 617h1v1h-1zM257 618h1v1h-1zM258 619h1v1h-1zM259 619h1v1h-1zM260 620h1v1h-1zM261 620h1v1h-1zM262 620h1v1h-1zM263 620h1v1h-1zM264 620h1v1h-1zM265 619h1v1h-1zM266 618h1v1h-1zM267 618h1v1h-1zM268 617h1v1h-1zM269 618h1v1h-1zM270 619h1v1h-1zM271 619h1v1h-1zM272 620h1v1h-1zM273 620h1v1h-1zM274 620h1v1h-1zM275 620h1v1h-1zM276 620h1v1h-1zM277 621h1v1h-1zM278 622h1v1h-1zM279 623h1v1h-1zM280 624h1v1h-1zM281 625h1v1h-1zM282 626h1v1h-1zM283 626h1v1h-1zM284 627h1v1h-1zM285 626h1v1h-1zM286 626h1v1h-1zM287 625h1v1h-1zM288 625h1v1h-1zM289 626h1v1h-1zM290 626h1v1h-1zM291 627h1v1h-1zM292 627h1v1h-1zM293 627h1v1h-1zM294 626h1v1h-1zM295 626h1v1h-1zM296 626h1v1h-1zM297 626h1v1h-1zM298 626h1v1h-1zM299 626h1v1h-1zM300 626h1v1h-1zM301 627h1v1h-1zM302 628h1v1h-1zM303 628h1v1h-1zM304 629h1v1h-1zM305 627h1v2h-1zM306 626h1v1h-1zM307 624h1v2h-1zM308 623h1v1h-1zM309 621h1v2h-1zM310 620h1v1h-1zM311 618h1v2h-1zM312 617h1v1h-1zM313 616h1v1h-1zM314 614h1v2h-1zM315 613h1v1h-1zM316 612h1v1h-1zM317 613h1v1h-1zM318 614h1v1h-1zM319 614h1v1h-1zM320 615h1v1h-1zM321 615h1v1h-1zM322 614h1v1h-1zM323 614h1v1h-1zM324 614h1v1h-1zM325 613h1v1h-1zM326 612h1v1h-1zM327 612h1v1h-1zM328 611h1v1h-1zM329 612h1v1h-1zM330 613h1v1h-1zM331 613h1v1h-1zM332 614h1v1h-1zM333 615h1v1h-1zM334 615h1v1h-1zM335 616h1v1h-1zM336 616h1v1h-1zM337 615h1v1h-1zM338 615h1v1h-1zM339 614h1v1h-1zM340 614h1v1h-1zM341 613h1v1h-1zM342 612h1v1h-1zM343 612h1v1h-1zM344 611h1v1h-1zM345 610h1v1h-1zM346 610h1v1h-1zM347 609h1v1h-1zM348 609h1v1h-1zM349 610h1v1h-1zM350 611h1v2h-1zM351 613h1v1h-1zM352 614h1v1h-1zM353 613h1v1h-1zM354 613h1v1h-1zM355 612h1v1h-1zM356 612h1v1h-1zM357 612h1v1h-1zM358 613h1v1h-1zM359 613h1v1h-1zM360 614h1v1h-1zM361 614h1v1h-1zM362 614h1v1h-1zM363 613h1v1h-1zM364 612h1v2h-1zM365 610h1v2h-1zM366 608h1v2h-1zM367 606h1v2h-1zM368 604h1v2h-1zM369 604h1v1h-1zM370 605h1v1h-1zM371 605h1v1h-1zM372 605h1v1h-1zM373 604h1v1h-1zM374 602h1v2h-1zM375 601h1v1h-1zM376 600h1v1h-1zM377 601h1v2h-1zM378 603h1v1h-1zM379 604h1v2h-1zM380 606h1v1h-1zM381 607h1v1h-1zM382 608h1v1h-1zM383 608h1v1h-1zM384 609h1v1h-1zM385 610h1v2h-1zM386 612h1v1h-1zM387 613h1v2h-1zM388 615h1v1h-1zM389 614h1v1h-1zM390 613h1v1h-1zM391 613h1v1h-1zM392 612h1v1h-1zM393 612h1v1h-1zM394 613h1v1h-1zM395 613h1v1h-1zM396 613h1v1h-1zM397 613h1v1h-1zM398 612h1v1h-1zM399 612h1v1h-1zM400 612h1v1h-1zM401 612h1v1h-1zM402 612h1v1h-1zM403 612h1v1h-1zM404 612h1v1h-1zM405 612h1v1h-1zM406 611h1v1h-1zM407 611h1v1h-1zM408 611h1v1h-1zM409 611h1v1h-1zM410 612h1v1h-1zM411 612h1v1h-1zM412 612h1v1h-1zM413 611h1v1h-1zM414 611h1v1h-1zM415 610h1v1h-1zM416 610h1v1h-1zM417 611h1v1h-1zM418 611h1v1h-1zM419 612h1v1h-1zM420 612h1v1h-1zM421 612h1v1h-1zM422 613h1v1h-1zM423 613h1v1h-1zM424 613h1v1h-1zM425 612h1v1h-1zM426 611h1v1h-1zM427 611h1v1h-1zM428 610h1v1h-1zM429 609h1v1h-1zM430 608h1v1h-1zM431 608h1v1h-1zM432 607h1v1h-1zM433 606h1v1h-1zM434 604h1v2h-1zM435 603h1v1h-1zM436 602h1v1h-1zM437 603h1v1h-1zM438 604h1v1h-1zM439 604h1v1h-1zM440 605h1v1h-1zM441 605h1v1h-1zM442 605h1v1h-1zM443 605h1v1h-1zM444 605h1v1h-1zM445 603h1v2h-1zM446 602h1v1h-1zM447 600h1v2h-1zM448 599h1v1h-1zM449 599h1v1h-1zM450 599h1v1h-1zM451 599h1v1h-1zM452 599h1v1h-1zM453 600h1v1h-1zM454 601h1v1h-1zM455 602h1v1h-1zM456 603h1v1h-1zM457 602h1v1h-1zM458 602h1v1h-1zM459 601h1v1h-1zM460 601h1v1h-1zM461 601h1v1h-1zM462 602h1v1h-1zM463 602h1v1h-1zM464 602h1v1h-1zM465 602h1v1h-1zM466 602h1v1h-1zM467 602h1v1h-1zM468 602h1v1h-1zM469 603h1v2h-1zM470 605h1v1h-1zM471 606h1v2h-1zM472 608h1v1h-1zM473 609h1v2h-1zM474 611h1v1h-1zM475 612h1v2h-1zM476 614h1v1h-1zM477 613h1v1h-1zM478 613h1v1h-1zM479 612h1v1h-1zM480 612h1v1h-1zM481 611h1v1h-1zM482 610h1v1h-1zM483 609h1v1h-1zM484 608h1v1h-1zM485 608h1v1h-1zM486 609h1v1h-1zM487 609h1v1h-1zM488 609h1v1h-1zM489 609h1v1h-1zM490 609h1v1h-1zM491 609h1v1h-1zM492 609h1v1h-1zM493 610h1v1h-1zM494 611h1v1h-1zM495 611h1v1h-1zM496 612h1v1h-1zM497 613h1v1h-1zM498 613h1v1h-1zM499 614h1v1h-1zM500 614h1v1h-1zM501 615h1v2h-1zM502 617h1v1h-1zM503 618h1v2h-1zM504 620h1v1h-1zM505 620h1v1h-1zM506 620h1v1h-1zM507 620h1v1h-1zM508 620h1v1h-1zM509 620h1v1h-1zM510 621h1v1h-1zM511 621h1v1h-1zM512 621h1v1h-1zM513 621h1v1h-1zM514 620h1v1h-1zM515 620h1v1h-1zM516 620h1v1h-1zM517 621h1v1h-1zM518 622h1v2h-1zM519 624h1v1h-1zM520 625h1v1h-1zM521 626h1v1h-1zM522 626h1v1h-1zM523 627h1v1h-1zM524 627h1v1h-1zM525 628h1v1h-1zM526 628h1v1h-1zM527 629h1v1h-1zM528 629h1v1h-1zM529 629h1v1h-1zM530 630h1v1h-1zM531 630h1v1h-1zM532 630h1v1h-1zM533 630h1v1h-1zM534 630h1v1h-1zM535 630h1v1h-1zM536 630h1v1h-1zM537 630h1v1h-1zM538 630h1v1h-1zM539 630h1v1h-1zM540 630h1v1h-1zM541 631h1v1h-1zM542 632h1v1h-1zM543 633h1v1h-1zM544 634h1v1h-1zM545 633h1v1h-1zM546 633h1v1h-1zM547 632h1v1h-1zM548 632h1v1h-1zM549 632h1v1h-1zM550 633h1v1h-1zM551 633h1v1h-1zM552 633h1v1h-1zM553 634h1v1h-1zM554 634h1v1h-1zM555 635h1v1h-1zM556 635h1v1h-1zM557 634h1v1h-1zM558 634h1v1h-1zM559 633h1v1h-1zM560 633h1v1h-1zM561 632h1v1h-1zM562 632h1v1h-1zM563 631h1v1h-1zM564 631h1v1h-1zM565 631h1v1h-1zM566 631h1v1h-1zM567 631h1v1h-1zM568 631h1v1h-1zM569 629h1v2h-1zM570 627h1v2h-1zM571 625h1v2h-1zM572 623h1v2h-1zM573 623h1v1h-1zM574 623h1v1h-1zM575 623h1v1h-1zM576 623h1v1h-1zM577 623h1v1h-1zM578 624h1v2h-1zM579 626h1v2h-1zM580 628h1v2h-1zM581 630h1v2h-1zM582 632h1v2h-1zM583 634h1v2h-1zM584 636h1v2h-1zM585 638h1v2h-1zM586 639h1v1h-1zM587 639h1v1h-1zM588 639h1v1h-1zM589 639h1v1h-1zM590 639h1v1h-1zM591 640h1v1h-1zM592 639h1v2h-1zM593 636h1v3h-1zM594 634h1v2h-1zM595 631h1v3h-1zM596 629h1v2h-1zM597 627h1v2h-1zM598 625h1v2h-1zM599 623h1v2h-1zM600 621h1v2h-1zM601 622h1v1h-1zM602 622h1v1h-1zM603 623h1v1h-1zM604 623h1v1h-1zM605 624h1v1h-1zM606 624h1v1h-1zM607 625h1v1h-1zM608 625h1v1h-1zM609 625h1v1h-1zM610 625h1v1h-1zM611 625h1v1h-1zM612 625h1v1h-1zM613 624h1v1h-1zM614 624h1v1h-1zM615 623h1v1h-1zM616 623h1v1h-1zM617 624h1v1h-1zM618 625h1v2h-1zM619 627h1v1h-1zM620 628h1v1h-1zM621 627h1v1h-1zM622 627h1v1h-1zM623 626h1v1h-1zM624 626h1v1h-1zM625 626h1v1h-1zM626 625h1v1h-1zM627 625h1v1h-1zM628 625h1v1h-1zM629 624h1v1h-1zM630 623h1v1h-1zM631 623h1v1h-1zM632 622h1v1h-1zM633 622h1v1h-1zM634 623h1v1h-1zM635 623h1v1h-1zM636 623h1v1h-1zM637 624h1v1h-1zM638 625h1v2h-1zM639 627h1v1h-1zM640 628h1v1h-1zM641 629h1v1h-1zM642 629h1v1h-1zM643 630h1v1h-1zM644 630h1v1h-1zM645 631h1v1h-1zM646 632h1v1h-1zM647 632h1v1h-1zM648 633h1v1h-1zM649 634h1v1h-1zM650 635h1v1h-1zM651 635h1v1h-1zM652 636h1v1h-1zM653 636h1v1h-1zM654 637h1v1h-1zM655 637h1v1h-1zM656 637h1v1h-1zM657 637h1v1h-1zM658 638h1v1h-1zM659 638h1v1h-1zM660 638h1v1h-1zM661 637h1v1h-1zM662 636h1v1h-1zM663 635h1v1h-1zM664 634h1v1h-1zM665 633h1v1h-1zM666 631h1v2h-1zM667 630h1v1h-1zM668 629h1v1h-1zM669 629h1v1h-1zM670 630h1v1h-1zM671 630h1v1h-1zM672 630h1v1h-1zM673 628h1v2h-1zM674 626h1v2h-1zM675 624h1v2h-1zM676 622h1v2h-1zM677 623h1v1h-1zM678 623h1v1h-1zM679 624h1v1h-1zM680 624h1v1h-1zM681 624h1v1h-1zM682 624h1v1h-1zM683 624h1v1h-1zM684 624h1v1h-1zM685 624h1v1h-1zM686 624h1v1h-1zM687 624h1v1h-1zM688 624h1v1h-1zM689 623h1v1h-1zM690 622h1v1h-1zM691 621h1v1h-1zM692 620h1v1h-1zM693 621h1v1h-1zM694 622h1v1h-1zM695 623h1v1h-1zM696 624h1v1h-1zM697 624h1v1h-1zM698 623h1v1h-1zM699 623h1v1h-1zM700 623h1v1h-1zM701 622h1v1h-1zM702 621h1v1h-1zM703 620h1v1h-1zM704 619h1v1h-1zM705 620h1v1h-1zM706 620h1v1h-1zM707 621h1v1h-1zM708 621h1v1h-1zM709 620h1v1h-1zM710 618h1v2h-1zM711 617h1v1h-1zM712 616h1v1h-1zM713 616h1v1h-1zM714 615h1v1h-1zM715 615h1v1h-1zM716 615h1v1h-1zM717 616h1v1h-1zM718 617h1v2h-1zM719 619h1v1h-1zM720 619h1v2h-1zM721 615h1v4h-1zM722 611h1v4h-1zM723 607h1v4h-1zM724 604h1v3h-1zM725 604h1v1h-1zM726 604h1v1h-1zM727 604h1v1h-1zM728 604h1v1h-1zM729 604h1v1h-1zM730 604h1v1h-1zM731 604h1v1h-1zM732 604h1v1h-1zM733 603h1v1h-1zM734 602h1v1h-1zM735 602h1v1h-1zM736 601h1v1h-1zM737 600h1v1h-1zM738 600h1v1h-1zM739 599h1v1h-1zM740 599h1v1h-1zM741 600h1v1h-1zM742 601h1v1h-1zM743 602h1v1h-1zM744 603h1v1h-1zM745 603h1v1h-1zM746 603h1v1h-1zM747 603h1v1h-1zM748 603h1v1h-1zM749 604h1v1h-1zM750 605h1v2h-1zM751 607h1v1h-1zM752 608h1v1h-1zM753 608h1v1h-1zM754 608h1v1h-1zM755 608h1v1h-1zM756 608h1v1h-1zM757 608h1v1h-1zM758 609h1v1h-1zM759 609h1v1h-1zM760 609h1v1h-1zM761 608h1v1h-1zM762 608h1v1h-1zM763 607h1v1h-1zM764 607h1v1h-1zM765 607h1v1h-1zM766 607h1v1h-1zM767 607h1v1h-1zM768 607h1v1h-1zM769 606h1v1h-1zM770 606h1v1h-1zM771 605h1v1h-1zM772 605h1v1h-1zM773 605h1v1h-1zM774 604h1v1h-1zM775 604h1v1h-1zM776 604h1v1h-1zM777 605h1v1h-1zM778 605h1v1h-1zM779 606h1v1h-1zM780 606h1v1h-1zM781 607h1v1h-1zM782 608h1v1h-1zM783 609h1v1h-1zM784 610h1v1h-1zM785 609h1v1h-1zM786 607h1v2h-1zM787 606h1v1h-1zM788 605h1v1h-1zM789 606h1v1h-1zM790 607h1v1h-1zM791 607h1v1h-1zM792 608h1v1h-1zM793 607h1v1h-1zM794 605h1v2h-1zM795 604h1v1h-1zM796 603h1v1h-1zM797 604h1v1h-1zM798 605h1v1h-1zM799 606h1v1h-1zM800 607h1v1h-1zM801 607h1v1h-1zM802 608h1v1h-1zM803 608h1v1h-1zM804 608h1v1h-1zM805 609h1v1h-1zM806 609h1v1h-1zM807 610h1v1h-1zM808 610h1v1h-1zM809 611h1v1h-1zM810 612h1v1h-1zM811 613h1v1h-1zM812 614h1v1h-1zM813 614h1v1h-1zM814 615h1v1h-1zM815 615h1v1h-1zM816 615h1v1h-1zM817 615h1v1h-1zM818 616h1v1h-1zM819 616h1v1h-1zM820 616h1v1h-1zM821 614h1v2h-1zM822 612h1v2h-1zM823 610h1v2h-1zM824 609h1v1h-1zM825 610h1v1h-1zM826 611h1v1h-1zM827 611h1v1h-1zM828 612h1v1h-1zM829 611h1v1h-1zM830 610h1v1h-1zM831 609h1v1h-1zM832 608h1v1h-1zM833 608h1v1h-1zM834 609h1v1h-1zM835 609h1v1h-1zM836 609h1v1h-1zM837 610h1v2h-1zM838 612h1v2h-1zM839 614h1v2h-1zM840 616h1v2h-1zM841 616h1v1h-1zM842 615h1v1h-1zM843 614h1v1h-1zM844 613h1v1h-1zM845 612h1v1h-1zM846 612h1v1h-1zM847 611h1v1h-1zM848 611h1v1h-1zM849 612h1v1h-1zM850 613h1v1h-1zM851 613h1v1h-1zM852 614h1v1h-1zM853 613h1v1h-1zM854 613h1v1h-1zM855 612h1v1h-1zM856 611h1v2h-1zM857 609h1v2h-1zM858 606h1v3h-1zM859 604h1v2h-1zM860 602h1v2h-1zM861 603h1v2h-1zM862 605h1v2h-1zM863 607h1v2h-1zM864 609h1v3h-1zM865 612h1v2h-1zM866 614h1v3h-1zM867 617h1v2h-1zM868 619h1v2h-1zM869 619h1v1h-1zM870 619h1v1h-1zM871 618h1v1h-1zM872 618h1v1h-1zM873 618h1v1h-1zM874 618h1v1h-1zM875 618h1v1h-1zM876 618h1v1h-1zM877 618h1v1h-1zM878 618h1v1h-1zM879 618h1v1h-1zM880 618h1v1h-1zM881 618h1v1h-1zM882 618h1v1h-1zM883 618h1v1h-1zM884 618h1v1h-1zM885 618h1v1h-1zM886 618h1v1h-1zM887 619h1v1h-1zM888 619h1v1h-1zM889 619h1v1h-1zM890 620h1v1h-1zM891 620h1v1h-1zM892 620h1v1h-1zM893 618h1v2h-1zM894 616h1v2h-1zM895 614h1v2h-1zM896 613h1v1h-1zM897 613h1v1h-1zM898 614h1v1h-1zM899 614h1v1h-1zM900 614h1v1h-1zM901 613h1v1h-1zM902 613h1v1h-1zM903 612h1v1h-1zM904 612h1v1h-1zM905 612h1v1h-1zM906 612h1v1h-1zM907 612h1v1h-1zM908 612h1v1h-1zM909 613h1v1h-1zM910 614h1v1h-1zM911 614h1v1h-1zM912 615h1v1h-1zM913 615h1v1h-1zM914 615h1v1h-1zM915 615h1v1h-1zM916 615h1v1h-1zM917 615h1v1h-1zM918 615h1v1h-1zM919 615h1v1h-1zM920 615h1v1h-1zM921 615h1v1h-1zM922 615h1v1h-1zM923 616h1v1h-1zM924 616h1v1h-1z" fill="#1e90ff"/>
</g>
<g shape-rendering="crispEdges">
<rect x="1167" y="52" width="2" height="1" fill="#000"/>
<rect x="1167" y="85" width="2" height="1" fill="#000"/>
<rect x="1167" y="118" width="2" height="1" fill="#000"/>
<rect x="1167" y="151" width="2" height="1" fill="#000"/>
<rect x="1167" y="184" width="2" height="1" fill="#000"/>
<rect x="1167" y="217" width="2" height="1" fill="#000"/>
<rect x="1167" y="250" width="2" height="1" fill="#000"/>
<rect x="1167" y="283" width="2" height="1" fill="#000"/>
<rect x="1167" y="316" width="2" height="1" fill="#000"/>
<rect x="1167" y="349" width="2" height="1" fill="#000"/>
<rect x="1167" y="382" width="2" height="1" fill="#000"/>
<rect x="1167" y="415" width="2" height="1" fill="#000"/>
<rect x="1167" y="448" width="2" height="1" fill="#000"/>
<rect x="1167" y="481" width="2" height="1" fill="#000"/>
<rect x="1167" y="488" width="1" height="1" fill="#000"/>
<rect x="1167" y="519" width="2" height="1" fill="#000"/>
<rect x="1167" y="569" width="1" height="1" fill="#000"/>
<rect x="1167" y="574" width="1" height="1" fill="#000"/>
<rect x="1167" y="599" width="2" height="1" fill="#000"/>
<rect x="1167" y="633" width="2" height="1" fill="#000"/>
<rect x="1167" y="658" width="1" height="1" fill="#000"/>
<rect x="4" y="660" width="1" height="3" fill="#000"/>
<rect x="68" y="660" width="1" height="3" fill="#000"/>
<rect x="132" y="660" width="1" height="3" fill="#000"/>
<rect x="196" y="660" width="1" height="3" fill="#000"/>
<rect x="260" y="660" width="1" height="3" fill="#000"/>
<rect x="324" y="660" width="1" height="3" fill="#000"/>
<rect x="388" y="660" width="1" height="3" fill="#000"/>
<rect x="452" y="660" width="1" height="3" fill="#000"/>
<rect x="516" y="660" width="1" height="3" fill="#000"/>
<rect x="580" y="660" width="1" height="3" fill="#000"/>
<rect x="644" y="660" width="1" height="3" fill="#000"/>
<rect x="708" y="660" width="1" height="3" fill="#000"/>
<rect x="772" y="660" width="1" height="3" fill="#000"/>
<rect x="836" y="660" width="1" height="3" fill="#000"/>
<rect x="900" y="660" width="1" height="3" fill="#000"/>
</g>
<text x="1172" y="56" font-size="9.8" fill="#000" textLength="33" lengthAdjust="spacingAndGlyphs" text-rendering="geometricPrecision" stroke="#000" stroke-width="0.12">6.59335</text>
<text x="1172" y="89" font-size="9.8" fill="#000" textLength="33" lengthAdjust="spacingAndGlyphs" text-rendering="geometricPrecision" stroke="#000" stroke-width="0.12">6.57410</text>
<text x="1172" y="122" font-size="9.8" fill="#000" textLength="33" lengthAdjust="spacingAndGlyphs" text-rendering="geometricPrecision" stroke="#000" stroke-width="0.12">6.55540</text>
<text x="1172" y="155" font-size="9.8" fill="#000" textLength="33" lengthAdjust="spacingAndGlyphs" text-rendering="geometricPrecision" stroke="#000" stroke-width="0.12">6.53615</text>
<text x="1172" y="188" font-size="9.8" fill="#000" textLength="33" lengthAdjust="spacingAndGlyphs" text-rendering="geometricPrecision" stroke="#000" stroke-width="0.12">6.51690</text>
<text x="1172" y="221" font-size="9.8" fill="#000" textLength="33" lengthAdjust="spacingAndGlyphs" text-rendering="geometricPrecision" stroke="#000" stroke-width="0.12">6.49820</text>
<text x="1172" y="254" font-size="9.8" fill="#000" textLength="33" lengthAdjust="spacingAndGlyphs" text-rendering="geometricPrecision" stroke="#000" stroke-width="0.12">6.47950</text>
<text x="1172" y="287" font-size="9.8" fill="#000" textLength="33" lengthAdjust="spacingAndGlyphs" text-rendering="geometricPrecision" stroke="#000" stroke-width="0.12">6.46025</text>
<text x="1172" y="320" font-size="9.8" fill="#000" textLength="33" lengthAdjust="spacingAndGlyphs" text-rendering="geometricPrecision" stroke="#000" stroke-width="0.12">6.44155</text>
<text x="1172" y="353" font-size="9.8" fill="#000" textLength="33" lengthAdjust="spacingAndGlyphs" text-rendering="geometricPrecision" stroke="#000" stroke-width="0.12">6.42230</text>
<text x="1172" y="386" font-size="9.8" fill="#000" textLength="33" lengthAdjust="spacingAndGlyphs" text-rendering="geometricPrecision" stroke="#000" stroke-width="0.12">6.40360</text>
<text x="1172" y="419" font-size="9.8" fill="#000" textLength="33" lengthAdjust="spacingAndGlyphs" text-rendering="geometricPrecision" stroke="#000" stroke-width="0.12">6.38490</text>
<text x="1172" y="452" font-size="9.8" fill="#000" textLength="33" lengthAdjust="spacingAndGlyphs" text-rendering="geometricPrecision" stroke="#000" stroke-width="0.12">6.36565</text>
<text x="1172" y="485" font-size="9.8" fill="#000" textLength="33" lengthAdjust="spacingAndGlyphs" text-rendering="geometricPrecision" stroke="#000" stroke-width="0.12">6.34695</text>
<text x="1170" y="497" font-size="9.8" fill="#000" textLength="37.8" lengthAdjust="spacingAndGlyphs" text-rendering="geometricPrecision" stroke="#000" stroke-width="0.12">0.025609</text>
<text x="1170" y="523" font-size="9.8" fill="#000" textLength="18" lengthAdjust="spacingAndGlyphs" text-rendering="geometricPrecision" stroke="#000" stroke-width="0.12">0.00</text>
<text x="1169.8" y="567" font-size="9.8" fill="#000" textLength="42" lengthAdjust="spacingAndGlyphs" text-rendering="geometricPrecision" stroke="#000" stroke-width="0.12">-0.040386</text>
<text x="1170.6" y="583" font-size="9.8" fill="#000" textLength="14" lengthAdjust="spacingAndGlyphs" text-rendering="geometricPrecision" stroke="#000" stroke-width="0.12">100</text>
<text x="1170.6" y="602.5" font-size="9.8" fill="#000" textLength="9.5" lengthAdjust="spacingAndGlyphs" text-rendering="geometricPrecision" stroke="#000" stroke-width="0.12">70</text>
<text x="1170.6" y="636.5" font-size="9.8" fill="#000" textLength="9.5" lengthAdjust="spacingAndGlyphs" text-rendering="geometricPrecision" stroke="#000" stroke-width="0.12">30</text>
<text x="1170.6" y="656" font-size="9.8" fill="#000" textLength="4.6" lengthAdjust="spacingAndGlyphs" text-rendering="geometricPrecision" stroke="#000" stroke-width="0.12">0</text>
<rect x="1168" y="60" width="41" height="11" fill="#ff0000" shape-rendering="crispEdges"/>
<text x="1172" y="69" font-size="9.8" fill="#fff" textLength="33" lengthAdjust="spacingAndGlyphs" text-rendering="geometricPrecision" stroke="#fff" stroke-width="0.12">6.58514</text>
<rect x="1168" y="180" width="41" height="11" fill="#ff0000" shape-rendering="crispEdges"/>
<text x="1172" y="189" font-size="9.8" fill="#fff" textLength="33" lengthAdjust="spacingAndGlyphs" text-rendering="geometricPrecision" stroke="#fff" stroke-width="0.12">6.51605</text>
<rect x="1168" y="253" width="41" height="11" fill="#000" shape-rendering="crispEdges"/>
<text x="1172" y="262" font-size="9.8" fill="#fff" textLength="33" lengthAdjust="spacingAndGlyphs" text-rendering="geometricPrecision" stroke="#fff" stroke-width="0.12">6.47460</text>
<rect x="1168" y="294" width="41" height="11" fill="#00ff00" shape-rendering="crispEdges"/>
<text x="1172" y="303" font-size="9.8" fill="#fff" textLength="33" lengthAdjust="spacingAndGlyphs" text-rendering="geometricPrecision" stroke="#fff" stroke-width="0.12">6.45060</text>
<rect x="1168" y="382" width="41" height="11" fill="#0000ff" shape-rendering="crispEdges"/>
<text x="1172" y="391" font-size="9.8" fill="#fff" textLength="33" lengthAdjust="spacingAndGlyphs" text-rendering="geometricPrecision" stroke="#fff" stroke-width="0.12">6.40042</text>
<rect x="1168" y="469" width="41" height="11" fill="#0000ff" shape-rendering="crispEdges"/>
<text x="1172" y="478" font-size="9.8" fill="#fff" textLength="33" lengthAdjust="spacingAndGlyphs" text-rendering="geometricPrecision" stroke="#fff" stroke-width="0.12">6.35025</text>
<path d="M10 31h1v1h1v1h1v1h1v1h-7v-1h1v-1h1v-1h1z" fill="#000" shape-rendering="crispEdges"/>
<text x="19.5" y="36" font-size="9.8" fill="#000" textLength="64.8" lengthAdjust="spacingAndGlyphs" text-rendering="geometricPrecision" stroke="#000" stroke-width="0.12">USDCNH,Daily</text>
<text x="90.9" y="36" font-size="9.8" fill="#000" textLength="32.6" lengthAdjust="spacingAndGlyphs" text-rendering="geometricPrecision" stroke="#000" stroke-width="0.12">6.47710</text>
<text x="126.95" y="36" font-size="9.8" fill="#000" textLength="32.6" lengthAdjust="spacingAndGlyphs" text-rendering="geometricPrecision" stroke="#000" stroke-width="0.12">6.47799</text>
<text x="163.0" y="36" font-size="9.8" fill="#000" textLength="32.6" lengthAdjust="spacingAndGlyphs" text-rendering="geometricPrecision" stroke="#000" stroke-width="0.12">6.47441</text>
<text x="199.05" y="36" font-size="9.8" fill="#000" textLength="32.6" lengthAdjust="spacingAndGlyphs" text-rendering="geometricPrecision" stroke="#000" stroke-width="0.12">6.47460</text>
<text x="9" y="499" font-size="9.8" fill="#000" textLength="64.4" lengthAdjust="spacingAndGlyphs" text-rendering="geometricPrecision" stroke="#000" stroke-width="0.12">MACD(12,26,9)</text>
<text x="77.7" y="499" font-size="9.8" fill="#000" textLength="36.8" lengthAdjust="spacingAndGlyphs" text-rendering="geometricPrecision" stroke="#000" stroke-width="0.12">0.001844</text>
<text x="118.2" y="499" font-size="9.8" fill="#000" textLength="36.8" lengthAdjust="spacingAndGlyphs" text-rendering="geometricPrecision" stroke="#000" stroke-width="0.12">0.001391</text>
<text x="8" y="585" font-size="9.8" fill="#000" textLength="31.7" lengthAdjust="spacingAndGlyphs" text-rendering="geometricPrecision" stroke="#000" stroke-width="0.12">RSI(14)</text>
<text x="43.7" y="585" font-size="9.8" fill="#000" textLength="31.7" lengthAdjust="spacingAndGlyphs" text-rendering="geometricPrecision" stroke="#000" stroke-width="0.12">50.4371</text>
<text x="3.7" y="672" font-size="9.8" fill="#000" textLength="53" lengthAdjust="spacingAndGlyphs" text-rendering="geometricPrecision" stroke="#000" stroke-width="0.12">18 Nov 2020</text>
<text x="67.7" y="672" font-size="9.8" fill="#000" textLength="45.5" lengthAdjust="spacingAndGlyphs" text-rendering="geometricPrecision" stroke="#000" stroke-width="0.12">7 Dec 2020</text>
<text x="131.7" y="672" font-size="9.8" fill="#000" textLength="50.3" lengthAdjust="spacingAndGlyphs" text-rendering="geometricPrecision" stroke="#000" stroke-width="0.12">25 Dec 2020</text>
<text x="195.7" y="672" font-size="9.8" fill="#000" textLength="48.3" lengthAdjust="spacingAndGlyphs" text-rendering="geometricPrecision" stroke="#000" stroke-width="0.12">14 Jan 2021</text>
<text x="259.7" y="672" font-size="9.8" fill="#000" textLength="45.3" lengthAdjust="spacingAndGlyphs" text-rendering="geometricPrecision" stroke="#000" stroke-width="0.12">2 Feb 2021</text>
<text x="323.7" y="672" font-size="9.8" fill="#000" textLength="50.3" lengthAdjust="spacingAndGlyphs" text-rendering="geometricPrecision" stroke="#000" stroke-width="0.12">20 Feb 2021</text>
<text x="387.7" y="672" font-size="9.8" fill="#000" textLength="50.7" lengthAdjust="spacingAndGlyphs" text-rendering="geometricPrecision" stroke="#000" stroke-width="0.12">11 Mar 2021</text>
<text x="451.7" y="672" font-size="9.8" fill="#000" textLength="51" lengthAdjust="spacingAndGlyphs" text-rendering="geometricPrecision" stroke="#000" stroke-width="0.12">30 Mar 2021</text>
<text x="515.7" y="672" font-size="9.8" fill="#000" textLength="49" lengthAdjust="spacingAndGlyphs" text-rendering="geometricPrecision" stroke="#000" stroke-width="0.12">17 Apr 2021</text>
<text x="579.7" y="672" font-size="9.8" fill="#000" textLength="48.6" lengthAdjust="spacingAndGlyphs" text-rendering="geometricPrecision" stroke="#000" stroke-width="0.12">6 May 2021</text>
<text x="643.7" y="672" font-size="9.8" fill="#000" textLength="53.8" lengthAdjust="spacingAndGlyphs" text-rendering="geometricPrecision" stroke="#000" stroke-width="0.12">25 May 2021</text>
<text x="707.7" y="672" font-size="9.8" fill="#000" textLength="47.9" lengthAdjust="spacingAndGlyphs" text-rendering="geometricPrecision" stroke="#000" stroke-width="0.12">12 Jun 2021</text>
<text x="771.7" y="672" font-size="9.8" fill="#000" textLength="39.8" lengthAdjust="spacingAndGlyphs" text-rendering="geometricPrecision" stroke="#000" stroke-width="0.12">1 Jul 2021</text>
<text x="835.7" y="672" font-size="9.8" fill="#000" textLength="46.2" lengthAdjust="spacingAndGlyphs" text-rendering="geometricPrecision" stroke="#000" stroke-width="0.12">20 Jul 2021</text>
<text x="899.7" y="672" font-size="9.8" fill="#000" textLength="47.3" lengthAdjust="spacingAndGlyphs" text-rendering="geometricPrecision" stroke="#000" stroke-width="0.12">7 Aug 2021</text>
<defs>
<linearGradient id="gt" x1="0" y1="0" x2="0" y2="1"><stop offset="0" stop-color="#fa5252"/><stop offset="1" stop-color="#de3030"/></linearGradient>
<linearGradient id="gp" x1="0" y1="0" x2="0" y2="1"><stop offset="0" stop-color="#d82a2a"/><stop offset="1" stop-color="#ad0202"/></linearGradient>
<linearGradient id="gs" x1="0" y1="0" x2="0" y2="1"><stop offset="0" stop-color="#e4e4e4"/><stop offset="0.45" stop-color="#dcdcdc"/><stop offset="0.5" stop-color="#cfcfcf"/><stop offset="1" stop-color="#d4d4d4"/></linearGradient>
</defs>
<g shape-rendering="crispEdges">
<rect x="5" y="42" width="223" height="61" fill="#fff"/>
<rect x="7" y="44" width="52" height="24" fill="url(#gt)"/>
<rect x="174" y="44" width="52" height="24" fill="url(#gt)"/>
<rect x="7" y="68" width="109" height="33" fill="url(#gp)"/>
<rect x="118" y="68" width="108" height="33" fill="url(#gp)"/>
<rect x="7" y="44" width="52" height="1" fill="#c81e1e"/>
<rect x="174" y="44" width="52" height="1" fill="#c81e1e"/>
<rect x="7" y="44" width="1" height="57" fill="#c01414"/>
<rect x="225" y="44" width="1" height="57" fill="#c01414"/>
<rect x="7" y="100" width="109" height="1" fill="#a00000"/>
<rect x="118" y="100" width="108" height="1" fill="#a00000"/>
<rect x="11" y="67" width="44" height="1" fill="#f0a0a0"/>
<rect x="178" y="67" width="44" height="1" fill="#f0a0a0"/>
<rect x="61" y="44" width="111" height="22" fill="#a8a8a8"/>
<rect x="62" y="45" width="109" height="20" fill="#fff"/>
<rect x="62" y="45" width="20" height="20" fill="url(#gs)"/>
<rect x="82" y="45" width="1" height="20" fill="#b8b8b8"/>
<rect x="151" y="45" width="20" height="20" fill="url(#gs)"/>
<rect x="150" y="45" width="1" height="20" fill="#b8b8b8"/>
<path d="M69 53h5v1h-1v1h-1v1h-1v-1h-1v-1h-1z" fill="#4a5ab4"/><path d="M158 56h5v-1h-1v-1h-1v-1h-1v1h-1v1h-1z" fill="#4a5ab4"/>
</g>
<text x="19.3" y="60" font-size="12" fill="#fff" textLength="25.3" lengthAdjust="spacingAndGlyphs" text-rendering="geometricPrecision">SELL</text>
<text x="188" y="60" font-size="12" fill="#fff" textLength="22.3" lengthAdjust="spacingAndGlyphs" text-rendering="geometricPrecision">BUY</text>
<text x="123.4" y="59" font-size="11.8" fill="#101030" textLength="22.8" lengthAdjust="spacingAndGlyphs" text-rendering="geometricPrecision">3.00</text>
<text x="27" y="95.6" font-size="11.8" fill="#fff" textLength="23.6" lengthAdjust="spacingAndGlyphs" text-rendering="geometricPrecision" font-weight="bold">6.47</text>
<text x="137" y="95.6" font-size="11.8" fill="#fff" textLength="23.6" lengthAdjust="spacingAndGlyphs" text-rendering="geometricPrecision" font-weight="bold">6.47</text>
<text x="54" y="96" font-size="34.2" fill="#fff" textLength="34.3" lengthAdjust="spacingAndGlyphs" text-rendering="geometricPrecision">46</text>
<text x="166.5" y="96" font-size="34.2" fill="#fff" textLength="33.3" lengthAdjust="spacingAndGlyphs" text-rendering="geometricPrecision">66</text>
<text x="94.2" y="79.8" font-size="11.3" fill="#fff" textLength="6.5" lengthAdjust="spacingAndGlyphs" text-rendering="geometricPrecision" font-weight="bold">3</text>
<text x="204.7" y="79.8" font-size="11.3" fill="#fff" textLength="7" lengthAdjust="spacingAndGlyphs" text-rendering="geometricPrecision" font-weight="bold">6</text>
<g shape-rendering="crispEdges">
<rect x="0" y="680" width="1210" height="1" fill="#e8e8e8"/>
<rect x="0" y="681" width="1210" height="1" fill="#fff"/>
<rect x="0" y="682" width="1210" height="1" fill="#000"/>
<rect x="0" y="683" width="1210" height="19" fill="#f0f0f0"/>
<rect x="0" y="702" width="1210" height="1" fill="#fbfbfb"/>
<rect x="0" y="703" width="1210" height="3" fill="#f0f0f0"/>
<rect x="0" y="683" width="1" height="18" fill="#696969"/>
<rect x="393" y="682" width="104" height="19" fill="#000"/>
<rect x="394" y="682" width="102" height="18" fill="#fff"/>
<rect x="97" y="685" width="1" height="14" fill="#808080"/>
<rect x="201" y="685" width="1" height="14" fill="#808080"/>
<rect x="289" y="685" width="1" height="14" fill="#808080"/>
<rect x="572" y="685" width="1" height="14" fill="#808080"/>
<rect x="641" y="685" width="1" height="14" fill="#808080"/>
<rect x="717" y="685" width="1" height="14" fill="#808080"/>
<rect x="809" y="685" width="1" height="14" fill="#808080"/>
<rect x="901" y="685" width="1" height="14" fill="#808080"/>
<path d="M1185 688v7l-4 -3.5z M1201 688v7l4 -3.5z" fill="#a0a0a0" shape-rendering="auto"/>
</g>
<text x="17.5" y="697" font-size="12.5" fill="#6d6d6d" textLength="67.7" lengthAdjust="spacingAndGlyphs" text-rendering="geometricPrecision">EURUSD,H4</text>
<text x="108.4" y="697" font-size="12.5" fill="#6d6d6d" textLength="81.6" lengthAdjust="spacingAndGlyphs" text-rendering="geometricPrecision">AUDUSD,Daily</text>
<text x="211.6" y="697" font-size="12.5" fill="#6d6d6d" textLength="66.1" lengthAdjust="spacingAndGlyphs" text-rendering="geometricPrecision">USDCHF,H4</text>
<text x="300.2" y="697" font-size="12.5" fill="#6d6d6d" textLength="80.6" lengthAdjust="spacingAndGlyphs" text-rendering="geometricPrecision">USDCAD,Daily</text>
<text x="509.1" y="697" font-size="12.5" fill="#6d6d6d" textLength="51.4" lengthAdjust="spacingAndGlyphs" text-rendering="geometricPrecision">UKOil,H1</text>
<text x="584.1" y="697" font-size="12.5" fill="#6d6d6d" textLength="45.1" lengthAdjust="spacingAndGlyphs" text-rendering="geometricPrecision">DJ30,H1</text>
<text x="653.5" y="697" font-size="12.5" fill="#6d6d6d" textLength="51.0" lengthAdjust="spacingAndGlyphs" text-rendering="geometricPrecision">USDX,H1</text>
<text x="728.1" y="697" font-size="12.5" fill="#6d6d6d" textLength="67.7" lengthAdjust="spacingAndGlyphs" text-rendering="geometricPrecision">XAUUSD,H1</text>
<text x="821.9" y="697" font-size="12.5" fill="#6d6d6d" textLength="66.5" lengthAdjust="spacingAndGlyphs" text-rendering="geometricPrecision">GBPUSD,H1</text>
<text x="403.7" y="697" font-size="12.5" fill="#000" textLength="82.2" lengthAdjust="spacingAndGlyphs" text-rendering="geometricPrecision">USDCNH,Daily</text>
</svg>
</body></html>
